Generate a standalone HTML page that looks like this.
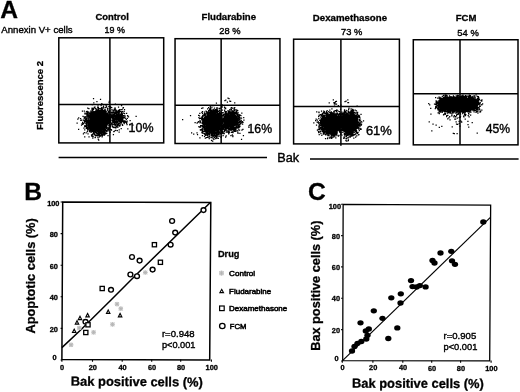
<!DOCTYPE html>
<html><head><meta charset="utf-8"><title>Figure</title>
<style>
html,body{margin:0;padding:0;background:#fff;}
body{width:520px;height:392px;overflow:hidden;font-family:"Liberation Sans",sans-serif;}
svg{display:block;position:absolute;left:0;top:0;filter:grayscale(1)}
text{font-family:"Liberation Sans",sans-serif;fill:#000;stroke:#000;stroke-width:.38px}
.b{stroke-width:.3px}
.b{font-weight:bold}
</style></head><body>
<svg width="520" height="392" viewBox="0 0 520 392">
<rect width="520" height="392" fill="#fff"/>
<text x="0.3" y="18.0" font-size="24.6" class="b">A</text>
<text x="1.3" y="33.4" font-size="9.7" textLength="71.3" lengthAdjust="spacingAndGlyphs">Annexin V+ cells</text>
<text x="95.4" y="19.7" font-size="9.8" class="b" textLength="33.5" lengthAdjust="spacingAndGlyphs">Control</text>
<text x="201.5" y="20.0" font-size="9.8" class="b" textLength="54.6" lengthAdjust="spacingAndGlyphs">Fludarabine</text>
<text x="312.8" y="21.0" font-size="9.8" class="b" textLength="74.3" lengthAdjust="spacingAndGlyphs">Dexamethasone</text>
<text x="455.7" y="20.9" font-size="9.8" class="b" textLength="20.7" lengthAdjust="spacingAndGlyphs">FCM</text>
<text x="104.6" y="33.0" font-size="9.8" textLength="20.4" lengthAdjust="spacingAndGlyphs">19 %</text>
<text x="219.2" y="34.0" font-size="9.8" textLength="21.3" lengthAdjust="spacingAndGlyphs">28 %</text>
<text x="341" y="35.2" font-size="9.8" textLength="21.3" lengthAdjust="spacingAndGlyphs">73 %</text>
<text x="457.3" y="35.5" font-size="9.8" textLength="21.5" lengthAdjust="spacingAndGlyphs">54 %</text>
<text x="43.3" y="130.0" font-size="9.8" class="b" textLength="69" lengthAdjust="spacingAndGlyphs" transform="rotate(-90 43.3 130.0)">Fluorescence 2</text>
<rect x="58.8" y="37.8" width="104.9" height="105.1" fill="none" stroke="#000" stroke-width="1.5"/>
<path d="M109.9 37.8V142.95M58.8 104.5H163.65" stroke="#000" stroke-width="1.5" fill="none"/>
<rect x="175.05" y="38.7" width="104.9" height="104.8" fill="none" stroke="#000" stroke-width="1.5"/>
<path d="M221.15 38.7V143.5M175.05 105.2H280.0" stroke="#000" stroke-width="1.5" fill="none"/>
<rect x="293.6" y="39.2" width="105.8" height="104.7" fill="none" stroke="#000" stroke-width="1.5"/>
<path d="M340.9 39.2V145.75M293.6 106.45H399.4" stroke="#000" stroke-width="1.5" fill="none"/>
<rect x="413.3" y="39.75" width="104.7" height="105.1" fill="none" stroke="#000" stroke-width="1.5"/>
<path d="M460.0 39.75V144.8M413.3 93.8H518.0" stroke="#000" stroke-width="1.5" fill="none"/>
<path d="M58.6 157.5H267M310 159.1H518.6" stroke="#000" stroke-width="1.5" fill="none"/>
<text x="277.2" y="161.8" font-size="12.5" textLength="21.9" lengthAdjust="spacingAndGlyphs">Bak</text>
<text x="128.5" y="131.7" font-size="13" textLength="25" lengthAdjust="spacingAndGlyphs">10%</text>
<text x="247.5" y="133" font-size="13" textLength="24.6" lengthAdjust="spacingAndGlyphs">16%</text>
<text x="365.9" y="135" font-size="13" textLength="26" lengthAdjust="spacingAndGlyphs">61%</text>
<text x="485.8" y="132.9" font-size="13" textLength="24.4" lengthAdjust="spacingAndGlyphs">45%</text>
<ellipse cx="98.8" cy="121.0" rx="8.1" ry="8.4" fill="#000"/>
<path d="M89.3 125.8h1.25M99.6 128.8h1.25M94.7 130.6h1.25M91.6 117.1h1.25M95.5 127.8h1.25M95.3 130.5h1.25M98.6 128.3h1.25M104.5 114.6h1.25M90.4 125.6h1.25M93.8 112.7h1.25M95.9 113.9h1.25M88.4 123.9h1.25M90.4 122.3h1.25M96.0 113.3h1.25M92.3 126.5h1.25M91.8 123.2h1.25M102.8 110.9h1.25M108.4 111.6h1.25M93.5 126.3h1.25M92.3 115.3h1.25M105.9 115.2h1.25M103.5 115.5h1.25M108.2 106.6h1.25M97.4 131.5h1.25M111.4 123.0h1.25M102.4 126.6h1.25M83.6 118.3h1.25M100.0 131.1h1.25M104.2 112.9h1.25M93.5 107.9h1.25M113.1 114.6h1.25M100.4 128.5h1.25M92.8 112.8h1.25M92.0 110.6h1.25M102.4 129.9h1.25M102.8 106.8h1.25M87.7 128.9h1.25M105.1 130.9h1.25M104.4 129.3h1.25M112.6 122.3h1.25M85.9 118.8h1.25M105.3 113.4h1.25M98.7 128.4h1.25M91.4 122.9h1.25M87.7 127.0h1.25M89.7 122.5h1.25M89.4 117.7h1.25M96.7 130.5h1.25M89.9 117.4h1.25M91.3 123.7h1.25M90.0 120.3h1.25M106.1 117.9h1.25M86.3 116.1h1.25M93.7 112.4h1.25M103.1 128.3h1.25M105.3 130.1h1.25M100.8 134.6h1.25M82.0 122.4h1.25M112.7 127.4h1.25M106.8 115.5h1.25M105.5 131.1h1.25M106.0 124.0h1.25M109.8 126.8h1.25M94.7 127.0h1.25M97.6 114.0h1.25M85.8 123.1h1.25M88.1 121.3h1.25M90.1 120.6h1.25M92.7 129.8h1.25M104.2 111.5h1.25M97.2 135.3h1.25M99.1 128.4h1.25M98.3 112.8h1.25M91.1 135.4h1.25M97.0 113.1h1.25M104.1 110.8h1.25M97.3 110.8h1.25M103.3 112.3h1.25M88.4 115.0h1.25M101.8 114.9h1.25M92.6 115.0h1.25M108.0 121.2h1.25M97.4 105.8h1.25M94.6 112.3h1.25M94.4 113.4h1.25M106.7 129.0h1.25M115.9 118.5h1.25M88.6 123.6h1.25M101.6 134.1h1.25M85.1 118.9h1.25M104.7 115.3h1.25M98.3 110.3h1.25M105.9 117.1h1.25M82.8 133.8h1.25M106.5 127.3h1.25M109.1 117.8h1.25M90.2 111.9h1.25M90.1 118.3h1.25M98.4 112.9h1.25M110.1 124.9h1.25M95.7 129.8h1.25M97.8 129.2h1.25M101.4 132.8h1.25M100.5 133.0h1.25M88.1 116.0h1.25M95.9 135.5h1.25M90.7 120.8h1.25M85.7 125.6h1.25M106.6 122.8h1.25M88.4 122.7h1.25M88.7 129.1h1.25M107.2 109.2h1.25M90.2 119.8h1.25M96.9 113.0h1.25M91.7 122.9h1.25M105.1 117.1h1.25M92.8 114.4h1.25M100.0 131.5h1.25M105.8 118.9h1.25M98.6 135.2h1.25M90.2 121.1h1.25M97.9 129.3h1.25M100.9 112.2h1.25M102.3 135.2h1.25M99.9 130.3h1.25M91.4 125.1h1.25M101.7 135.7h1.25M89.3 128.4h1.25M96.3 101.7h1.25M106.5 117.4h1.25M92.1 129.1h1.25M90.7 130.0h1.25M89.9 126.4h1.25M109.5 125.8h1.25M98.1 109.0h1.25M96.4 134.9h1.25M97.6 129.9h1.25M98.7 108.5h1.25M111.2 117.3h1.25M85.9 121.5h1.25M101.2 112.3h1.25M99.4 113.4h1.25M101.2 129.9h1.25M109.4 119.6h1.25M92.4 115.2h1.25M102.9 114.2h1.25M104.7 130.5h1.25M99.4 131.1h1.25M88.4 122.6h1.25M103.7 135.0h1.25M97.7 130.7h1.25M104.0 125.7h1.25M98.1 128.6h1.25M94.5 128.5h1.25M100.2 114.2h1.25M91.0 118.5h1.25M102.6 128.4h1.25M89.0 126.6h1.25M109.9 121.4h1.25M91.0 118.5h1.25M104.7 125.1h1.25M88.6 121.6h1.25M112.1 115.7h1.25M109.9 125.2h1.25M104.5 116.6h1.25M103.4 129.3h1.25M89.7 127.1h1.25M98.5 130.0h1.25M105.0 122.8h1.25M108.3 123.5h1.25M92.8 116.9h1.25M99.1 130.5h1.25M97.3 111.3h1.25M88.8 130.5h1.25M109.5 106.4h1.25M109.9 117.6h1.25M101.3 108.4h1.25M92.9 128.6h1.25M86.2 120.8h1.25M105.8 117.7h1.25M102.9 129.6h1.25M90.8 119.5h1.25M103.1 115.9h1.25M105.9 120.7h1.25M105.4 120.6h1.25M102.3 129.3h1.25M88.3 108.6h1.25M102.7 127.3h1.25M86.9 120.1h1.25M99.4 129.1h1.25M99.5 128.3h1.25M100.4 128.5h1.25M106.7 130.9h1.25M91.2 112.3h1.25M106.1 121.6h1.25M93.7 127.5h1.25M106.4 117.5h1.25M86.1 116.8h1.25M100.6 128.3h1.25M92.1 113.0h1.25M109.1 124.5h1.25M103.3 113.3h1.25M93.7 129.0h1.25M103.1 113.7h1.25M97.6 129.0h1.25M101.5 136.8h1.25M97.8 107.5h1.25M93.1 131.2h1.25M99.1 133.2h1.25M95.5 113.2h1.25M88.2 123.0h1.25M97.2 113.8h1.25M100.1 128.6h1.25M106.3 123.2h1.25M95.4 112.4h1.25M102.4 111.6h1.25M108.2 125.5h1.25M108.5 123.3h1.25M91.6 113.2h1.25M105.7 126.4h1.25M96.6 129.7h1.25M92.3 134.0h1.25M102.8 114.8h1.25M100.5 131.9h1.25M99.9 99.4h1.25M100.1 129.5h1.25M104.2 126.1h1.25M100.3 112.6h1.25M90.2 129.0h1.25M98.6 111.6h1.25M104.1 129.9h1.25M89.7 124.6h1.25M95.3 110.7h1.25M103.8 135.1h1.25M109.4 129.6h1.25M86.7 131.7h1.25M100.9 128.5h1.25M100.4 112.7h1.25M102.9 126.9h1.25M97.6 108.8h1.25M90.3 116.8h1.25M99.5 129.9h1.25M99.6 112.4h1.25M95.0 113.8h1.25M95.4 128.3h1.25M90.0 125.7h1.25M92.7 109.5h1.25M93.0 113.0h1.25M83.7 122.0h1.25M100.8 108.0h1.25M104.0 125.3h1.25M91.8 112.9h1.25M87.2 128.3h1.25M97.6 107.7h1.25M100.2 130.9h1.25M99.9 110.9h1.25M91.5 122.4h1.25M91.9 113.1h1.25M106.9 121.2h1.25M93.1 114.8h1.25M107.9 116.2h1.25M103.8 110.3h1.25M104.8 129.2h1.25M105.8 118.6h1.25M99.3 130.6h1.25M105.0 130.9h1.25M103.9 131.3h1.25M99.9 112.8h1.25M100.7 110.6h1.25M103.4 116.2h1.25M83.7 117.2h1.25M90.9 117.8h1.25M93.3 115.0h1.25M92.0 115.6h1.25M90.9 134.9h1.25M86.8 122.1h1.25M96.8 113.3h1.25M88.8 117.5h1.25M83.6 120.4h1.25M91.7 116.9h1.25M106.7 123.2h1.25M102.8 132.7h1.25M93.1 112.7h1.25M92.6 116.0h1.25M95.9 113.9h1.25M100.2 129.1h1.25M100.1 108.7h1.25M91.5 128.6h1.25M90.4 110.9h1.25M105.5 127.9h1.25M87.6 113.8h1.25M104.5 125.8h1.25M106.5 121.3h1.25M106.9 122.0h1.25M107.2 124.0h1.25M103.7 113.9h1.25M92.4 114.6h1.25M110.0 118.2h1.25M106.1 121.8h1.25M93.6 114.8h1.25M91.2 127.5h1.25M99.8 113.9h1.25M111.8 126.6h1.25M86.6 111.5h1.25M88.1 126.1h1.25M95.4 114.0h1.25M92.0 124.5h1.25M103.2 112.1h1.25M104.1 112.8h1.25M104.2 124.6h1.25M101.1 129.9h1.25M99.0 128.6h1.25M98.0 130.3h1.25M101.5 112.0h1.25M88.2 115.3h1.25M116.1 126.3h1.25M104.3 125.9h1.25M102.3 127.3h1.25M114.4 124.6h1.25M91.3 121.6h1.25M107.0 117.8h1.25M104.8 123.3h1.25M85.7 124.5h1.25M105.0 124.0h1.25M108.3 130.7h1.25M91.2 117.8h1.25M114.6 117.3h1.25M91.3 130.7h1.25M100.2 112.4h1.25M103.9 128.4h1.25M90.7 115.9h1.25M105.4 130.2h1.25M110.4 123.9h1.25M108.2 116.5h1.25M108.5 128.4h1.25M92.9 129.8h1.25M96.8 114.1h1.25M96.9 131.6h1.25M93.5 132.0h1.25M104.6 115.9h1.25M87.4 133.9h1.25M95.5 132.6h1.25M102.2 129.7h1.25M104.6 125.0h1.25M91.9 115.3h1.25M106.3 124.6h1.25M104.2 111.6h1.25M110.1 122.2h1.25M102.3 130.7h1.25M96.1 110.9h1.25M94.6 129.0h1.25M107.6 111.0h1.25M98.3 131.3h1.25M105.2 125.9h1.25M105.6 121.8h1.25M90.0 119.7h1.25M104.2 114.5h1.25M103.0 126.7h1.25M102.5 126.8h1.25M103.5 130.0h1.25M88.1 129.1h1.25M108.0 119.8h1.25M102.5 111.0h1.25M84.8 119.5h1.25M107.5 119.2h1.25M91.7 113.4h1.25M86.5 117.7h1.25M86.2 126.6h1.25M95.6 128.6h1.25M87.1 113.2h1.25M104.1 124.7h1.25M92.9 116.4h1.25M100.9 129.4h1.25M91.2 118.7h1.25M90.8 128.0h1.25M91.8 129.9h1.25M94.8 137.2h1.25M108.3 125.6h1.25M90.1 124.4h1.25M100.4 135.0h1.25M93.4 127.7h1.25M104.2 112.6h1.25M97.7 111.8h1.25M88.9 122.5h1.25M99.0 113.6h1.25M105.1 119.3h1.25M100.6 109.9h1.25M89.9 123.3h1.25M93.0 125.5h1.25M94.1 129.9h1.25M102.6 126.8h1.25M108.6 127.6h1.25M104.0 112.1h1.25M105.0 123.1h1.25M106.5 116.4h1.25M90.1 120.1h1.25M93.8 126.9h1.25M106.0 118.3h1.25M92.7 125.2h1.25M108.5 111.1h1.25M91.3 123.9h1.25M92.1 135.1h1.25M104.8 115.7h1.25M109.6 120.3h1.25M93.3 115.4h1.25M106.0 120.7h1.25M90.2 126.2h1.25M94.8 131.1h1.25M91.4 121.1h1.25M105.4 120.9h1.25M88.3 119.5h1.25M107.5 121.8h1.25M107.8 128.1h1.25M103.8 116.3h1.25M91.3 123.9h1.25M110.3 124.5h1.25M93.7 132.0h1.25M95.9 128.2h1.25M85.1 121.4h1.25M91.7 126.7h1.25M94.3 131.6h1.25M103.9 134.8h1.25M105.5 128.3h1.25M106.1 122.8h1.25M103.0 128.3h1.25M97.0 131.5h1.25M88.7 124.7h1.25M104.1 127.4h1.25M104.1 116.6h1.25M98.5 128.7h1.25M91.6 120.4h1.25M94.5 114.9h1.25M103.0 130.8h1.25M88.6 128.0h1.25M106.3 113.5h1.25M94.9 113.5h1.25M91.5 125.3h1.25M98.4 131.8h1.25M107.2 129.2h1.25M95.4 128.4h1.25M102.0 114.8h1.25M108.5 121.1h1.25M102.8 114.9h1.25M106.0 116.2h1.25M98.1 110.5h1.25M109.3 128.3h1.25M105.8 117.4h1.25M102.0 114.1h1.25M106.2 123.9h1.25M85.9 120.0h1.25M95.4 111.3h1.25M84.6 116.7h1.25M96.2 113.0h1.25M86.4 125.4h1.25M94.9 132.1h1.25M101.0 114.5h1.25M102.2 128.3h1.25M89.4 123.3h1.25M101.0 129.2h1.25M115.1 122.2h1.25M105.7 125.5h1.25M101.8 130.1h1.25M105.1 117.1h1.25M105.5 117.8h1.25M107.5 122.7h1.25M91.5 112.7h1.25M102.9 129.6h1.25M102.3 130.6h1.25M93.7 126.2h1.25M105.1 122.9h1.25M101.9 113.1h1.25M96.1 128.0h1.25M84.9 126.2h1.25M102.7 132.7h1.25M104.0 111.7h1.25M90.9 124.1h1.25M109.9 118.8h1.25M111.9 118.7h1.25M95.0 114.1h1.25M86.3 115.0h1.25M92.1 130.7h1.25M101.4 128.8h1.25M105.1 125.2h1.25M91.5 119.6h1.25M103.5 116.5h1.25M91.1 120.4h1.25M88.3 125.1h1.25M96.3 111.8h1.25M106.9 120.5h1.25M104.8 133.5h1.25M105.5 121.7h1.25M95.7 129.4h1.25M104.1 116.0h1.25M87.2 116.2h1.25M102.7 129.1h1.25M99.0 112.6h1.25M97.2 107.4h1.25M105.4 123.1h1.25M89.0 118.0h1.25M105.5 117.2h1.25M102.0 114.7h1.25M105.1 130.0h1.25M94.7 111.5h1.25M105.1 113.8h1.25M102.4 130.4h1.25M104.0 130.1h1.25M103.5 115.5h1.25M104.0 116.4h1.25M91.4 122.5h1.25M103.2 127.6h1.25M97.8 128.2h1.25M114.5 116.3h1.25M89.7 117.4h1.25M99.5 113.2h1.25M101.4 110.1h1.25M99.0 111.8h1.25M91.1 136.0h1.25M91.7 123.4h1.25M97.3 114.0h1.25M91.7 131.6h1.25M84.3 113.0h1.25M86.8 122.2h1.25M89.7 114.3h1.25M101.2 129.6h1.25M102.3 110.4h1.25M87.6 118.4h1.25M94.1 129.3h1.25M91.6 125.7h1.25M105.6 123.2h1.25M91.0 121.3h1.25M104.5 117.7h1.25M105.3 123.7h1.25M91.3 119.2h1.25M94.3 114.7h1.25M96.1 111.8h1.25M94.9 130.0h1.25M85.6 119.1h1.25M93.1 113.0h1.25M97.4 108.4h1.25M107.5 122.8h1.25M93.1 131.8h1.25M109.7 114.4h1.25M98.7 113.0h1.25M105.4 112.4h1.25M98.4 110.6h1.25M95.3 114.1h1.25M88.5 115.5h1.25M100.3 110.0h1.25M109.8 107.3h1.25M102.3 128.4h1.25M91.9 131.6h1.25M109.4 110.4h1.25M99.2 130.9h1.25M86.2 121.3h1.25M101.4 135.3h1.25M106.5 121.6h1.25M91.7 119.1h1.25M109.2 119.7h1.25M85.6 128.3h1.25M88.7 113.0h1.25M106.0 128.2h1.25M94.2 115.4h1.25M98.0 110.0h1.25M83.7 111.1h1.25M92.2 114.3h1.25M91.0 119.7h1.25M95.0 128.1h1.25M99.5 128.6h1.25M106.1 131.0h1.25M103.0 130.2h1.25M91.9 112.9h1.25M90.8 128.2h1.25M92.3 128.9h1.25M83.7 132.6h1.25M101.0 112.0h1.25M100.4 127.9h1.25M102.0 129.0h1.25M91.3 112.6h1.25M89.8 125.6h1.25M91.8 125.4h1.25M87.5 115.0h1.25M106.7 119.4h1.25M106.5 125.0h1.25M105.7 115.5h1.25M88.3 123.5h1.25M87.1 122.9h1.25M101.9 113.6h1.25M95.4 114.6h1.25M106.0 125.9h1.25M106.0 123.9h1.25M81.8 111.0h1.25M114.5 121.6h1.25M98.0 132.1h1.25M104.8 113.5h1.25M91.2 121.5h1.25M104.3 117.5h1.25M92.4 124.9h1.25M96.9 130.9h1.25M95.9 111.2h1.25M86.2 124.7h1.25M91.2 124.2h1.25M104.4 117.6h1.25M90.2 121.1h1.25M101.1 107.6h1.25M105.1 116.2h1.25M106.1 124.0h1.25M99.1 128.4h1.25M102.9 106.1h1.25M89.8 123.0h1.25M114.2 112.4h1.25M93.1 128.6h1.25M87.6 122.1h1.25M106.5 114.3h1.25M86.8 112.5h1.25M105.7 118.2h1.25M98.4 130.2h1.25M104.6 124.0h1.25M89.3 117.9h1.25M92.7 126.9h1.25M104.5 132.7h1.25M104.3 111.5h1.25M99.0 132.3h1.25M100.1 114.0h1.25M99.5 130.2h1.25M95.3 132.4h1.25M90.5 115.5h1.25M85.8 111.7h1.25M92.2 115.2h1.25M92.9 129.6h1.25M98.6 130.1h1.25M116.7 118.1h1.25M100.5 109.0h1.25M90.9 113.3h1.25M105.5 125.9h1.25M105.6 133.4h1.25M104.3 109.4h1.25M98.0 110.4h1.25M102.6 112.3h1.25M94.1 134.6h1.25M107.6 119.1h1.25M105.2 116.4h1.25M90.9 127.2h1.25M93.0 108.8h1.25M92.4 112.3h1.25M89.8 115.0h1.25M92.0 129.6h1.25M97.2 129.6h1.25M93.1 112.4h1.25M96.5 135.0h1.25M100.1 132.6h1.25M84.8 121.0h1.25M104.2 133.0h1.25M88.1 117.4h1.25M89.4 130.0h1.25M94.3 114.3h1.25M90.3 119.8h1.25M102.5 113.7h1.25M89.8 124.0h1.25M97.1 111.8h1.25M109.2 117.6h1.25M92.3 117.2h1.25M91.3 126.8h1.25M96.5 130.3h1.25M106.0 119.9h1.25M106.6 119.0h1.25M89.3 116.2h1.25M87.3 119.8h1.25M111.8 118.0h1.25M93.6 133.5h1.25M101.7 132.7h1.25M102.3 114.2h1.25M90.8 118.0h1.25M96.5 128.7h1.25M101.5 114.6h1.25M89.7 118.2h1.25M89.9 126.3h1.25M95.6 128.5h1.25M92.8 114.6h1.25M88.2 129.2h1.25M102.6 131.4h1.25M90.3 119.9h1.25M87.7 120.9h1.25M103.6 112.8h1.25M103.0 127.8h1.25M86.8 121.0h1.25M97.9 110.6h1.25M95.9 112.6h1.25M90.3 114.7h1.25M105.0 125.7h1.25M105.9 121.2h1.25M91.8 123.4h1.25M108.1 123.6h1.25M99.5 128.8h1.25M94.9 127.3h1.25M103.5 112.4h1.25M107.5 122.9h1.25M105.3 124.0h1.25M91.1 120.4h1.25M110.3 107.3h1.25M90.5 123.4h1.25M97.6 128.1h1.25M107.1 119.4h1.25M105.9 116.7h1.25M109.0 121.9h1.25M87.1 108.2h1.25M91.2 130.5h1.25M110.2 120.3h1.25M88.4 122.5h1.25M103.7 125.6h1.25M110.0 122.6h1.25M112.6 115.7h1.25M102.2 111.1h1.25M108.5 121.6h1.25M90.3 112.8h1.25M98.8 133.2h1.25M104.0 125.6h1.25M91.7 116.9h1.25M94.3 113.2h1.25M93.4 114.1h1.25M105.7 130.5h1.25M90.9 127.2h1.25M92.4 114.1h1.25M110.6 129.5h1.25M99.0 133.9h1.25M92.4 109.6h1.25M106.7 119.5h1.25M100.9 109.6h1.25M108.8 121.2h1.25M93.0 115.9h1.25M103.0 112.0h1.25M103.9 126.6h1.25M105.0 120.0h1.25M105.6 126.0h1.25M86.6 111.4h1.25M104.6 126.6h1.25M92.1 125.2h1.25M105.9 116.4h1.25M107.1 115.4h1.25M106.3 122.6h1.25M88.3 125.8h1.25M84.1 126.5h1.25M106.6 117.1h1.25M107.3 120.7h1.25M107.5 112.7h1.25M99.5 111.4h1.25M106.3 127.4h1.25M84.7 117.6h1.25M90.6 119.4h1.25M105.4 116.6h1.25M94.5 137.6h1.25M97.8 129.9h1.25M95.1 113.1h1.25M97.5 135.4h1.25M91.7 116.6h1.25M84.0 121.6h1.25M96.9 130.5h1.25M91.4 125.6h1.25M104.3 113.0h1.25M102.6 132.3h1.25M94.4 114.7h1.25M110.9 130.1h1.25M94.3 115.1h1.25M91.6 127.5h1.25M93.0 111.9h1.25M85.9 123.5h1.25M98.0 113.8h1.25M108.7 118.4h1.25M100.5 128.9h1.25M109.7 132.0h1.25M92.1 116.0h1.25M102.6 108.2h1.25M99.4 128.5h1.25M98.3 113.6h1.25M89.0 127.8h1.25M105.8 120.6h1.25M100.3 135.1h1.25M91.6 123.0h1.25M108.3 130.8h1.25M88.5 115.3h1.25M88.8 127.4h1.25M106.9 110.2h1.25M109.7 125.0h1.25M94.9 135.2h1.25M104.0 112.7h1.25M98.6 129.2h1.25M101.9 109.6h1.25M103.9 116.6h1.25M90.3 119.7h1.25M97.9 113.2h1.25M91.9 108.6h1.25M90.3 122.3h1.25M107.5 118.5h1.25M86.0 127.0h1.25M86.7 128.7h1.25M99.3 130.1h1.25M93.5 112.8h1.25M87.1 114.4h1.25M93.1 127.9h1.25M106.4 121.9h1.25M88.8 131.5h1.25M102.3 114.1h1.25M94.4 107.0h1.25M97.9 131.4h1.25M104.8 111.7h1.25M89.8 119.0h1.25M103.7 131.7h1.25M92.9 98.5h1.25M107.8 129.6h1.25M104.6 125.3h1.25M97.5 130.9h1.25M103.0 132.9h1.25M101.1 111.4h1.25M95.7 111.2h1.25M94.7 114.8h1.25M100.8 127.9h1.25M89.8 119.1h1.25M96.3 128.7h1.25M89.6 113.0h1.25M95.3 128.7h1.25M99.7 110.6h1.25M107.6 118.4h1.25M94.8 129.2h1.25M105.6 131.6h1.25M96.1 111.7h1.25M86.6 125.2h1.25M90.9 123.2h1.25M113.1 124.7h1.25M106.5 124.9h1.25M96.1 130.3h1.25M102.5 129.5h1.25M98.9 135.9h1.25M97.8 130.2h1.25M105.4 118.9h1.25M89.9 122.9h1.25M82.1 124.3h1.25M102.5 129.2h1.25M103.0 110.9h1.25M107.4 121.6h1.25M109.0 112.8h1.25M104.1 112.6h1.25M90.9 112.2h1.25M98.7 133.6h1.25M107.0 120.5h1.25M104.1 112.0h1.25M106.5 131.1h1.25M94.8 113.7h1.25M103.0 115.9h1.25M93.3 129.3h1.25M107.8 122.6h1.25M102.6 107.8h1.25M90.6 112.2h1.25M105.4 115.6h1.25M103.3 115.8h1.25M89.6 115.5h1.25M104.1 115.3h1.25M106.4 118.8h1.25M102.4 112.1h1.25M99.8 130.1h1.25M100.5 132.4h1.25M95.2 108.5h1.25M121.7 114.2h1.25M104.1 117.2h1.25M107.6 113.8h1.25M85.8 120.1h1.25M103.0 127.2h1.25M91.8 124.5h1.25M93.7 128.5h1.25M89.0 113.7h1.25M90.9 116.4h1.25M96.3 112.4h1.25M104.8 110.2h1.25M100.7 112.9h1.25M90.8 123.0h1.25M93.6 129.2h1.25M92.0 125.2h1.25M84.8 126.6h1.25M100.6 128.1h1.25M94.1 107.1h1.25M93.4 127.9h1.25M104.5 130.2h1.25M108.8 121.4h1.25M93.7 127.3h1.25M96.3 127.8h1.25M97.1 107.4h1.25M91.3 129.2h1.25M91.4 116.5h1.25M104.7 118.6h1.25M106.1 115.0h1.25M86.1 118.4h1.25M92.7 126.0h1.25M97.5 130.1h1.25M109.4 113.8h1.25M101.4 129.7h1.25M104.6 114.3h1.25M106.7 122.2h1.25M101.4 128.0h1.25M99.9 136.1h1.25M93.1 128.4h1.25M90.3 119.4h1.25M89.4 124.7h1.25M87.7 124.5h1.25M108.3 117.1h1.25M101.3 111.7h1.25M108.0 121.4h1.25M94.9 114.6h1.25M86.8 128.7h1.25M105.0 117.7h1.25M106.2 115.4h1.25M105.5 105.5h1.25M94.5 129.6h1.25M96.4 133.5h1.25M106.5 117.0h1.25M98.8 113.7h1.25M97.3 113.0h1.25M89.7 121.3h1.25M90.0 130.1h1.25M89.5 116.6h1.25M87.9 124.0h1.25M104.9 127.3h1.25M98.4 131.3h1.25M105.1 111.5h1.25M96.6 112.1h1.25M104.8 128.8h1.25M104.5 116.7h1.25M99.3 113.2h1.25M108.0 128.2h1.25M94.6 112.6h1.25M88.5 123.4h1.25M95.5 114.5h1.25M89.7 117.8h1.25M104.2 130.9h1.25M113.1 117.0h1.25M86.0 113.8h1.25M93.5 115.8h1.25M105.6 118.5h1.25M103.5 114.7h1.25M105.1 121.4h1.25M102.5 113.9h1.25M113.4 113.3h1.25M88.2 127.1h1.25M92.0 134.1h1.25M105.7 107.2h1.25M91.3 109.2h1.25M105.8 120.7h1.25M102.9 128.6h1.25M91.0 130.3h1.25M102.6 127.0h1.25M92.1 117.8h1.25M99.1 130.4h1.25M93.4 111.7h1.25M86.1 120.8h1.25M104.9 125.3h1.25M93.0 132.0h1.25M102.8 114.4h1.25M105.4 126.5h1.25M91.7 104.5h1.25M97.5 129.3h1.25M91.6 126.0h1.25M82.4 116.4h1.25M107.4 116.9h1.25M104.0 127.1h1.25M85.3 113.8h1.25M96.2 111.2h1.25M90.8 116.5h1.25M96.7 109.9h1.25M104.4 130.4h1.25M111.1 107.7h1.25M106.3 115.7h1.25M86.2 113.2h1.25M104.9 118.7h1.25M91.1 120.5h1.25M99.4 112.3h1.25M91.4 126.1h1.25M89.6 122.0h1.25M98.6 111.9h1.25M99.3 130.8h1.25M94.9 113.9h1.25M91.5 108.2h1.25M105.8 127.3h1.25M95.6 109.4h1.25M107.6 115.8h1.25M105.1 111.5h1.25M101.6 130.0h1.25M106.8 129.2h1.25M92.5 125.5h1.25M92.0 127.8h1.25M95.1 113.9h1.25M106.3 122.1h1.25M105.6 111.3h1.25M92.2 117.2h1.25M93.8 115.0h1.25M90.7 130.1h1.25M107.7 123.4h1.25M97.2 130.6h1.25M91.7 114.1h1.25M97.7 130.3h1.25M96.2 129.4h1.25M90.9 129.0h1.25M94.5 127.6h1.25M104.2 126.4h1.25M86.5 128.0h1.25M94.1 113.9h1.25M100.9 135.0h1.25M101.9 128.1h1.25M97.9 129.0h1.25M90.9 121.8h1.25M95.4 128.9h1.25M91.3 114.5h1.25M101.7 114.7h1.25M108.2 119.0h1.25M104.1 125.8h1.25M111.5 115.0h1.25M97.1 131.8h1.25M109.6 122.2h1.25M102.3 113.5h1.25M96.1 133.4h1.25M109.5 108.6h1.25M107.1 116.4h1.25M104.4 117.8h1.25M102.7 134.2h1.25M98.0 110.4h1.25M107.2 122.6h1.25M97.4 112.8h1.25M88.8 120.6h1.25M97.1 128.9h1.25M93.2 126.1h1.25M101.6 114.8h1.25M104.5 113.5h1.25M92.1 108.7h1.25M100.3 132.1h1.25M107.3 123.3h1.25M91.3 117.4h1.25M93.2 114.3h1.25M90.0 118.2h1.25M104.1 111.4h1.25M91.7 128.1h1.25M104.8 126.4h1.25M107.1 123.2h1.25M99.5 110.5h1.25M94.6 114.9h1.25M88.2 117.0h1.25M90.7 129.5h1.25M105.9 121.7h1.25M96.3 112.2h1.25M93.4 114.6h1.25M95.0 127.7h1.25M103.9 127.0h1.25M88.9 118.1h1.25M93.9 134.9h1.25M92.1 112.6h1.25M87.9 124.6h1.25M89.8 124.5h1.25M86.9 127.0h1.25M98.8 128.2h1.25M91.0 116.5h1.25M94.5 132.8h1.25M104.8 128.9h1.25M89.5 114.6h1.25M105.9 124.4h1.25M97.1 128.9h1.25M88.6 127.2h1.25M109.6 119.6h1.25M101.2 113.9h1.25M106.1 120.9h1.25M97.9 128.7h1.25M90.0 123.1h1.25M90.6 122.2h1.25M95.4 112.3h1.25M92.6 125.2h1.25M103.3 133.7h1.25M101.2 103.7h1.25M97.9 112.1h1.25M103.9 111.0h1.25M101.4 110.7h1.25M102.2 127.0h1.25M103.1 128.4h1.25M112.0 121.0h1.25M105.2 126.2h1.25M95.0 135.4h1.25M109.5 120.2h1.25M95.9 111.1h1.25M88.9 117.8h1.25M96.5 113.9h1.25M93.2 115.5h1.25M101.0 114.3h1.25M94.9 108.5h1.25M91.7 109.8h1.25M104.1 126.0h1.25M98.4 129.5h1.25M115.6 115.1h1.25M100.3 113.4h1.25M86.9 128.3h1.25M103.8 113.1h1.25M95.0 127.9h1.25M102.6 113.6h1.25M102.0 114.6h1.25M97.7 128.8h1.25M105.3 126.4h1.25M89.4 114.4h1.25M104.1 115.3h1.25M107.2 116.0h1.25M98.4 128.3h1.25M95.7 130.1h1.25M95.0 127.1h1.25M87.4 116.0h1.25M91.7 122.8h1.25M105.7 119.5h1.25M93.2 102.8h1.25M93.6 131.3h1.25M92.5 112.9h1.25M86.8 113.8h1.25M92.8 129.3h1.25M89.6 117.5h1.25M85.6 121.6h1.25M86.5 117.2h1.25M96.1 114.0h1.25M104.5 129.1h1.25M101.0 134.0h1.25M105.1 113.2h1.25M99.3 111.4h1.25M106.0 106.9h1.25M104.4 110.1h1.25M95.0 113.2h1.25M98.2 128.0h1.25M105.5 111.9h1.25M95.7 113.1h1.25M99.9 111.6h1.25M106.4 125.2h1.25M98.5 129.3h1.25M98.8 130.9h1.25M96.5 130.0h1.25M103.4 115.0h1.25M89.4 129.7h1.25M91.7 123.3h1.25M83.3 128.0h1.25M90.7 128.2h1.25M92.5 114.0h1.25M108.3 114.6h1.25M84.5 123.0h1.25M105.1 117.2h1.25M84.1 129.9h1.25M104.1 112.5h1.25M101.0 112.4h1.25M88.2 115.6h1.25M91.2 120.1h1.25M104.3 132.7h1.25M105.2 120.1h1.25M93.0 129.1h1.25M99.1 130.7h1.25M94.2 113.6h1.25M107.0 116.0h1.25M104.6 123.9h1.25M97.7 113.2h1.25M100.8 113.9h1.25M92.9 125.5h1.25M106.3 119.6h1.25M88.1 124.8h1.25M99.2 129.7h1.25M98.8 113.7h1.25M100.8 130.5h1.25M107.3 123.2h1.25M97.8 129.3h1.25M97.4 112.7h1.25M91.2 119.3h1.25M93.2 128.4h1.25M102.4 129.0h1.25M107.8 112.2h1.25M98.3 112.4h1.25M97.9 134.7h1.25M87.8 126.1h1.25M109.8 122.0h1.25M113.8 122.8h1.25M115.2 113.3h1.25M117.7 111.8h1.25M114.6 119.7h1.25M114.1 116.2h1.25M117.1 116.7h1.25M116.5 123.2h1.25M112.3 121.9h1.25M118.6 123.5h1.25M119.4 117.2h1.25M120.1 118.4h1.25M119.9 122.0h1.25M116.7 115.5h1.25M117.8 115.7h1.25M116.6 112.3h1.25M113.2 121.4h1.25M108.3 127.5h1.25M118.0 123.0h1.25M123.6 123.5h1.25M116.0 111.3h1.25M118.4 116.9h1.25M115.2 113.5h1.25M108.5 121.6h1.25M120.8 115.7h1.25M106.5 119.0h1.25M114.8 117.2h1.25M125.2 121.8h1.25M103.2 123.1h1.25M118.1 117.0h1.25M114.6 108.8h1.25M121.1 115.2h1.25M117.7 114.1h1.25M119.7 115.8h1.25M127.2 128.8h1.25M116.7 120.0h1.25M112.4 112.3h1.25M100.6 125.6h1.25M114.4 118.3h1.25M126.4 124.5h1.25M115.8 116.2h1.25M109.8 117.7h1.25M106.5 116.9h1.25M119.9 114.1h1.25M116.4 122.6h1.25M105.9 113.4h1.25M100.1 116.4h1.25M120.7 117.9h1.25M119.9 120.9h1.25M121.4 115.0h1.25M113.2 110.5h1.25M113.3 124.5h1.25M109.3 115.4h1.25M118.4 121.2h1.25M120.9 105.5h1.25M116.6 119.6h1.25M115.8 110.9h1.25M109.2 116.9h1.25M111.4 112.1h1.25M107.1 117.8h1.25M119.8 121.0h1.25M109.8 119.9h1.25M111.7 120.6h1.25M119.2 117.0h1.25M115.1 113.0h1.25M111.8 115.1h1.25M126.7 118.4h1.25M114.7 122.5h1.25M126.5 121.0h1.25M116.2 121.0h1.25M117.7 112.5h1.25M117.0 125.7h1.25M117.6 115.7h1.25M124.4 116.8h1.25M117.1 118.8h1.25M124.8 121.0h1.25M105.0 119.1h1.25M114.2 116.1h1.25M112.5 119.2h1.25M115.7 115.2h1.25M112.2 122.5h1.25M107.0 120.6h1.25M115.1 113.5h1.25M120.5 116.3h1.25M120.2 120.5h1.25M112.9 114.3h1.25M120.8 121.7h1.25M113.5 123.5h1.25M112.0 117.2h1.25M114.5 125.4h1.25M115.6 122.4h1.25M117.8 120.1h1.25M117.1 121.5h1.25M116.3 112.8h1.25M108.7 122.3h1.25M105.3 122.2h1.25M122.4 116.7h1.25M112.9 120.0h1.25M119.8 114.6h1.25M109.7 118.9h1.25M118.1 121.2h1.25M115.6 117.4h1.25M114.2 118.2h1.25M118.4 125.8h1.25M114.1 120.6h1.25M115.1 121.7h1.25M118.0 110.6h1.25M114.5 115.6h1.25M118.1 120.6h1.25M119.1 112.0h1.25M116.7 130.5h1.25M115.1 118.7h1.25M115.6 126.4h1.25M113.2 114.0h1.25M115.3 119.5h1.25M121.0 105.5h1.25M114.2 114.1h1.25M129.1 124.4h1.25M112.3 114.7h1.25M104.7 121.7h1.25M119.8 123.1h1.25M112.7 117.3h1.25M118.5 119.3h1.25M110.0 117.0h1.25M114.4 107.9h1.25M129.5 120.7h1.25M114.8 119.8h1.25M116.6 115.1h1.25M120.8 111.8h1.25M112.3 110.0h1.25M120.4 123.1h1.25M118.1 119.6h1.25M119.7 120.7h1.25M110.9 116.0h1.25M120.0 119.7h1.25M123.9 109.7h1.25M106.9 115.7h1.25M119.0 119.9h1.25M119.3 114.6h1.25M113.6 117.0h1.25M118.7 109.6h1.25M114.8 119.9h1.25M114.2 113.3h1.25M121.7 124.6h1.25M117.8 113.6h1.25M107.3 116.9h1.25M111.1 123.1h1.25M121.8 111.6h1.25M113.2 120.3h1.25M117.4 113.8h1.25M120.6 128.7h1.25M118.4 112.3h1.25M110.7 116.3h1.25M126.1 123.0h1.25M121.1 122.8h1.25M118.8 110.9h1.25M116.7 117.7h1.25M116.6 114.9h1.25M116.4 114.8h1.25M123.1 113.0h1.25M111.8 118.0h1.25M117.6 110.7h1.25M115.3 112.2h1.25M108.8 124.7h1.25M109.5 119.3h1.25M97.5 114.5h1.25M122.7 113.1h1.25M117.8 115.4h1.25M113.8 109.2h1.25M123.7 117.3h1.25M117.5 118.8h1.25M114.2 120.7h1.25M126.2 122.2h1.25M110.6 115.7h1.25M112.1 114.9h1.25M124.2 115.5h1.25M118.4 118.6h1.25M119.9 120.9h1.25M122.8 107.5h1.25M116.2 118.5h1.25M122.1 119.5h1.25M112.9 112.3h1.25M113.3 124.6h1.25M114.7 112.4h1.25M115.7 118.8h1.25M113.5 115.5h1.25M123.5 111.3h1.25M112.7 117.7h1.25M114.8 104.2h1.25M120.9 117.7h1.25M113.9 116.2h1.25M109.9 126.1h1.25M114.9 120.2h1.25M107.6 112.9h1.25M107.7 115.5h1.25M118.3 116.7h1.25M122.6 117.5h1.25M116.0 118.5h1.25M115.4 123.4h1.25M105.1 112.5h1.25M118.9 115.0h1.25M121.5 118.1h1.25M115.9 121.9h1.25M116.7 124.7h1.25M125.9 123.3h1.25M114.4 113.5h1.25M132.3 125.1h1.25M106.9 119.6h1.25M121.8 115.0h1.25M101.1 116.0h1.25M111.1 109.8h1.25M106.4 114.3h1.25M116.7 116.7h1.25M113.3 116.3h1.25M112.9 118.6h1.25M109.4 113.8h1.25M123.0 121.5h1.25M115.7 125.8h1.25M119.4 114.8h1.25M116.2 111.3h1.25M121.6 118.1h1.25M103.3 110.7h1.25M123.3 120.7h1.25M117.0 122.4h1.25M113.9 121.1h1.25M118.8 121.5h1.25M111.8 124.8h1.25M122.0 121.3h1.25M118.2 116.4h1.25M113.5 113.6h1.25M109.2 112.5h1.25M108.1 118.7h1.25M113.0 118.9h1.25M105.3 114.5h1.25M111.6 116.1h1.25M110.1 112.0h1.25M108.7 101.3h1.25M121.3 115.7h1.25M118.4 115.2h1.25M117.9 117.3h1.25M107.3 118.6h1.25M126.0 113.4h1.25M117.3 118.0h1.25M122.4 118.5h1.25M119.1 126.2h1.25M120.8 116.4h1.25M112.0 116.6h1.25M120.0 117.6h1.25M120.6 113.8h1.25M113.8 123.5h1.25M123.1 122.6h1.25M110.5 116.8h1.25M127.9 116.9h1.25M115.3 110.4h1.25M125.7 119.4h1.25M112.9 114.6h1.25M124.0 113.7h1.25M113.4 121.1h1.25M127.3 116.1h1.25M121.5 117.6h1.25M114.5 109.2h1.25M117.0 114.3h1.25M124.5 122.4h1.25M112.1 117.2h1.25M120.8 121.4h1.25M121.5 117.0h1.25M118.2 111.7h1.25M117.9 107.1h1.25M123.7 121.3h1.25M113.8 121.3h1.25M121.3 119.3h1.25M122.2 117.4h1.25M107.0 116.5h1.25M108.5 121.4h1.25M119.5 114.9h1.25M115.4 111.5h1.25M114.1 116.7h1.25M115.0 119.7h1.25M114.2 110.2h1.25M118.3 124.6h1.25M113.2 115.3h1.25M112.7 119.7h1.25M121.0 112.6h1.25M118.0 120.7h1.25M120.2 118.9h1.25M104.5 118.7h1.25M111.4 112.9h1.25M115.9 117.6h1.25M116.7 115.2h1.25M117.3 124.1h1.25M124.6 118.4h1.25M115.7 122.0h1.25M120.1 117.6h1.25M113.5 121.8h1.25M115.5 118.3h1.25M115.4 110.0h1.25M117.2 127.3h1.25M118.7 125.7h1.25M120.5 121.3h1.25M119.4 120.2h1.25M112.6 111.8h1.25M114.0 119.2h1.25M121.5 109.7h1.25M124.1 121.1h1.25M114.0 120.0h1.25M120.2 109.6h1.25M119.8 116.1h1.25M114.2 114.5h1.25M123.6 122.3h1.25M118.8 120.3h1.25M111.8 113.2h1.25M116.1 114.3h1.25M117.9 120.5h1.25M120.4 119.5h1.25M114.7 115.9h1.25M110.5 114.4h1.25M121.7 120.8h1.25M124.0 121.3h1.25M110.5 114.5h1.25M121.0 116.0h1.25M106.2 115.3h1.25M116.8 111.8h1.25M107.3 108.6h1.25M116.2 114.3h1.25M112.4 118.7h1.25M117.5 124.6h1.25M108.6 120.7h1.25M135.5 116.4h1.25M115.3 124.3h1.25M121.4 115.7h1.25M121.9 118.3h1.25M115.1 119.5h1.25M118.9 118.7h1.25M112.4 121.9h1.25M113.0 119.7h1.25M102.9 113.1h1.25M113.2 120.7h1.25M102.8 118.0h1.25M118.4 119.8h1.25M111.8 120.2h1.25M109.6 119.7h1.25M111.5 112.7h1.25M115.3 118.6h1.25M109.2 116.2h1.25M115.8 113.1h1.25M113.5 127.6h1.25M114.2 127.1h1.25M115.2 122.8h1.25M118.7 119.6h1.25M120.9 119.7h1.25M113.8 109.6h1.25M119.8 114.7h1.25M105.0 119.2h1.25M115.9 120.1h1.25M119.0 118.3h1.25M106.5 113.4h1.25M110.1 118.1h1.25M115.0 127.8h1.25M108.7 117.1h1.25M122.8 115.7h1.25M118.2 115.5h1.25M120.1 121.7h1.25M110.2 118.8h1.25M114.7 111.9h1.25M122.3 108.1h1.25M118.0 117.3h1.25M112.1 118.6h1.25M118.4 116.1h1.25M126.9 115.5h1.25M120.6 120.6h1.25M116.8 114.6h1.25M116.8 117.4h1.25M123.3 121.8h1.25M119.4 116.0h1.25M116.2 118.9h1.25M120.7 119.6h1.25M110.8 123.3h1.25M109.4 116.9h1.25M110.9 115.1h1.25M119.9 111.3h1.25M117.4 118.4h1.25M106.9 108.3h1.25M117.8 115.7h1.25M116.5 112.3h1.25M113.8 116.2h1.25M121.0 122.1h1.25M116.7 116.8h1.25M120.1 116.9h1.25M117.7 115.8h1.25M121.4 113.9h1.25M123.2 117.7h1.25M116.8 112.0h1.25M117.3 124.1h1.25M119.2 119.7h1.25M111.2 116.3h1.25M112.6 115.8h1.25M119.1 114.0h1.25M102.2 111.2h1.25M118.9 123.0h1.25M107.7 118.7h1.25M111.4 117.3h1.25M103.3 116.9h1.25M97.3 129.2h1.25M92.7 123.0h1.25M90.6 124.0h1.25M109.1 111.1h1.25M99.0 126.7h1.25M116.5 126.1h1.25M94.0 130.5h1.25M103.6 129.6h1.25M94.0 115.6h1.25M100.4 129.3h1.25M91.5 117.0h1.25M80.0 118.7h1.25M91.7 123.4h1.25M112.4 119.6h1.25M95.4 127.7h1.25M88.8 123.5h1.25M99.3 121.0h1.25M95.3 115.0h1.25M96.6 124.0h1.25M105.2 115.8h1.25M112.8 134.7h1.25M106.2 133.4h1.25M107.6 116.4h1.25M107.6 128.1h1.25M96.3 127.3h1.25M98.7 123.2h1.25M78.1 117.9h1.25M102.0 121.7h1.25M102.4 129.7h1.25M96.3 124.5h1.25M87.2 111.9h1.25M115.1 130.4h1.25M108.6 120.8h1.25M97.4 119.9h1.25M80.2 120.3h1.25M92.9 133.1h1.25M92.0 125.4h1.25M97.6 119.1h1.25M85.9 125.0h1.25M100.1 118.1h1.25M80.9 125.2h1.25M112.4 127.2h1.25M85.8 125.1h1.25M104.7 133.9h1.25M92.5 136.7h1.25M84.9 123.2h1.25M90.5 129.9h1.25M97.5 125.6h1.25M110.0 118.4h1.25M103.5 119.5h1.25M91.9 116.2h1.25M97.1 137.2h1.25M99.8 110.6h1.25M91.8 127.5h1.25M108.7 116.5h1.25M81.2 120.0h1.25M90.4 132.3h1.25M92.0 124.1h1.25M95.1 118.4h1.25M118.5 113.3h1.25M94.8 123.7h1.25M108.5 127.7h1.25M99.7 117.4h1.25M101.7 123.0h1.25M101.1 121.9h1.25M93.6 118.5h1.25M90.4 118.6h1.25M107.9 118.7h1.25M101.3 114.1h1.25M102.2 125.3h1.25M92.3 130.0h1.25M103.3 133.4h1.25M85.3 119.7h1.25M100.5 105.6h1.25M104.5 107.6h1.25M83.0 120.2h1.25M89.8 116.5h1.25M94.8 129.3h1.25M100.5 118.3h1.25M102.0 124.9h1.25M118.5 132.0h1.25M85.5 132.9h1.25M92.4 118.5h1.25M106.0 122.5h1.25M94.1 124.5h1.25M82.9 123.5h1.25M118.6 129.9h1.25M101.0 122.6h1.25M103.2 128.3h1.25M99.3 116.5h1.25M90.1 128.9h1.25M104.6 122.7h1.25M91.0 122.0h1.25M112.1 126.6h1.25M105.8 121.4h1.25M94.4 131.9h1.25M94.5 117.7h1.25M96.4 131.5h1.25M96.4 114.0h1.25M102.8 125.8h1.25M101.3 128.1h1.25M88.4 136.9h1.25M99.2 128.4h1.25M94.1 115.6h1.25M104.0 114.2h1.25M88.7 117.6h1.25M106.2 127.6h1.25M90.0 131.1h1.25M101.7 110.2h1.25M91.5 130.0h1.25M100.2 127.6h1.25M76.5 123.0h1.25M114.2 112.0h1.25M103.7 124.6h1.25M107.7 117.1h1.25M90.3 126.9h1.25M92.1 122.3h1.25M107.1 117.3h1.25M95.8 132.8h1.25M102.0 119.8h1.25M91.5 121.9h1.25M88.1 124.7h1.25M100.7 128.3h1.25M101.1 119.2h1.25M102.7 124.6h1.25M94.6 124.1h1.25M107.3 121.5h1.25M89.6 128.0h1.25M107.8 117.8h1.25M97.8 128.4h1.25M103.7 118.3h1.25M93.3 122.5h1.25M98.5 119.8h1.25M100.9 124.2h1.25M91.9 116.1h1.25M90.8 113.9h1.25M109.1 121.9h1.25M115.5 127.5h1.25M100.9 131.0h1.25M93.5 121.6h1.25M105.4 133.5h1.25M93.7 107.3h1.25M95.3 117.6h1.25M106.0 113.4h1.25M97.6 139.2h1.25M106.8 122.0h1.25M91.6 111.9h1.25M90.3 126.0h1.25M92.7 116.8h1.25M100.4 124.2h1.25M113.2 131.7h1.25M103.7 120.6h1.25M99.3 113.5h1.25M89.6 119.0h1.25M87.8 123.6h1.25M87.3 129.6h1.25M91.7 109.0h1.25M90.9 122.3h1.25M108.4 128.8h1.25M102.8 120.7h1.25M102.6 116.5h1.25M102.2 129.8h1.25M97.6 116.4h1.25M105.0 118.8h1.25M100.7 131.9h1.25M90.4 131.9h1.25M122.0 125.3h1.25M77.2 119.0h1.25M104.6 125.9h1.25M105.5 117.2h1.25M97.5 132.3h1.25M92.2 138.2h1.25M100.3 133.4h1.25M86.1 122.7h1.25M91.6 122.2h1.25M84.3 113.8h1.25M101.4 128.1h1.25M100.2 121.7h1.25M96.9 131.7h1.25M85.2 119.8h1.25M96.8 133.6h1.25M88.1 125.4h1.25M107.4 135.6h1.25M92.2 136.6h1.25M84.1 136.8h1.25M104.8 122.7h1.25M99.4 119.9h1.25M103.6 124.2h1.25M107.8 128.0h1.25M98.2 115.9h1.25M102.1 120.4h1.25M108.2 118.5h1.25M102.8 129.4h1.25M103.1 133.1h1.25M100.3 114.9h1.25M113.9 131.1h1.25M94.5 120.2h1.25M87.0 130.2h1.25M103.8 128.6h1.25M111.7 125.0h1.25M97.2 117.9h1.25M84.2 125.7h1.25M92.0 123.7h1.25M98.6 128.7h1.25M105.8 119.9h1.25M98.3 118.5h1.25M119.9 124.9h1.25M107.3 129.5h1.25M95.4 118.9h1.25M96.5 122.1h1.25M104.7 120.0h1.25M110.9 112.9h1.25M102.5 119.5h1.25M95.1 116.8h1.25M108.5 102.7h1.25M85.9 118.9h1.25M90.4 128.8h1.25M100.5 129.3h1.25M106.9 115.1h1.25M87.3 123.4h1.25M108.7 124.3h1.25M101.8 131.6h1.25M98.5 137.0h1.25M103.9 112.1h1.25M98.1 140.2h1.25M78.0 129.3h1.25M96.4 119.7h1.25M98.6 127.3h1.25M104.1 134.3h1.25M95.5 123.5h1.25M101.8 115.0h1.25M96.5 127.1h1.25M98.3 115.0h1.25M99.8 135.1h1.25M108.5 126.1h1.25M102.6 121.6h1.25M101.2 118.1h1.25M111.5 123.5h1.25M105.9 123.2h1.25M95.5 130.8h1.25M88.2 112.2h1.25M81.5 123.5h1.25M86.1 116.9h1.25M97.5 121.8h1.25M97.6 133.5h1.25M88.2 126.4h1.25" stroke="#000" stroke-width="1.25" fill="none"/>
<ellipse cx="212.4" cy="122.3" rx="6.9" ry="8.2" fill="#000"/>
<path d="M218.7 129.3h1.25M219.5 116.1h1.25M218.5 128.3h1.25M219.9 124.9h1.25M222.9 126.2h1.25M218.5 117.6h1.25M217.4 126.7h1.25M208.4 115.2h1.25M216.4 116.7h1.25M217.9 116.0h1.25M202.7 120.8h1.25M206.7 118.7h1.25M204.9 121.8h1.25M203.9 121.4h1.25M219.4 122.2h1.25M208.7 110.4h1.25M203.9 112.2h1.25M217.9 115.4h1.25M217.0 130.2h1.25M210.6 110.8h1.25M216.4 128.2h1.25M212.0 130.7h1.25M220.6 123.9h1.25M211.3 130.8h1.25M218.4 120.6h1.25M200.4 129.5h1.25M219.4 120.7h1.25M219.0 117.6h1.25M213.3 115.6h1.25M217.9 127.4h1.25M216.1 115.4h1.25M212.6 113.6h1.25M205.6 113.2h1.25M217.1 112.3h1.25M205.3 121.3h1.25M217.6 123.7h1.25M211.7 110.9h1.25M204.3 121.4h1.25M218.0 120.5h1.25M217.1 117.1h1.25M204.9 118.4h1.25M218.0 122.1h1.25M209.8 113.8h1.25M212.6 114.5h1.25M221.3 129.4h1.25M207.3 112.7h1.25M203.7 121.7h1.25M220.4 114.2h1.25M209.0 109.8h1.25M217.5 129.7h1.25M217.2 127.6h1.25M199.3 137.8h1.25M200.8 117.9h1.25M204.0 134.1h1.25M207.6 127.2h1.25M200.0 130.0h1.25M204.2 122.0h1.25M207.4 129.5h1.25M222.6 118.2h1.25M217.8 111.3h1.25M213.2 114.5h1.25M205.7 121.2h1.25M214.5 128.7h1.25M211.7 132.5h1.25M216.1 117.3h1.25M217.7 117.1h1.25M212.1 129.4h1.25M206.9 125.6h1.25M223.0 118.7h1.25M212.7 109.9h1.25M209.9 115.8h1.25M217.4 136.3h1.25M217.7 125.1h1.25M213.2 130.0h1.25M219.2 123.0h1.25M216.6 114.0h1.25M222.1 118.8h1.25M216.5 132.1h1.25M211.1 132.0h1.25M207.5 112.1h1.25M211.3 115.1h1.25M218.8 118.2h1.25M224.2 118.6h1.25M207.6 117.0h1.25M209.2 129.8h1.25M216.8 129.3h1.25M215.5 115.4h1.25M206.5 118.7h1.25M220.2 129.8h1.25M221.4 116.4h1.25M217.9 119.9h1.25M218.6 126.6h1.25M216.1 127.3h1.25M211.2 133.5h1.25M211.8 112.2h1.25M206.9 129.8h1.25M209.7 130.6h1.25M218.9 122.7h1.25M204.7 138.0h1.25M208.5 130.7h1.25M218.3 131.7h1.25M206.9 115.9h1.25M201.8 131.5h1.25M221.2 119.6h1.25M203.3 119.8h1.25M218.4 119.3h1.25M218.3 129.1h1.25M219.1 117.7h1.25M204.0 120.9h1.25M206.1 120.6h1.25M208.5 128.6h1.25M206.8 127.9h1.25M203.2 123.4h1.25M218.0 121.4h1.25M208.4 129.1h1.25M205.5 119.0h1.25M211.9 114.6h1.25M212.5 109.4h1.25M209.6 115.1h1.25M210.5 134.9h1.25M210.3 129.3h1.25M224.3 117.2h1.25M207.5 112.1h1.25M210.2 108.1h1.25M206.1 126.1h1.25M204.6 115.0h1.25M217.7 117.4h1.25M217.7 125.4h1.25M211.2 112.5h1.25M219.4 122.5h1.25M207.9 131.1h1.25M209.8 106.9h1.25M204.6 127.0h1.25M212.1 113.7h1.25M221.9 115.7h1.25M226.4 122.3h1.25M206.8 129.7h1.25M219.2 127.9h1.25M206.0 123.3h1.25M204.4 123.2h1.25M207.9 130.5h1.25M220.7 114.6h1.25M206.2 125.3h1.25M201.8 118.7h1.25M216.5 117.8h1.25M210.7 113.7h1.25M217.7 113.4h1.25M218.3 121.4h1.25M207.1 118.2h1.25M209.7 130.2h1.25M202.3 107.8h1.25M221.7 122.7h1.25M206.6 114.1h1.25M201.7 133.0h1.25M210.6 112.0h1.25M220.0 121.6h1.25M212.8 111.2h1.25M211.9 133.1h1.25M205.7 124.9h1.25M211.3 131.3h1.25M211.5 113.2h1.25M220.6 124.4h1.25M205.8 118.3h1.25M218.1 120.8h1.25M220.1 115.9h1.25M218.3 122.8h1.25M204.2 117.7h1.25M201.2 119.9h1.25M217.7 124.3h1.25M218.2 118.5h1.25M219.1 113.9h1.25M207.9 116.8h1.25M204.9 128.6h1.25M206.1 126.9h1.25M206.9 130.0h1.25M204.9 117.8h1.25M207.7 115.7h1.25M207.3 132.5h1.25M201.0 125.6h1.25M214.2 114.0h1.25M218.7 118.9h1.25M204.4 119.1h1.25M217.6 127.2h1.25M221.2 121.1h1.25M205.9 120.6h1.25M214.9 114.5h1.25M203.7 119.5h1.25M216.8 131.4h1.25M211.4 113.3h1.25M211.0 111.1h1.25M222.6 128.5h1.25M207.4 114.8h1.25M210.1 110.5h1.25M203.0 121.5h1.25M204.4 134.2h1.25M221.3 125.8h1.25M213.4 115.1h1.25M217.7 121.6h1.25M209.2 114.0h1.25M218.8 123.5h1.25M217.2 125.1h1.25M219.4 122.0h1.25M204.7 115.5h1.25M208.3 115.1h1.25M214.7 112.8h1.25M218.3 119.6h1.25M215.1 129.2h1.25M217.6 116.8h1.25M220.9 118.5h1.25M213.1 130.1h1.25M205.4 128.9h1.25M198.9 118.7h1.25M216.9 127.7h1.25M212.1 113.9h1.25M225.6 111.6h1.25M220.1 121.2h1.25M216.8 110.7h1.25M217.9 127.5h1.25M207.4 116.5h1.25M207.8 117.3h1.25M215.2 115.8h1.25M207.1 132.1h1.25M218.8 128.8h1.25M215.6 114.1h1.25M221.3 106.3h1.25M226.2 128.5h1.25M206.1 119.8h1.25M211.3 112.7h1.25M208.2 128.5h1.25M218.9 123.6h1.25M203.2 120.4h1.25M212.1 113.6h1.25M216.4 129.9h1.25M204.9 118.8h1.25M212.1 130.7h1.25M210.9 134.1h1.25M217.7 120.3h1.25M217.9 115.9h1.25M206.0 124.2h1.25M203.4 128.2h1.25M217.6 124.4h1.25M205.4 128.3h1.25M216.7 131.3h1.25M207.5 112.5h1.25M223.6 119.2h1.25M219.7 121.6h1.25M217.2 117.1h1.25M205.8 127.2h1.25M209.8 111.3h1.25M222.8 123.8h1.25M206.3 125.5h1.25M217.5 116.1h1.25M207.4 126.9h1.25M215.7 132.5h1.25M206.5 120.0h1.25M205.2 114.2h1.25M216.4 117.2h1.25M209.7 115.7h1.25M208.3 111.1h1.25M210.7 113.7h1.25M213.0 131.3h1.25M218.0 115.6h1.25M220.7 126.0h1.25M208.7 115.6h1.25M206.2 118.8h1.25M217.9 116.1h1.25M206.8 127.3h1.25M207.7 115.6h1.25M204.0 127.7h1.25M206.1 132.7h1.25M217.6 120.2h1.25M201.8 118.3h1.25M214.6 115.9h1.25M217.4 130.3h1.25M205.8 137.7h1.25M208.1 112.8h1.25M203.3 131.4h1.25M218.5 115.6h1.25M203.8 124.4h1.25M204.2 115.0h1.25M207.9 116.1h1.25M211.6 112.2h1.25M217.9 123.4h1.25M207.7 116.8h1.25M207.8 113.1h1.25M204.9 122.0h1.25M219.4 120.8h1.25M214.8 130.3h1.25M209.7 114.2h1.25M204.8 124.1h1.25M216.3 127.5h1.25M210.7 113.4h1.25M210.7 115.5h1.25M214.7 115.0h1.25M218.5 125.5h1.25M202.0 125.7h1.25M219.1 132.7h1.25M222.5 112.6h1.25M210.1 132.4h1.25M212.1 132.5h1.25M211.5 115.4h1.25M218.8 121.6h1.25M205.9 128.0h1.25M217.2 117.5h1.25M203.1 126.2h1.25M199.7 127.2h1.25M205.5 120.3h1.25M214.8 116.2h1.25M205.5 118.5h1.25M204.8 123.4h1.25M217.0 128.5h1.25M220.8 120.1h1.25M209.3 105.7h1.25M204.4 121.5h1.25M224.4 115.9h1.25M202.2 117.2h1.25M205.3 116.9h1.25M204.8 119.3h1.25M212.5 113.5h1.25M206.8 117.3h1.25M217.6 121.1h1.25M211.2 114.8h1.25M209.2 113.6h1.25M214.3 136.3h1.25M202.3 127.4h1.25M221.0 123.4h1.25M208.9 134.6h1.25M203.9 128.2h1.25M216.1 111.2h1.25M208.5 116.7h1.25M217.0 129.6h1.25M214.3 113.5h1.25M216.4 128.8h1.25M217.3 131.4h1.25M204.5 118.8h1.25M218.3 118.4h1.25M219.0 116.2h1.25M206.2 120.8h1.25M211.5 130.1h1.25M214.0 111.4h1.25M216.0 127.5h1.25M217.6 127.6h1.25M210.2 110.2h1.25M206.0 123.9h1.25M206.0 120.2h1.25M216.6 117.3h1.25M218.9 129.7h1.25M204.7 116.7h1.25M204.7 123.4h1.25M204.2 119.9h1.25M219.2 123.7h1.25M215.4 116.6h1.25M204.1 121.1h1.25M215.6 128.2h1.25M203.6 114.8h1.25M204.4 129.2h1.25M209.8 115.6h1.25M209.8 114.2h1.25M216.5 127.3h1.25M203.0 118.8h1.25M220.1 125.2h1.25M204.1 126.9h1.25M202.0 113.5h1.25M221.5 119.0h1.25M213.3 110.1h1.25M205.8 128.2h1.25M210.5 133.4h1.25M218.5 116.3h1.25M218.3 129.3h1.25M205.1 131.2h1.25M213.9 133.3h1.25M205.6 123.8h1.25M213.8 132.6h1.25M216.1 110.6h1.25M208.0 127.4h1.25M198.3 117.7h1.25M205.7 121.4h1.25M209.0 129.0h1.25M217.7 121.1h1.25M207.5 115.1h1.25M203.8 119.3h1.25M213.8 114.3h1.25M211.8 135.0h1.25M208.5 113.6h1.25M211.1 129.9h1.25M216.6 117.6h1.25M213.2 129.8h1.25M200.0 122.1h1.25M206.1 116.6h1.25M206.0 118.1h1.25M205.1 122.7h1.25M199.4 122.8h1.25M208.0 115.0h1.25M205.1 123.8h1.25M206.6 118.3h1.25M218.3 118.4h1.25M207.2 114.9h1.25M209.8 113.2h1.25M217.4 116.8h1.25M202.3 116.8h1.25M217.8 113.6h1.25M216.4 116.2h1.25M202.7 124.4h1.25M218.7 116.7h1.25M223.5 118.1h1.25M206.5 112.1h1.25M219.1 117.5h1.25M207.4 128.8h1.25M219.8 129.8h1.25M211.7 113.9h1.25M207.7 128.6h1.25M212.6 133.5h1.25M219.2 118.4h1.25M203.2 123.1h1.25M212.2 131.3h1.25M206.2 124.6h1.25M211.5 112.8h1.25M213.0 112.1h1.25M216.2 108.9h1.25M213.2 113.4h1.25M214.3 115.0h1.25M213.9 115.2h1.25M201.9 111.6h1.25M205.9 124.0h1.25M214.5 112.6h1.25M206.2 127.6h1.25M219.1 119.1h1.25M202.1 122.7h1.25M211.6 113.0h1.25M209.1 115.8h1.25M217.3 118.0h1.25M215.5 132.9h1.25M213.9 115.3h1.25M213.6 130.5h1.25M198.8 127.1h1.25M201.8 130.7h1.25M205.4 123.7h1.25M207.8 114.0h1.25M213.4 129.7h1.25M220.0 133.8h1.25M207.0 128.8h1.25M206.4 125.0h1.25M205.1 122.4h1.25M217.9 122.7h1.25M214.3 111.7h1.25M217.0 128.9h1.25M222.0 121.6h1.25M219.8 128.1h1.25M200.2 126.8h1.25M213.0 130.8h1.25M204.1 118.6h1.25M218.2 133.6h1.25M215.1 115.4h1.25M206.8 128.2h1.25M219.6 119.2h1.25M217.8 125.7h1.25M218.2 115.7h1.25M220.6 125.2h1.25M206.0 118.5h1.25M206.8 114.9h1.25M206.4 127.2h1.25M206.5 118.4h1.25M204.3 121.9h1.25M211.2 114.0h1.25M219.5 124.7h1.25M217.8 133.9h1.25M211.2 114.8h1.25M210.7 134.5h1.25M219.8 116.7h1.25M217.4 132.6h1.25M209.7 131.8h1.25M212.0 130.7h1.25M217.5 130.7h1.25M232.0 120.0h1.25M197.3 122.3h1.25M205.3 131.0h1.25M220.7 127.6h1.25M204.2 123.0h1.25M211.4 114.9h1.25M205.7 130.0h1.25M217.6 130.3h1.25M218.6 120.5h1.25M193.1 134.1h1.25M215.2 116.1h1.25M208.1 113.4h1.25M214.8 114.7h1.25M205.2 123.1h1.25M202.2 126.0h1.25M206.2 115.9h1.25M222.8 118.0h1.25M211.2 130.9h1.25M217.0 115.1h1.25M215.1 129.4h1.25M206.4 127.0h1.25M217.5 117.0h1.25M206.9 117.1h1.25M211.7 114.5h1.25M219.1 123.6h1.25M203.7 126.1h1.25M213.9 131.1h1.25M217.9 131.0h1.25M221.0 121.6h1.25M218.9 113.7h1.25M211.0 115.3h1.25M210.6 115.0h1.25M216.1 132.9h1.25M203.5 126.1h1.25M207.2 126.9h1.25M212.3 133.0h1.25M206.9 112.4h1.25M209.1 112.3h1.25M199.4 120.6h1.25M212.5 132.8h1.25M205.3 134.8h1.25M218.0 119.4h1.25M214.8 133.3h1.25M215.5 130.4h1.25M214.2 113.8h1.25M216.8 111.3h1.25M211.4 137.0h1.25M219.8 124.4h1.25M218.7 116.4h1.25M214.7 135.5h1.25M224.6 125.4h1.25M215.8 132.9h1.25M214.5 135.6h1.25M213.9 110.4h1.25M205.4 126.4h1.25M213.8 131.4h1.25M210.2 112.5h1.25M208.2 128.3h1.25M205.4 125.3h1.25M207.0 113.9h1.25M216.3 116.1h1.25M215.2 116.0h1.25M203.9 118.3h1.25M218.8 115.9h1.25M220.1 123.9h1.25M220.9 123.9h1.25M207.9 129.4h1.25M217.3 128.0h1.25M204.6 127.2h1.25M203.7 119.9h1.25M205.9 132.7h1.25M215.3 115.9h1.25M202.3 121.2h1.25M217.7 121.3h1.25M213.4 133.7h1.25M205.6 127.4h1.25M204.3 127.0h1.25M217.9 128.6h1.25M210.1 115.1h1.25M203.2 122.2h1.25M206.4 118.1h1.25M223.6 127.4h1.25M209.7 114.2h1.25M217.7 120.6h1.25M221.4 126.6h1.25M205.3 118.5h1.25M217.2 128.5h1.25M209.4 115.0h1.25M215.3 133.8h1.25M202.6 133.1h1.25M206.6 127.1h1.25M211.5 134.0h1.25M209.1 108.9h1.25M209.1 133.2h1.25M202.3 129.2h1.25M202.0 123.7h1.25M220.5 118.7h1.25M204.0 117.4h1.25M217.2 129.1h1.25M206.2 119.9h1.25M218.4 131.3h1.25M217.6 121.4h1.25M213.7 114.5h1.25M215.3 129.0h1.25M212.1 141.0h1.25M209.4 110.0h1.25M202.3 123.8h1.25M204.8 121.7h1.25M211.5 112.7h1.25M216.0 132.8h1.25M217.0 113.6h1.25M213.3 133.6h1.25M203.1 114.8h1.25M201.6 128.6h1.25M218.4 118.5h1.25M217.0 119.1h1.25M222.8 121.9h1.25M203.4 123.5h1.25M217.7 119.2h1.25M217.1 118.7h1.25M209.3 114.5h1.25M203.6 121.0h1.25M209.3 116.1h1.25M211.6 132.2h1.25M215.8 128.0h1.25M206.4 118.4h1.25M212.8 132.3h1.25M210.6 115.5h1.25M210.6 130.4h1.25M209.9 110.3h1.25M217.1 117.6h1.25M205.4 111.0h1.25M206.0 126.1h1.25M210.3 130.4h1.25M208.2 112.0h1.25M219.1 118.1h1.25M211.9 130.5h1.25M208.1 134.0h1.25M223.6 117.9h1.25M218.4 126.9h1.25M209.5 113.0h1.25M223.2 129.6h1.25M199.9 118.4h1.25M206.0 135.0h1.25M208.8 115.8h1.25M207.0 108.9h1.25M213.9 130.0h1.25M197.9 121.6h1.25M215.0 128.6h1.25M206.1 123.6h1.25M219.5 111.2h1.25M216.4 133.3h1.25M206.0 111.5h1.25M210.5 112.6h1.25M218.0 122.2h1.25M203.0 127.3h1.25M213.9 135.7h1.25M216.8 126.8h1.25M202.0 119.9h1.25M205.4 122.4h1.25M208.7 112.5h1.25M213.3 132.2h1.25M201.5 123.3h1.25M204.0 119.7h1.25M223.1 125.4h1.25M205.8 117.7h1.25M215.3 129.4h1.25M205.9 118.9h1.25M219.1 114.2h1.25M218.7 122.0h1.25M211.7 111.2h1.25M208.1 117.1h1.25M217.4 119.4h1.25M205.9 128.2h1.25M207.8 130.0h1.25M223.9 125.8h1.25M214.1 111.2h1.25M204.8 128.5h1.25M214.7 129.8h1.25M220.1 121.4h1.25M215.5 116.5h1.25M213.3 129.1h1.25M207.6 126.9h1.25M211.3 114.6h1.25M207.3 118.0h1.25M207.8 129.6h1.25M219.6 122.5h1.25M222.9 121.2h1.25M206.2 117.0h1.25M219.9 114.0h1.25M211.5 129.4h1.25M208.2 128.9h1.25M218.6 117.1h1.25M202.6 119.1h1.25M216.5 126.7h1.25M214.1 129.0h1.25M218.3 122.0h1.25M209.1 129.8h1.25M214.8 114.8h1.25M219.5 108.3h1.25M209.4 113.0h1.25M218.0 116.3h1.25M209.7 130.0h1.25M221.3 117.2h1.25M210.5 130.5h1.25M218.9 120.8h1.25M205.7 132.9h1.25M206.5 134.8h1.25M221.1 127.9h1.25M218.5 122.1h1.25M216.6 118.1h1.25M219.2 125.4h1.25M209.1 112.5h1.25M210.7 112.7h1.25M205.9 123.7h1.25M217.1 118.8h1.25M210.9 133.6h1.25M216.5 127.1h1.25M207.1 117.4h1.25M202.1 117.1h1.25M204.9 119.3h1.25M208.0 128.8h1.25M210.3 129.8h1.25M214.2 129.8h1.25M207.5 116.1h1.25M205.5 121.3h1.25M208.2 115.6h1.25M205.1 124.7h1.25M217.6 125.2h1.25M220.2 133.6h1.25M221.4 120.5h1.25M215.9 117.2h1.25M217.9 122.7h1.25M214.4 114.1h1.25M207.0 135.4h1.25M215.8 129.4h1.25M207.1 135.7h1.25M205.9 128.0h1.25M219.8 128.1h1.25M211.4 107.2h1.25M206.2 128.2h1.25M218.1 120.6h1.25M221.6 104.9h1.25M217.4 125.7h1.25M216.7 113.4h1.25M208.8 133.8h1.25M206.2 123.6h1.25M203.4 126.0h1.25M211.1 111.5h1.25M204.1 122.3h1.25M218.8 117.4h1.25M207.4 132.0h1.25M204.2 120.0h1.25M219.8 119.4h1.25M212.6 115.4h1.25M216.1 127.5h1.25M216.3 132.8h1.25M213.9 128.8h1.25M210.7 135.3h1.25M206.5 125.5h1.25M218.1 125.5h1.25M209.6 115.0h1.25M218.5 125.6h1.25M211.4 113.9h1.25M204.8 120.7h1.25M210.1 115.8h1.25M203.3 115.2h1.25M217.9 122.0h1.25M211.8 141.2h1.25M216.2 117.4h1.25M217.6 116.2h1.25M216.2 131.3h1.25M212.6 112.9h1.25M204.5 131.8h1.25M211.4 131.3h1.25M217.0 131.0h1.25M212.7 131.4h1.25M204.0 113.7h1.25M210.5 115.1h1.25M202.7 121.6h1.25M215.8 116.0h1.25M214.4 131.0h1.25M207.1 112.6h1.25M211.8 130.2h1.25M213.5 130.7h1.25M220.9 126.2h1.25M226.0 116.5h1.25M201.1 119.4h1.25M215.7 110.7h1.25M214.8 114.8h1.25M217.7 133.0h1.25M204.9 126.2h1.25M205.5 119.4h1.25M212.5 115.1h1.25M216.5 127.8h1.25M220.0 119.2h1.25M209.3 132.8h1.25M203.8 123.3h1.25M214.2 113.1h1.25M219.0 136.1h1.25M213.8 115.3h1.25M212.8 113.6h1.25M206.3 119.9h1.25M210.4 113.3h1.25M209.1 136.4h1.25M214.4 129.2h1.25M217.9 125.9h1.25M216.3 128.7h1.25M218.8 126.1h1.25M219.3 123.4h1.25M216.4 137.9h1.25M205.5 124.7h1.25M208.5 115.0h1.25M205.5 129.0h1.25M206.4 120.3h1.25M207.3 127.3h1.25M225.2 128.9h1.25M222.0 123.4h1.25M201.7 117.2h1.25M208.1 113.4h1.25M204.0 115.6h1.25M211.1 131.1h1.25M206.5 119.0h1.25M213.4 129.4h1.25M201.7 122.4h1.25M206.4 129.4h1.25M216.9 117.6h1.25M204.1 126.9h1.25M214.6 129.3h1.25M205.4 124.0h1.25M201.3 130.1h1.25M208.4 128.8h1.25M215.8 112.6h1.25M206.9 130.2h1.25M218.0 113.3h1.25M200.0 125.5h1.25M219.1 117.5h1.25M210.8 111.9h1.25M217.1 127.3h1.25M213.0 130.5h1.25M217.0 127.6h1.25M209.5 130.2h1.25M207.4 127.8h1.25M220.7 122.0h1.25M206.1 119.6h1.25M212.4 130.4h1.25M209.1 115.0h1.25M211.8 129.5h1.25M203.4 121.6h1.25M201.6 132.0h1.25M205.9 120.3h1.25M202.4 125.5h1.25M206.7 126.7h1.25M218.7 110.1h1.25M199.4 122.9h1.25M215.4 115.3h1.25M204.5 122.9h1.25M216.4 134.5h1.25M219.9 114.6h1.25M213.2 112.9h1.25M204.4 130.7h1.25M219.9 121.3h1.25M210.3 115.3h1.25M211.6 130.9h1.25M206.5 115.6h1.25M205.2 117.8h1.25M206.7 126.0h1.25M218.9 123.7h1.25M214.7 114.9h1.25M208.2 115.3h1.25M214.2 129.8h1.25M209.7 131.1h1.25M217.6 125.3h1.25M201.4 112.4h1.25M214.9 113.5h1.25M212.6 114.5h1.25M221.0 122.8h1.25M215.1 109.6h1.25M217.1 113.7h1.25M199.4 121.5h1.25M211.1 115.5h1.25M218.2 116.1h1.25M217.8 120.6h1.25M209.9 113.9h1.25M217.8 123.8h1.25M206.7 131.5h1.25M217.2 128.1h1.25M201.5 116.7h1.25M217.2 127.9h1.25M211.8 129.6h1.25M207.9 131.1h1.25M211.9 111.2h1.25M206.9 125.7h1.25M214.4 132.1h1.25M215.3 109.5h1.25M214.2 115.4h1.25M218.5 121.2h1.25M203.9 136.4h1.25M214.0 129.8h1.25M203.8 126.0h1.25M210.6 129.2h1.25M205.3 125.3h1.25M204.7 130.4h1.25M214.3 109.9h1.25M214.4 132.1h1.25M208.4 131.3h1.25M205.0 117.0h1.25M204.7 122.8h1.25M220.4 120.4h1.25M214.2 129.0h1.25M221.8 121.5h1.25M216.4 107.6h1.25M207.1 116.2h1.25M210.1 112.3h1.25M213.6 115.2h1.25M209.0 129.1h1.25M212.3 113.8h1.25M204.9 119.7h1.25M215.7 116.6h1.25M218.2 113.4h1.25M223.7 122.3h1.25M219.7 112.9h1.25M207.7 128.2h1.25M217.7 126.5h1.25M202.2 122.6h1.25M210.0 129.4h1.25M219.9 120.3h1.25M215.3 114.5h1.25M220.3 124.6h1.25M204.0 121.2h1.25M221.0 117.8h1.25M205.4 133.3h1.25M202.1 115.6h1.25M209.0 129.8h1.25M216.0 112.2h1.25M215.0 129.9h1.25M216.6 113.4h1.25M210.2 109.2h1.25M208.1 116.2h1.25M217.6 126.8h1.25M214.9 135.2h1.25M217.7 138.3h1.25M220.5 115.9h1.25M209.8 108.7h1.25M205.7 127.4h1.25M220.7 107.1h1.25M219.2 120.8h1.25M215.1 112.8h1.25M205.9 132.4h1.25M206.6 126.6h1.25M211.2 133.6h1.25M213.1 113.6h1.25M205.8 121.6h1.25M214.6 114.5h1.25M216.6 116.8h1.25M203.3 118.5h1.25M214.9 128.3h1.25M210.2 115.2h1.25M217.1 128.1h1.25M211.3 131.0h1.25M206.8 128.8h1.25M205.7 120.3h1.25M205.3 120.0h1.25M207.6 131.6h1.25M216.4 127.1h1.25M216.1 138.2h1.25M203.7 124.1h1.25M212.1 114.9h1.25M213.9 108.1h1.25M205.7 132.1h1.25M218.8 125.1h1.25M219.0 122.5h1.25M218.7 132.0h1.25M219.8 118.3h1.25M219.2 127.2h1.25M217.6 123.3h1.25M206.0 121.3h1.25M213.9 114.1h1.25M217.8 114.9h1.25M223.6 122.1h1.25M215.8 128.3h1.25M205.6 124.0h1.25M205.5 123.7h1.25M216.3 132.1h1.25M206.6 118.0h1.25M205.9 121.6h1.25M218.5 126.3h1.25M215.4 115.9h1.25M221.4 130.4h1.25M213.2 105.5h1.25M203.7 133.6h1.25M206.9 137.4h1.25M206.7 127.7h1.25M206.9 128.3h1.25M207.3 127.4h1.25M221.6 115.2h1.25M216.7 129.8h1.25M201.3 118.5h1.25M218.6 117.9h1.25M206.6 127.2h1.25M210.2 112.2h1.25M206.2 128.9h1.25M216.4 116.5h1.25M216.0 115.4h1.25M211.9 132.3h1.25M221.1 113.7h1.25M208.0 110.7h1.25M212.8 135.4h1.25M214.0 133.1h1.25M202.7 124.4h1.25M216.1 109.6h1.25M213.0 131.1h1.25M202.5 119.5h1.25M211.4 132.5h1.25M212.9 129.3h1.25M208.6 130.8h1.25M207.2 128.9h1.25M202.0 121.8h1.25M220.1 128.3h1.25M211.2 110.3h1.25M205.6 127.9h1.25M213.2 129.1h1.25M208.0 107.6h1.25M221.2 124.2h1.25M207.8 130.8h1.25M201.9 126.4h1.25M219.3 121.8h1.25M218.1 118.2h1.25M214.4 129.8h1.25M201.6 129.7h1.25M205.5 121.7h1.25M213.4 129.6h1.25M210.2 129.3h1.25M203.9 122.5h1.25M205.6 123.3h1.25M203.8 123.2h1.25M206.6 128.2h1.25M205.1 120.3h1.25M218.6 115.8h1.25M216.2 115.1h1.25M221.1 119.9h1.25M204.8 122.5h1.25M214.8 129.4h1.25M216.1 128.8h1.25M211.2 129.6h1.25M206.0 124.6h1.25M209.3 115.4h1.25M219.9 116.2h1.25M215.2 116.4h1.25M204.1 130.6h1.25M214.6 111.0h1.25M208.5 134.7h1.25M207.7 115.5h1.25M220.0 123.1h1.25M209.4 129.1h1.25M205.3 126.0h1.25M214.7 114.1h1.25M218.4 129.2h1.25M216.0 129.3h1.25M227.0 116.3h1.25M233.7 108.2h1.25M225.9 123.4h1.25M233.4 115.4h1.25M233.5 113.8h1.25M223.9 123.0h1.25M222.3 121.5h1.25M235.4 129.0h1.25M236.5 119.2h1.25M237.5 128.2h1.25M233.4 126.1h1.25M229.3 120.1h1.25M228.8 116.8h1.25M222.9 121.1h1.25M227.9 128.7h1.25M228.5 113.5h1.25M231.4 119.7h1.25M228.9 126.4h1.25M228.4 122.0h1.25M229.4 122.8h1.25M233.6 121.4h1.25M221.6 127.6h1.25M225.1 120.1h1.25M235.2 120.5h1.25M226.4 120.6h1.25M231.3 120.4h1.25M230.7 114.9h1.25M230.1 117.9h1.25M233.4 130.3h1.25M224.3 126.1h1.25M228.7 117.7h1.25M221.5 107.1h1.25M224.2 125.8h1.25M231.4 111.1h1.25M230.1 116.7h1.25M225.9 127.8h1.25M225.5 125.9h1.25M233.6 130.2h1.25M224.7 113.3h1.25M220.9 123.0h1.25M226.2 124.7h1.25M222.0 120.5h1.25M229.9 116.8h1.25M228.3 121.4h1.25M233.0 125.5h1.25M233.7 120.7h1.25M225.3 116.2h1.25M233.1 116.9h1.25M224.9 123.8h1.25M230.1 116.5h1.25M238.2 117.0h1.25M225.7 123.8h1.25M233.0 126.9h1.25M232.9 125.3h1.25M221.9 129.5h1.25M224.6 112.0h1.25M230.2 115.2h1.25M230.7 120.6h1.25M236.9 122.2h1.25M230.8 115.5h1.25M232.5 117.7h1.25M226.3 125.1h1.25M230.9 116.1h1.25M231.1 125.3h1.25M230.3 124.8h1.25M232.2 123.1h1.25M229.4 119.2h1.25M231.0 114.0h1.25M227.2 120.0h1.25M234.8 123.8h1.25M231.5 119.1h1.25M234.1 123.5h1.25M230.9 119.3h1.25M231.9 124.0h1.25M230.7 125.0h1.25M227.3 126.4h1.25M230.1 116.8h1.25M227.1 118.9h1.25M221.4 127.3h1.25M230.3 119.3h1.25M227.8 111.3h1.25M248.3 127.3h1.25M231.2 115.2h1.25M237.7 118.1h1.25M229.2 118.8h1.25M233.2 123.9h1.25M228.7 120.3h1.25M231.2 116.7h1.25M234.8 115.5h1.25M233.7 119.3h1.25M240.6 120.4h1.25M232.3 119.8h1.25M232.0 119.0h1.25M231.9 129.2h1.25M224.7 120.8h1.25M231.4 119.8h1.25M233.9 115.9h1.25M232.0 115.7h1.25M231.7 112.4h1.25M229.8 120.8h1.25M229.4 120.4h1.25M237.9 129.8h1.25M229.4 117.5h1.25M225.2 121.8h1.25M228.1 133.8h1.25M234.1 121.7h1.25M229.2 119.7h1.25M231.9 112.7h1.25M237.1 123.3h1.25M232.6 125.4h1.25M235.1 118.3h1.25M230.5 127.6h1.25M228.7 124.1h1.25M227.4 117.1h1.25M228.9 124.8h1.25M228.4 119.2h1.25M222.0 132.3h1.25M232.6 130.2h1.25M226.7 128.6h1.25M221.4 117.2h1.25M224.3 111.4h1.25M231.0 121.2h1.25M221.6 122.7h1.25M230.5 124.1h1.25M232.7 121.1h1.25M229.2 126.0h1.25M227.7 113.0h1.25M223.4 118.4h1.25M230.1 116.5h1.25M232.1 117.4h1.25M236.7 121.3h1.25M227.9 121.9h1.25M233.7 117.9h1.25M230.1 114.2h1.25M225.7 113.4h1.25M227.1 119.8h1.25M232.2 129.4h1.25M228.1 122.1h1.25M229.1 125.3h1.25M225.4 119.9h1.25M232.5 125.1h1.25M234.1 122.5h1.25M227.8 118.4h1.25M227.3 119.1h1.25M237.7 119.0h1.25M227.4 128.6h1.25M229.8 119.9h1.25M227.2 124.6h1.25M231.9 124.1h1.25M228.8 122.2h1.25M239.2 121.9h1.25M224.7 120.5h1.25M222.8 118.2h1.25M225.7 114.9h1.25M227.2 125.5h1.25M223.8 123.9h1.25M230.6 115.5h1.25M232.3 124.5h1.25M234.2 122.4h1.25M227.7 120.1h1.25M234.5 122.6h1.25M232.9 116.5h1.25M234.8 116.4h1.25M233.0 128.0h1.25M228.7 117.9h1.25M227.3 117.5h1.25M235.3 127.9h1.25M232.2 111.3h1.25M227.3 126.5h1.25M242.8 135.7h1.25M228.0 116.3h1.25M230.8 122.1h1.25M227.6 111.9h1.25M232.9 125.9h1.25M232.3 122.8h1.25M228.4 122.0h1.25M236.4 125.2h1.25M226.0 128.3h1.25M221.5 126.5h1.25M233.6 125.4h1.25M238.4 124.8h1.25M226.6 118.1h1.25M224.8 120.8h1.25M232.8 115.2h1.25M223.9 116.4h1.25M228.1 126.4h1.25M234.5 130.3h1.25M225.8 123.8h1.25M232.0 123.6h1.25M235.4 121.3h1.25M232.0 125.3h1.25M227.8 118.2h1.25M230.3 120.8h1.25M228.2 112.1h1.25M236.0 121.4h1.25M222.8 123.9h1.25M223.3 118.5h1.25M225.8 117.7h1.25M228.5 123.1h1.25M229.4 118.4h1.25M236.7 113.9h1.25M226.9 125.4h1.25M239.3 119.2h1.25M232.7 120.8h1.25M228.3 123.8h1.25M228.1 122.8h1.25M231.4 122.7h1.25M234.3 112.7h1.25M228.6 122.4h1.25M230.8 117.3h1.25M233.9 117.9h1.25M230.4 113.8h1.25M234.6 120.9h1.25M232.6 126.1h1.25M229.3 122.9h1.25M228.2 114.5h1.25M226.9 125.1h1.25M233.1 117.3h1.25M224.9 127.7h1.25M233.8 129.3h1.25M226.5 128.3h1.25M227.2 117.4h1.25M233.3 117.5h1.25M236.0 113.0h1.25M229.4 111.6h1.25M238.7 115.8h1.25M232.3 119.8h1.25M234.4 116.1h1.25M229.8 122.4h1.25M236.7 114.7h1.25M229.9 119.7h1.25M230.0 124.1h1.25M225.4 121.6h1.25M233.8 129.0h1.25M222.9 127.1h1.25M229.5 112.0h1.25M227.5 125.8h1.25M233.8 127.7h1.25M237.2 118.1h1.25M226.3 123.7h1.25M231.6 125.0h1.25M226.5 116.2h1.25M230.7 107.5h1.25M226.5 116.7h1.25M228.5 124.4h1.25M225.7 120.5h1.25M224.1 107.9h1.25M234.5 120.6h1.25M226.3 118.1h1.25M231.7 134.9h1.25M232.4 115.4h1.25M226.8 132.1h1.25M226.5 118.4h1.25M225.4 118.6h1.25M239.6 122.5h1.25M227.0 120.3h1.25M230.0 122.2h1.25M227.4 127.1h1.25M236.1 109.9h1.25M237.0 122.9h1.25M228.4 118.9h1.25M230.9 128.3h1.25M227.0 125.2h1.25M231.0 116.1h1.25M228.4 117.2h1.25M226.7 116.2h1.25M228.8 123.6h1.25M237.7 114.9h1.25M232.1 124.1h1.25M229.6 118.0h1.25M236.1 113.9h1.25M232.1 117.3h1.25M233.4 124.7h1.25M233.9 113.1h1.25M227.0 119.8h1.25M237.5 123.1h1.25M225.8 122.3h1.25M223.1 128.7h1.25M223.7 121.4h1.25M229.8 123.2h1.25M238.9 130.1h1.25M236.7 114.5h1.25M236.6 115.3h1.25M230.5 123.0h1.25M236.2 125.0h1.25M234.8 119.1h1.25M235.7 114.0h1.25M241.8 121.5h1.25M231.5 117.5h1.25M230.7 112.8h1.25M239.1 126.7h1.25M233.1 115.0h1.25M232.0 129.5h1.25M230.7 132.3h1.25M232.7 118.0h1.25M230.9 122.1h1.25M233.7 125.7h1.25M238.5 127.7h1.25M227.0 120.4h1.25M234.6 118.0h1.25M234.6 118.4h1.25M237.0 124.1h1.25M230.3 122.9h1.25M236.9 115.3h1.25M234.8 124.7h1.25M230.6 120.5h1.25M236.3 118.7h1.25M228.6 111.3h1.25M229.8 121.1h1.25M227.3 113.1h1.25M232.6 124.1h1.25M227.2 119.4h1.25M233.8 121.2h1.25M228.8 121.5h1.25M229.1 129.6h1.25M226.3 115.0h1.25M235.9 122.5h1.25M231.2 132.2h1.25M233.2 120.0h1.25M239.0 122.7h1.25M230.0 125.4h1.25M228.0 117.6h1.25M228.5 117.5h1.25M225.4 112.4h1.25M222.7 124.8h1.25M225.0 108.6h1.25M228.6 122.5h1.25M222.8 115.6h1.25M226.8 127.5h1.25M224.3 120.6h1.25M230.8 129.2h1.25M229.2 119.2h1.25M235.9 124.7h1.25M227.0 124.4h1.25M218.9 115.8h1.25M229.0 116.5h1.25M229.2 117.6h1.25M225.5 112.7h1.25M226.5 121.3h1.25M230.2 130.2h1.25M228.5 120.0h1.25M229.0 118.9h1.25M230.0 127.1h1.25M235.0 120.3h1.25M237.9 122.6h1.25M226.5 122.6h1.25M229.4 124.3h1.25M227.3 116.2h1.25M232.7 112.9h1.25M228.8 125.5h1.25M228.7 122.0h1.25M228.6 124.7h1.25M230.6 124.4h1.25M225.2 122.6h1.25M236.4 118.8h1.25M230.5 120.6h1.25M230.4 117.3h1.25M237.1 116.2h1.25M228.0 119.2h1.25M228.3 119.4h1.25M220.7 119.0h1.25M229.2 119.0h1.25M233.5 118.1h1.25M230.3 115.5h1.25M234.2 122.0h1.25M234.0 113.5h1.25M227.7 115.8h1.25M225.6 124.0h1.25M228.8 125.1h1.25M224.9 114.0h1.25M226.8 118.2h1.25M231.7 121.3h1.25M233.0 123.8h1.25M232.5 127.0h1.25M231.7 128.2h1.25M234.5 119.4h1.25M226.4 116.2h1.25M228.9 125.7h1.25M237.4 126.2h1.25M227.5 119.4h1.25M227.8 123.3h1.25M228.7 132.6h1.25M235.8 126.7h1.25M230.3 112.2h1.25M223.2 119.8h1.25M233.0 114.5h1.25M230.5 115.9h1.25M236.1 111.1h1.25M237.7 116.7h1.25M228.7 124.2h1.25M228.6 115.7h1.25M235.6 128.0h1.25M233.2 126.2h1.25M228.1 122.7h1.25M225.7 118.9h1.25M239.2 121.9h1.25M236.4 121.1h1.25M237.1 110.5h1.25M232.5 118.9h1.25M237.0 120.1h1.25M230.3 126.1h1.25M217.0 123.5h1.25M226.8 121.9h1.25M227.2 122.6h1.25M226.5 118.6h1.25M226.1 123.8h1.25M235.9 111.9h1.25M230.8 116.6h1.25M229.6 123.3h1.25M236.2 117.2h1.25M235.9 127.1h1.25M239.3 133.3h1.25M243.1 117.5h1.25M240.3 115.6h1.25M227.4 125.9h1.25M232.7 124.0h1.25M235.6 119.6h1.25M237.4 113.2h1.25M225.6 125.7h1.25M231.7 118.6h1.25M234.4 121.5h1.25M228.3 120.6h1.25M223.7 125.8h1.25M232.9 120.7h1.25M225.3 120.8h1.25M233.4 121.3h1.25M223.0 124.5h1.25M231.0 125.7h1.25M228.6 120.0h1.25M235.5 121.6h1.25M229.3 125.1h1.25M232.3 121.9h1.25M226.3 123.1h1.25M230.1 116.9h1.25M222.5 118.0h1.25M231.0 116.1h1.25M233.3 119.9h1.25M226.8 118.1h1.25M234.9 117.6h1.25M229.6 120.8h1.25M241.3 130.0h1.25M227.5 119.2h1.25M225.3 114.9h1.25M232.8 120.6h1.25M220.3 121.9h1.25M232.0 126.7h1.25M237.8 125.1h1.25M231.8 118.8h1.25M237.0 127.3h1.25M229.5 119.8h1.25M225.2 125.8h1.25M234.6 120.4h1.25M226.5 121.6h1.25M240.3 123.5h1.25M228.8 119.0h1.25M230.1 122.0h1.25M229.8 125.2h1.25M214.5 113.9h1.25M237.5 124.4h1.25M232.4 116.4h1.25M236.4 125.5h1.25M224.9 118.0h1.25M226.0 123.2h1.25M232.9 117.1h1.25M228.5 122.8h1.25M239.8 121.2h1.25M234.2 128.0h1.25M229.0 126.3h1.25M228.0 117.0h1.25M230.7 123.0h1.25M233.2 112.4h1.25M229.3 117.7h1.25M238.8 117.3h1.25M223.9 118.3h1.25M222.4 127.7h1.25M233.0 119.7h1.25M239.5 115.1h1.25M233.3 118.2h1.25M236.1 125.6h1.25M227.9 122.1h1.25M227.4 114.2h1.25M234.1 119.1h1.25M227.6 122.7h1.25M232.4 113.7h1.25M229.6 124.7h1.25M242.3 129.3h1.25M232.6 129.0h1.25M236.5 130.6h1.25M234.6 125.2h1.25M226.8 115.2h1.25M238.5 116.0h1.25M229.4 110.8h1.25M219.9 121.1h1.25M231.6 124.1h1.25M226.1 119.3h1.25M231.8 125.8h1.25M230.7 113.0h1.25M231.9 126.4h1.25M229.4 128.9h1.25M227.7 130.0h1.25M233.7 115.5h1.25M225.1 122.0h1.25M227.0 124.9h1.25M234.5 118.5h1.25M228.6 128.8h1.25M224.1 116.6h1.25M237.6 123.4h1.25M234.3 119.9h1.25M237.4 133.4h1.25M232.4 131.7h1.25M229.8 115.6h1.25M224.9 113.5h1.25M230.2 119.1h1.25M229.2 126.8h1.25M230.3 120.6h1.25M229.6 125.9h1.25M231.7 124.1h1.25M232.9 118.4h1.25M225.7 111.7h1.25M230.8 109.7h1.25M227.7 117.3h1.25M229.6 127.9h1.25M237.5 126.7h1.25M234.7 121.7h1.25M217.9 117.9h1.25M226.3 118.3h1.25M224.4 116.5h1.25M238.4 119.6h1.25M238.8 121.4h1.25M223.0 128.6h1.25M229.3 120.7h1.25M227.1 124.5h1.25M233.1 116.9h1.25M230.5 130.3h1.25M225.2 129.0h1.25M228.5 122.2h1.25M237.6 127.4h1.25M227.8 127.3h1.25M233.4 120.7h1.25M227.7 116.5h1.25M226.1 122.2h1.25M227.6 123.4h1.25M231.1 118.0h1.25M232.2 136.7h1.25M223.9 131.3h1.25M231.3 128.9h1.25M232.4 122.1h1.25M229.6 125.8h1.25M235.0 116.7h1.25M224.6 114.5h1.25M228.7 118.0h1.25M230.1 125.9h1.25M229.5 120.0h1.25M224.3 115.3h1.25M224.9 123.7h1.25M236.5 117.4h1.25M234.3 124.0h1.25M234.8 113.7h1.25M233.6 120.1h1.25M226.1 118.8h1.25M240.0 123.9h1.25M229.5 123.4h1.25M234.3 121.6h1.25M222.3 133.7h1.25M224.4 118.5h1.25M232.5 111.6h1.25M234.5 119.2h1.25M230.6 123.3h1.25M239.4 123.8h1.25M231.7 117.1h1.25M235.2 122.6h1.25M231.5 123.6h1.25M228.2 124.4h1.25M236.4 123.9h1.25M227.6 117.9h1.25M231.5 114.5h1.25M233.5 116.5h1.25M229.2 120.1h1.25M239.3 126.4h1.25M232.8 123.2h1.25M226.2 119.4h1.25M231.3 125.9h1.25M233.6 122.3h1.25M230.8 124.1h1.25M219.0 112.3h1.25M233.1 115.0h1.25M230.2 120.3h1.25M235.3 126.4h1.25M228.2 122.0h1.25M230.2 123.5h1.25M229.4 123.7h1.25M230.0 121.1h1.25M237.1 127.8h1.25M220.3 117.4h1.25M233.0 129.3h1.25M233.2 123.5h1.25M232.3 113.9h1.25M225.7 118.4h1.25M230.1 120.7h1.25M233.2 120.0h1.25M224.9 116.6h1.25M227.0 128.1h1.25M231.6 114.9h1.25M232.8 118.9h1.25M229.7 122.3h1.25M231.5 123.6h1.25M231.9 113.1h1.25M226.4 121.1h1.25M234.2 121.8h1.25M227.6 127.8h1.25M224.5 122.3h1.25M223.6 116.8h1.25M231.2 126.3h1.25M230.1 120.8h1.25M232.7 118.9h1.25M229.4 126.9h1.25M229.3 123.5h1.25M231.6 120.7h1.25M231.6 126.3h1.25M225.1 118.3h1.25M223.3 119.1h1.25M242.4 122.4h1.25M236.6 119.3h1.25M235.2 131.3h1.25M229.8 120.4h1.25M228.9 121.8h1.25M227.6 121.4h1.25M239.3 117.8h1.25M229.5 124.2h1.25M233.4 119.4h1.25M231.0 120.2h1.25M238.8 119.8h1.25M228.1 128.7h1.25M234.9 123.7h1.25M231.8 123.1h1.25M221.6 128.1h1.25M231.3 120.2h1.25M231.5 122.2h1.25M228.5 114.4h1.25M229.6 113.1h1.25M229.9 118.8h1.25M239.5 117.9h1.25M236.9 127.9h1.25M229.2 109.5h1.25M241.1 122.5h1.25M234.9 123.6h1.25M226.5 116.8h1.25M234.9 121.7h1.25M236.4 119.2h1.25M237.4 112.6h1.25M233.6 119.7h1.25M233.9 120.6h1.25M234.9 112.0h1.25M228.9 122.4h1.25M233.0 117.6h1.25M230.1 126.4h1.25M234.7 109.8h1.25M224.7 126.1h1.25M231.5 117.0h1.25M231.1 114.1h1.25M230.3 118.9h1.25M224.0 125.0h1.25M228.1 124.2h1.25M232.9 123.7h1.25M234.0 131.4h1.25M229.4 123.6h1.25M228.7 122.4h1.25M240.9 118.1h1.25M237.2 118.3h1.25M227.7 116.8h1.25M223.9 110.2h1.25M235.4 119.9h1.25M237.8 120.8h1.25M234.5 116.1h1.25M225.5 128.2h1.25M232.4 129.9h1.25M227.3 116.5h1.25M234.2 114.6h1.25M231.1 119.7h1.25M232.1 118.6h1.25M232.9 117.9h1.25M233.3 119.4h1.25M239.1 124.5h1.25M223.2 124.2h1.25M233.5 112.3h1.25M234.3 121.7h1.25M233.2 115.7h1.25M224.9 122.6h1.25M233.4 130.4h1.25M229.0 124.6h1.25M228.0 120.5h1.25M228.0 124.8h1.25M239.6 123.7h1.25M230.4 108.8h1.25M226.7 126.9h1.25M224.3 119.3h1.25M228.7 125.9h1.25M225.2 126.3h1.25M230.7 126.9h1.25M228.1 126.7h1.25M233.4 129.2h1.25M231.3 119.1h1.25M235.4 127.6h1.25M232.3 135.8h1.25M228.2 123.0h1.25M225.9 129.2h1.25M233.1 117.1h1.25M228.1 127.2h1.25M227.9 124.3h1.25M232.3 115.3h1.25M234.7 127.5h1.25M231.6 125.2h1.25M225.4 121.3h1.25M231.8 115.9h1.25M229.6 120.0h1.25M235.4 116.1h1.25M241.2 113.2h1.25M235.7 122.8h1.25M224.6 122.2h1.25M235.4 123.1h1.25M222.4 119.4h1.25M234.6 120.0h1.25M227.8 119.1h1.25M231.9 108.0h1.25M225.1 120.7h1.25M230.3 128.1h1.25M234.4 122.5h1.25M227.6 122.9h1.25M230.0 122.4h1.25M239.1 124.8h1.25M226.6 120.9h1.25M225.9 128.8h1.25M231.1 126.8h1.25M233.9 120.4h1.25M232.4 132.6h1.25M230.1 115.0h1.25M225.6 123.4h1.25M233.5 109.3h1.25M231.8 118.2h1.25M232.0 119.8h1.25M230.8 127.1h1.25M232.3 119.5h1.25M235.0 119.4h1.25M228.2 118.4h1.25M233.3 123.9h1.25M234.6 130.2h1.25M233.9 116.6h1.25M226.4 121.1h1.25M233.5 121.5h1.25M226.1 120.5h1.25M223.4 114.2h1.25M227.8 125.8h1.25M234.3 121.9h1.25M231.4 115.7h1.25M233.5 123.7h1.25M231.2 117.9h1.25M223.3 120.5h1.25M228.0 132.6h1.25M233.5 126.2h1.25M231.7 121.6h1.25M229.7 116.2h1.25M230.2 128.8h1.25M220.7 118.4h1.25M230.2 121.3h1.25M231.3 112.2h1.25M224.8 123.1h1.25M222.0 119.5h1.25M235.3 123.6h1.25M227.2 124.4h1.25M243.3 120.2h1.25M229.1 124.3h1.25M226.3 116.5h1.25M234.1 107.7h1.25M230.4 121.5h1.25M230.8 123.8h1.25M228.4 116.0h1.25M234.6 119.6h1.25M227.8 117.0h1.25M227.6 122.7h1.25M235.4 122.0h1.25M230.1 116.2h1.25M233.4 112.0h1.25M230.6 124.7h1.25M223.9 121.8h1.25M232.3 114.9h1.25M228.8 117.6h1.25M224.7 117.0h1.25M235.5 113.4h1.25M232.2 117.4h1.25M226.1 127.5h1.25M228.8 119.8h1.25M232.0 122.4h1.25M234.1 118.3h1.25M224.4 117.4h1.25M231.7 120.6h1.25M229.9 116.4h1.25M225.8 118.7h1.25M232.4 116.1h1.25M222.7 115.3h1.25M230.3 121.8h1.25M225.8 119.3h1.25M232.3 123.6h1.25M226.3 118.9h1.25M225.8 123.2h1.25M236.5 120.1h1.25M232.3 119.4h1.25M231.1 123.8h1.25M224.0 126.7h1.25M229.6 115.0h1.25M232.3 119.0h1.25M238.5 118.0h1.25M229.1 122.1h1.25M232.0 121.8h1.25M226.3 120.7h1.25M226.4 130.9h1.25M231.6 124.1h1.25M232.9 118.6h1.25M237.4 122.4h1.25M231.5 127.5h1.25M223.3 119.4h1.25M238.4 114.7h1.25M230.8 121.5h1.25M234.0 122.7h1.25M227.2 121.3h1.25M231.8 116.3h1.25M232.0 121.7h1.25M234.3 123.3h1.25M231.4 124.2h1.25M233.6 119.3h1.25M231.3 132.3h1.25M219.8 120.0h1.25M235.0 117.1h1.25M238.3 125.2h1.25M222.4 125.9h1.25M227.6 128.5h1.25M229.0 117.6h1.25M228.8 124.2h1.25M227.8 124.8h1.25M233.0 123.9h1.25M228.8 131.2h1.25M227.0 121.9h1.25M236.9 114.9h1.25M230.9 122.3h1.25M229.8 125.7h1.25M228.0 131.6h1.25M229.7 121.5h1.25M228.8 129.7h1.25M233.5 123.5h1.25M228.7 116.0h1.25M232.6 124.8h1.25M225.4 112.5h1.25M225.4 118.7h1.25M231.9 121.3h1.25M222.4 125.1h1.25M228.6 123.9h1.25M231.3 118.6h1.25M227.5 113.4h1.25M234.3 127.7h1.25M232.9 118.6h1.25M235.9 117.3h1.25M228.1 124.7h1.25M232.8 125.4h1.25M223.5 119.2h1.25M230.8 122.9h1.25M225.9 113.8h1.25M240.9 139.4h1.25M232.8 127.4h1.25M225.4 125.6h1.25M229.1 124.8h1.25M236.1 125.8h1.25M221.6 115.3h1.25M231.8 117.9h1.25M233.8 121.1h1.25M225.0 108.0h1.25M226.9 120.8h1.25M240.4 121.5h1.25M234.3 129.2h1.25M232.8 110.8h1.25M223.4 124.6h1.25M230.8 127.7h1.25M231.3 110.7h1.25M235.8 123.5h1.25M235.6 122.4h1.25M229.8 117.5h1.25M233.0 117.8h1.25M227.3 114.7h1.25M232.4 129.9h1.25M228.9 126.3h1.25M228.7 112.4h1.25M227.8 127.8h1.25M233.8 116.5h1.25M225.0 119.1h1.25M232.3 125.4h1.25M231.9 114.6h1.25M232.4 120.4h1.25M223.3 132.1h1.25M223.8 126.2h1.25M231.2 118.9h1.25M236.3 118.3h1.25M232.5 129.6h1.25M234.9 118.5h1.25M229.6 112.7h1.25M234.9 121.1h1.25M232.3 119.7h1.25M226.9 126.4h1.25M228.4 126.0h1.25M234.4 121.9h1.25M229.9 125.4h1.25M226.0 126.4h1.25M232.3 120.2h1.25M229.6 113.6h1.25M229.1 128.5h1.25M234.0 110.5h1.25M229.1 117.6h1.25M235.7 116.5h1.25M228.6 124.3h1.25M227.1 125.5h1.25M232.2 127.4h1.25M230.8 123.0h1.25M232.6 124.1h1.25M225.6 120.0h1.25M222.8 119.9h1.25M232.5 123.2h1.25M220.3 122.4h1.25M229.6 116.0h1.25M229.8 116.5h1.25M226.1 122.5h1.25M235.1 120.3h1.25M232.4 122.8h1.25M235.7 123.5h1.25M232.7 117.7h1.25M230.6 119.1h1.25M233.3 130.5h1.25M233.7 122.2h1.25M227.3 117.0h1.25M232.5 117.3h1.25M226.0 120.7h1.25M233.8 130.2h1.25M221.4 128.9h1.25M232.1 108.0h1.25M235.4 120.2h1.25M232.5 117.2h1.25M237.5 116.6h1.25M230.9 118.3h1.25M225.8 118.1h1.25M225.1 117.7h1.25M231.5 122.5h1.25M229.4 120.4h1.25M226.2 120.8h1.25M234.2 125.3h1.25M233.9 131.1h1.25M233.9 120.0h1.25M227.4 110.6h1.25M228.2 129.5h1.25M224.7 116.5h1.25M233.0 115.0h1.25M235.7 121.2h1.25M223.7 121.4h1.25M232.2 120.0h1.25M235.2 129.6h1.25M231.9 124.6h1.25M225.0 116.0h1.25M232.9 115.9h1.25M227.3 124.9h1.25M242.0 124.0h1.25M223.2 132.0h1.25M238.2 126.3h1.25M228.3 117.4h1.25M232.1 129.2h1.25M226.8 113.9h1.25M229.3 117.8h1.25M222.6 124.5h1.25M232.1 111.6h1.25M232.4 122.5h1.25M230.8 121.9h1.25M227.9 112.0h1.25M227.1 118.1h1.25M230.1 126.3h1.25M224.5 117.3h1.25M229.6 121.9h1.25M220.3 132.8h1.25M217.3 126.5h1.25M210.9 140.3h1.25M208.8 129.8h1.25M209.1 127.2h1.25M216.0 119.3h1.25M216.6 130.2h1.25M212.2 123.7h1.25M211.0 135.6h1.25M208.7 133.7h1.25M216.8 129.5h1.25M211.5 129.6h1.25M210.9 132.9h1.25M213.5 126.4h1.25M206.2 130.4h1.25M210.1 132.1h1.25M208.3 128.4h1.25M213.0 132.3h1.25M211.9 128.2h1.25M216.3 138.2h1.25M212.3 134.7h1.25M221.4 132.1h1.25M211.4 134.4h1.25M212.4 137.2h1.25M210.4 137.6h1.25M215.5 130.7h1.25M211.6 127.5h1.25M214.6 129.2h1.25M210.6 129.0h1.25M214.3 136.6h1.25M220.6 133.1h1.25M210.5 137.7h1.25M222.1 125.1h1.25M209.5 133.0h1.25M220.7 124.7h1.25M216.5 129.2h1.25M196.4 132.9h1.25M216.4 126.1h1.25M209.7 131.2h1.25M222.8 128.7h1.25M211.9 127.6h1.25M214.5 130.1h1.25M213.6 132.1h1.25M206.9 134.7h1.25M220.2 128.6h1.25M213.6 128.3h1.25M220.7 133.2h1.25M212.4 129.6h1.25M211.1 132.5h1.25M214.2 130.8h1.25M208.6 137.1h1.25M207.6 128.3h1.25M205.3 133.5h1.25M220.1 129.1h1.25M214.0 130.3h1.25M220.4 129.4h1.25M210.6 124.9h1.25M216.9 129.3h1.25M211.5 132.3h1.25M201.8 135.7h1.25M207.1 132.5h1.25M212.1 128.0h1.25M217.3 127.8h1.25M213.5 129.2h1.25M204.1 131.3h1.25M206.9 132.4h1.25M211.0 132.8h1.25M215.2 133.2h1.25M209.3 132.1h1.25M221.5 129.7h1.25M208.2 129.4h1.25M223.9 130.4h1.25M207.4 123.4h1.25M207.2 131.2h1.25M208.0 128.2h1.25M208.5 132.0h1.25M214.1 131.0h1.25M219.5 125.4h1.25M212.6 136.5h1.25M207.7 129.8h1.25M220.4 137.3h1.25M215.0 131.0h1.25M218.9 119.5h1.25M208.6 138.5h1.25M217.7 134.5h1.25M213.6 129.2h1.25M210.9 132.4h1.25M216.3 121.8h1.25M222.0 133.0h1.25M212.0 131.7h1.25M209.9 130.4h1.25M222.5 135.6h1.25M211.5 118.5h1.25M201.9 132.0h1.25M211.6 129.5h1.25M207.7 129.4h1.25M213.7 134.3h1.25M215.7 130.4h1.25M215.3 130.8h1.25M208.5 134.2h1.25M222.5 121.8h1.25M214.0 128.3h1.25M214.0 129.2h1.25M217.2 129.3h1.25M213.4 127.2h1.25M212.7 130.2h1.25M207.3 131.6h1.25M208.3 130.0h1.25M216.1 132.8h1.25M214.0 125.2h1.25M217.2 129.5h1.25M221.5 130.3h1.25M212.8 135.8h1.25M217.1 135.1h1.25M215.7 136.0h1.25M215.1 138.7h1.25M213.3 129.5h1.25M212.0 137.1h1.25M209.4 124.9h1.25M207.4 133.0h1.25M209.5 133.0h1.25M217.7 133.7h1.25M211.4 127.7h1.25M211.7 127.7h1.25M223.6 133.7h1.25M214.0 132.1h1.25M211.7 131.5h1.25M207.1 130.7h1.25M221.8 131.3h1.25M208.5 130.8h1.25M210.5 130.6h1.25M214.4 128.4h1.25M210.7 133.7h1.25M209.9 128.4h1.25M207.5 137.0h1.25M213.5 124.2h1.25M212.1 125.1h1.25M213.0 131.3h1.25M212.0 127.6h1.25M215.1 136.4h1.25M217.4 130.6h1.25M216.3 134.7h1.25M213.9 126.1h1.25M218.2 130.3h1.25M218.2 128.4h1.25M210.7 126.8h1.25M220.6 131.1h1.25M211.8 126.2h1.25M211.2 133.8h1.25M217.3 127.6h1.25M209.6 128.4h1.25M218.4 133.2h1.25M208.8 136.0h1.25M211.9 128.7h1.25M205.6 126.0h1.25M215.3 132.6h1.25M216.1 135.1h1.25M211.3 127.0h1.25M203.7 129.4h1.25M202.1 120.4h1.25M212.8 112.9h1.25M224.9 129.4h1.25M212.2 123.0h1.25M199.6 121.5h1.25M228.4 121.4h1.25M212.5 125.4h1.25M210.8 114.4h1.25M218.8 134.2h1.25M205.8 126.1h1.25M215.2 111.8h1.25M219.3 116.9h1.25M221.0 112.5h1.25M225.3 119.9h1.25M220.5 125.0h1.25M212.9 113.6h1.25M206.2 133.4h1.25M222.0 126.1h1.25M210.2 110.8h1.25M207.5 127.6h1.25M211.1 121.2h1.25M216.4 119.7h1.25M215.9 115.9h1.25M212.3 115.6h1.25M203.8 124.9h1.25M221.5 129.2h1.25M209.2 122.8h1.25M224.5 114.2h1.25M230.2 127.1h1.25M220.5 122.4h1.25M220.8 118.0h1.25M215.9 124.3h1.25M196.9 134.5h1.25M224.5 117.9h1.25M213.8 128.1h1.25M209.2 126.6h1.25M217.8 123.3h1.25M220.8 136.6h1.25M212.8 121.9h1.25M234.2 118.2h1.25M207.7 131.4h1.25M209.1 115.8h1.25M222.2 124.8h1.25M208.3 122.3h1.25M204.4 123.2h1.25M209.3 131.1h1.25M215.2 112.5h1.25M208.1 131.5h1.25M228.1 116.3h1.25M210.5 119.2h1.25M210.6 128.0h1.25M238.7 117.7h1.25M212.6 122.7h1.25M214.0 137.6h1.25M202.3 122.0h1.25M228.2 116.2h1.25M209.0 127.8h1.25M217.0 121.4h1.25M214.6 119.6h1.25M204.8 135.4h1.25M218.5 108.3h1.25M201.7 117.9h1.25M198.9 115.9h1.25M222.0 122.1h1.25M206.7 116.2h1.25M198.0 115.4h1.25M219.2 128.8h1.25M212.7 124.5h1.25M211.2 121.0h1.25M202.8 124.2h1.25M219.8 130.8h1.25M207.6 120.2h1.25M220.4 131.4h1.25M219.1 126.1h1.25M203.6 121.7h1.25M237.2 132.1h1.25M215.7 127.6h1.25M227.1 128.4h1.25M220.7 122.1h1.25M219.3 125.8h1.25M217.2 118.8h1.25M220.4 128.1h1.25M215.6 137.2h1.25M221.7 110.0h1.25M213.1 119.8h1.25M230.3 135.7h1.25M212.7 110.5h1.25M221.6 122.1h1.25M203.8 124.7h1.25M216.0 129.5h1.25M231.0 129.5h1.25M199.7 129.9h1.25M209.9 122.4h1.25M201.3 112.6h1.25M222.9 119.7h1.25M219.8 119.6h1.25M214.2 130.4h1.25M221.9 119.3h1.25M221.2 116.7h1.25M202.5 116.1h1.25M220.8 119.4h1.25M232.5 124.0h1.25M219.8 119.9h1.25M217.2 115.3h1.25M222.9 114.7h1.25M205.2 118.3h1.25M204.0 121.5h1.25M223.0 118.6h1.25M212.1 130.3h1.25M208.6 128.7h1.25M209.9 126.4h1.25M220.6 121.4h1.25M226.5 116.1h1.25M213.3 139.4h1.25M211.8 115.4h1.25M221.3 121.4h1.25M213.8 120.9h1.25M234.1 102.9h1.25M213.1 124.2h1.25M219.3 125.4h1.25M225.6 135.9h1.25M211.7 111.9h1.25M217.7 127.7h1.25M222.2 126.3h1.25M226.5 127.1h1.25M214.8 125.9h1.25M224.8 113.1h1.25M214.2 127.4h1.25M224.6 127.3h1.25M217.0 125.3h1.25M206.5 119.1h1.25M201.1 108.3h1.25M213.2 129.6h1.25M214.0 131.7h1.25M212.0 135.6h1.25M225.9 118.6h1.25M199.2 113.3h1.25M222.5 115.9h1.25M217.6 116.9h1.25M210.8 124.3h1.25M223.8 121.1h1.25M212.1 115.2h1.25M223.6 129.6h1.25M206.8 119.3h1.25M220.4 122.7h1.25M213.3 126.1h1.25M215.8 103.0h1.25M218.4 127.8h1.25M219.6 122.8h1.25M210.1 122.1h1.25M212.2 112.1h1.25M213.4 116.6h1.25M229.3 124.2h1.25M212.4 113.3h1.25M225.4 125.4h1.25M211.8 135.3h1.25M230.0 113.8h1.25M220.8 121.3h1.25M208.4 116.0h1.25M196.5 123.1h1.25M230.2 117.5h1.25M201.9 131.5h1.25M206.1 123.5h1.25M210.3 128.2h1.25M211.6 120.7h1.25M208.0 115.8h1.25M207.7 122.1h1.25M212.7 131.8h1.25M209.8 119.2h1.25M223.8 125.0h1.25M204.5 114.4h1.25M213.1 128.0h1.25M233.3 113.4h1.25M225.7 119.5h1.25M225.6 132.0h1.25M209.8 121.2h1.25M201.3 132.4h1.25M216.7 117.2h1.25M208.4 121.9h1.25M221.1 123.6h1.25M211.0 114.0h1.25M221.3 125.8h1.25M219.6 126.5h1.25M198.3 126.7h1.25M207.5 118.9h1.25M220.4 122.7h1.25M217.1 111.9h1.25M223.9 107.1h1.25M225.0 137.1h1.25M229.9 124.2h1.25M218.1 114.0h1.25M228.6 125.5h1.25M207.3 133.5h1.25M202.8 126.1h1.25M213.1 119.7h1.25M218.9 110.7h1.25M210.4 119.9h1.25M222.9 122.0h1.25M216.2 114.5h1.25M212.9 126.5h1.25M182.0 119.6h1.25M228.9 121.8h1.25M218.6 124.7h1.25M225.2 130.4h1.25M227.4 117.9h1.25M224.7 114.3h1.25M206.5 131.0h1.25M202.8 131.1h1.25M228.0 119.9h1.25M228.7 128.4h1.25M206.0 135.0h1.25M220.1 117.2h1.25M212.7 120.4h1.25M210.4 129.5h1.25M236.8 118.7h1.25M214.8 119.4h1.25M231.5 132.4h1.25M204.3 121.8h1.25M224.1 128.2h1.25M229.9 125.4h1.25M210.5 122.0h1.25M224.8 126.1h1.25M221.9 129.4h1.25M211.8 127.0h1.25M220.9 122.5h1.25M218.8 115.0h1.25M189.9 115.7h1.25M216.8 109.1h1.25M218.9 122.6h1.25M215.9 120.1h1.25M221.5 112.8h1.25M224.2 107.8h1.25M216.0 136.9h1.25M191.0 132.9h1.25M208.7 118.9h1.25M225.0 123.6h1.25M221.5 125.7h1.25M215.8 115.9h1.25M233.7 116.3h1.25M210.4 112.6h1.25M215.4 122.8h1.25M217.7 126.3h1.25M208.6 125.3h1.25M207.4 114.3h1.25M219.9 130.5h1.25M214.6 110.6h1.25M214.1 125.4h1.25M210.7 119.5h1.25M232.7 116.7h1.25M224.5 124.0h1.25M213.8 116.5h1.25M212.5 138.6h1.25M213.7 122.5h1.25M219.0 119.8h1.25M222.6 126.6h1.25M223.2 131.9h1.25M194.5 122.6h1.25M221.1 127.4h1.25M212.2 129.1h1.25M209.0 118.3h1.25M230.0 101.3h1.25M225.2 100.2h1.25M228.4 98.6h1.25M229.1 101.1h1.25M226.8 102.0h1.25M227.4 98.2h1.25M224.3 100.6h1.25" stroke="#000" stroke-width="1.25" fill="none"/>
<ellipse cx="330.3" cy="122.8" rx="7.1" ry="6.9" fill="#000"/>
<ellipse cx="350.1" cy="122.2" rx="6.1" ry="7.1" fill="#000"/>
<path d="M324.3 118.6h1.25M340.1 116.3h1.25M321.6 118.0h1.25M334.6 114.9h1.25M322.6 116.8h1.25M321.5 121.9h1.25M339.8 132.7h1.25M337.6 121.8h1.25M318.2 123.4h1.25M317.5 122.7h1.25M321.8 125.4h1.25M323.8 121.5h1.25M323.7 111.5h1.25M322.8 123.2h1.25M336.5 127.0h1.25M334.4 110.7h1.25M331.8 115.8h1.25M329.0 131.1h1.25M337.7 123.6h1.25M338.8 122.3h1.25M335.9 121.5h1.25M327.7 132.5h1.25M335.5 120.5h1.25M323.3 117.9h1.25M342.4 124.1h1.25M335.8 111.4h1.25M327.6 129.7h1.25M322.6 128.9h1.25M335.8 126.7h1.25M328.8 115.5h1.25M326.1 114.2h1.25M325.4 130.1h1.25M337.4 126.7h1.25M324.1 115.8h1.25M325.3 129.3h1.25M324.0 118.9h1.25M331.0 114.9h1.25M326.7 128.9h1.25M323.1 131.2h1.25M334.4 126.8h1.25M336.9 123.2h1.25M337.6 121.0h1.25M337.1 120.7h1.25M323.6 120.1h1.25M328.3 114.9h1.25M319.3 131.9h1.25M320.7 129.9h1.25M336.9 126.1h1.25M340.8 128.2h1.25M322.7 124.2h1.25M323.7 127.4h1.25M338.8 120.9h1.25M325.7 113.7h1.25M340.8 120.3h1.25M326.5 116.1h1.25M331.1 114.1h1.25M335.3 110.6h1.25M324.5 119.4h1.25M330.9 133.4h1.25M332.8 131.4h1.25M334.6 118.6h1.25M319.2 124.3h1.25M320.3 121.9h1.25M326.3 116.9h1.25M338.8 130.4h1.25M336.5 128.8h1.25M322.7 127.0h1.25M326.4 115.5h1.25M329.9 116.5h1.25M335.3 120.6h1.25M333.4 130.7h1.25M331.3 116.9h1.25M318.6 115.2h1.25M334.6 128.2h1.25M322.7 115.3h1.25M326.4 116.8h1.25M335.8 115.7h1.25M338.3 130.2h1.25M335.7 115.8h1.25M323.6 131.8h1.25M334.6 126.6h1.25M325.2 132.9h1.25M319.4 125.1h1.25M335.2 134.0h1.25M338.8 129.7h1.25M328.2 115.3h1.25M331.0 128.4h1.25M326.5 110.7h1.25M332.6 128.2h1.25M332.6 129.2h1.25M331.6 132.7h1.25M331.9 115.0h1.25M322.1 122.2h1.25M333.2 112.7h1.25M321.7 129.8h1.25M342.0 120.5h1.25M342.7 122.5h1.25M334.9 116.7h1.25M333.6 113.1h1.25M323.8 127.0h1.25M336.2 109.8h1.25M331.7 117.1h1.25M321.1 115.4h1.25M323.2 119.5h1.25M327.4 128.9h1.25M326.1 128.4h1.25M321.6 120.9h1.25M337.1 117.1h1.25M334.3 130.1h1.25M340.4 131.1h1.25M318.3 126.7h1.25M336.0 123.9h1.25M323.7 112.8h1.25M324.1 120.7h1.25M320.0 120.3h1.25M322.7 134.2h1.25M322.9 117.1h1.25M335.6 120.9h1.25M321.6 118.0h1.25M339.2 118.1h1.25M332.6 127.9h1.25M337.9 118.8h1.25M333.9 128.0h1.25M338.9 125.0h1.25M337.9 124.1h1.25M316.7 120.1h1.25M337.7 120.5h1.25M335.8 128.7h1.25M323.1 129.5h1.25M326.1 116.0h1.25M322.0 119.5h1.25M336.7 122.9h1.25M319.3 122.6h1.25M337.7 128.4h1.25M329.1 117.0h1.25M322.3 122.8h1.25M323.6 125.6h1.25M330.9 130.4h1.25M334.6 114.5h1.25M332.4 128.1h1.25M326.0 129.0h1.25M327.7 129.2h1.25M331.7 113.1h1.25M327.4 113.6h1.25M336.5 112.8h1.25M321.6 117.8h1.25M322.0 127.8h1.25M336.1 124.4h1.25M330.9 116.9h1.25M330.3 112.8h1.25M315.0 120.6h1.25M328.4 129.2h1.25M322.1 125.2h1.25M320.3 122.2h1.25M335.6 126.2h1.25M336.4 121.8h1.25M322.8 123.8h1.25M336.0 120.5h1.25M341.2 125.5h1.25M330.1 129.9h1.25M335.9 116.9h1.25M320.8 125.4h1.25M332.2 115.2h1.25M332.1 128.3h1.25M320.6 118.7h1.25M339.1 126.7h1.25M339.8 120.6h1.25M338.3 129.2h1.25M325.1 129.6h1.25M332.9 128.2h1.25M345.2 111.6h1.25M337.5 117.4h1.25M336.8 124.1h1.25M328.7 114.9h1.25M327.7 133.5h1.25M325.5 129.8h1.25M318.4 127.9h1.25M327.4 115.1h1.25M322.1 116.1h1.25M336.3 119.1h1.25M333.0 128.9h1.25M324.6 119.8h1.25M326.1 115.9h1.25M323.2 115.7h1.25M335.9 118.3h1.25M327.7 116.1h1.25M322.6 132.5h1.25M337.7 105.5h1.25M338.1 125.5h1.25M326.4 130.5h1.25M326.2 128.9h1.25M337.5 126.0h1.25M333.3 114.2h1.25M337.9 129.2h1.25M323.4 119.0h1.25M335.3 120.4h1.25M326.4 127.8h1.25M327.5 115.9h1.25M335.6 131.0h1.25M330.3 134.4h1.25M321.1 122.4h1.25M322.8 119.9h1.25M335.8 124.1h1.25M329.6 129.9h1.25M335.2 126.9h1.25M318.4 112.7h1.25M321.7 124.0h1.25M338.9 127.5h1.25M329.0 117.0h1.25M323.1 119.9h1.25M323.8 132.1h1.25M332.8 128.4h1.25M333.6 111.6h1.25M328.9 115.0h1.25M339.3 120.4h1.25M330.3 130.2h1.25M338.5 116.0h1.25M329.4 116.0h1.25M321.1 116.0h1.25M322.9 133.8h1.25M321.2 127.3h1.25M337.1 117.9h1.25M339.1 122.7h1.25M325.7 127.8h1.25M324.5 127.7h1.25M341.8 114.4h1.25M335.2 125.9h1.25M339.4 123.3h1.25M320.6 122.8h1.25M336.7 124.5h1.25M322.8 119.5h1.25M326.6 133.6h1.25M335.5 124.1h1.25M333.3 129.1h1.25M338.9 128.1h1.25M336.5 121.0h1.25M321.4 122.7h1.25M322.9 112.6h1.25M333.7 132.4h1.25M335.6 116.8h1.25M333.2 136.7h1.25M330.9 131.6h1.25M336.9 113.6h1.25M325.8 127.9h1.25M335.2 116.4h1.25M318.4 125.0h1.25M333.8 117.2h1.25M325.7 117.4h1.25M325.6 129.9h1.25M327.0 128.0h1.25M338.8 113.7h1.25M335.0 134.2h1.25M329.3 138.4h1.25M319.9 127.7h1.25M319.0 128.0h1.25M333.8 128.4h1.25M338.4 123.9h1.25M316.5 122.2h1.25M334.7 129.0h1.25M336.1 128.8h1.25M320.0 131.3h1.25M323.2 120.1h1.25M331.4 129.6h1.25M323.1 111.1h1.25M326.5 129.9h1.25M332.9 117.4h1.25M329.0 114.4h1.25M338.1 118.7h1.25M330.8 114.6h1.25M324.3 127.5h1.25M330.0 116.0h1.25M338.3 124.2h1.25M324.5 118.8h1.25M332.9 115.6h1.25M339.3 125.9h1.25M321.8 128.7h1.25M323.3 123.0h1.25M337.4 124.7h1.25M339.0 131.6h1.25M335.7 114.3h1.25M318.0 116.5h1.25M329.5 131.7h1.25M323.4 123.9h1.25M335.2 132.8h1.25M336.0 130.1h1.25M321.2 126.3h1.25M326.3 128.2h1.25M335.7 124.3h1.25M323.3 124.2h1.25M334.2 118.9h1.25M338.9 126.5h1.25M322.7 125.5h1.25M336.6 120.7h1.25M324.3 125.7h1.25M333.7 127.3h1.25M333.9 128.0h1.25M321.4 121.5h1.25M340.7 120.2h1.25M323.6 117.2h1.25M321.0 125.7h1.25M335.0 127.4h1.25M323.1 122.7h1.25M331.1 116.5h1.25M331.5 129.3h1.25M327.9 129.0h1.25M323.3 130.9h1.25M323.4 122.3h1.25M328.7 117.1h1.25M330.2 129.3h1.25M324.5 118.1h1.25M331.4 130.3h1.25M323.6 121.1h1.25M328.0 117.2h1.25M330.7 114.9h1.25M328.9 130.4h1.25M326.1 115.7h1.25M321.8 121.1h1.25M323.9 123.7h1.25M339.5 118.0h1.25M328.6 117.0h1.25M337.0 114.1h1.25M329.6 114.2h1.25M335.5 117.7h1.25M326.1 129.0h1.25M323.1 123.0h1.25M330.3 115.6h1.25M341.8 119.9h1.25M327.7 131.0h1.25M323.4 126.9h1.25M336.0 134.0h1.25M337.3 116.2h1.25M331.1 115.3h1.25M324.2 119.8h1.25M325.5 118.1h1.25M331.1 130.1h1.25M339.1 132.2h1.25M323.4 125.8h1.25M334.9 115.5h1.25M327.1 117.3h1.25M326.0 117.3h1.25M330.9 114.6h1.25M323.1 113.2h1.25M336.7 123.6h1.25M329.3 130.4h1.25M327.9 133.4h1.25M323.0 123.7h1.25M333.2 111.4h1.25M321.3 114.6h1.25M325.7 128.6h1.25M336.4 127.2h1.25M331.4 129.9h1.25M332.9 117.5h1.25M318.4 115.8h1.25M322.0 122.6h1.25M331.1 115.4h1.25M333.2 115.6h1.25M320.0 131.9h1.25M338.3 124.7h1.25M331.1 117.2h1.25M335.6 126.6h1.25M328.8 131.4h1.25M323.4 125.0h1.25M327.4 128.5h1.25M326.8 117.0h1.25M324.4 113.4h1.25M327.8 133.4h1.25M327.8 132.1h1.25M329.9 112.9h1.25M329.2 110.0h1.25M320.0 120.1h1.25M336.6 120.0h1.25M339.5 123.9h1.25M336.0 125.9h1.25M334.8 119.7h1.25M325.3 128.0h1.25M335.7 121.7h1.25M333.0 130.9h1.25M331.9 129.9h1.25M322.6 118.5h1.25M334.6 116.3h1.25M327.3 114.6h1.25M323.1 120.9h1.25M337.8 118.7h1.25M336.5 127.8h1.25M334.3 127.3h1.25M335.5 119.8h1.25M324.2 126.5h1.25M330.8 116.5h1.25M331.0 116.6h1.25M329.2 114.8h1.25M337.2 120.8h1.25M325.8 128.4h1.25M324.6 125.7h1.25M338.3 120.1h1.25M322.6 125.1h1.25M322.4 120.8h1.25M337.5 111.1h1.25M337.2 127.3h1.25M326.0 115.2h1.25M335.4 132.4h1.25M334.2 127.0h1.25M329.1 116.8h1.25M320.9 124.4h1.25M315.9 125.2h1.25M329.4 116.7h1.25M332.2 113.6h1.25M327.1 132.4h1.25M320.5 123.7h1.25M339.7 124.0h1.25M329.3 114.5h1.25M337.0 119.3h1.25M334.0 126.8h1.25M329.6 112.4h1.25M339.1 119.3h1.25M334.2 129.2h1.25M320.0 121.5h1.25M324.5 127.4h1.25M336.2 128.7h1.25M331.5 116.5h1.25M327.8 128.5h1.25M324.4 118.5h1.25M333.7 117.7h1.25M328.5 128.7h1.25M320.8 129.3h1.25M330.8 130.0h1.25M324.5 125.9h1.25M322.9 115.3h1.25M321.0 121.2h1.25M323.6 121.4h1.25M342.1 118.2h1.25M337.8 120.6h1.25M334.8 126.0h1.25M320.7 127.8h1.25M323.7 117.9h1.25M324.4 125.8h1.25M320.2 121.7h1.25M335.8 122.2h1.25M342.1 118.0h1.25M331.2 115.3h1.25M326.3 128.1h1.25M326.4 130.0h1.25M322.5 123.3h1.25M325.2 115.2h1.25M320.9 121.3h1.25M321.9 122.6h1.25M323.7 120.6h1.25M333.3 129.8h1.25M328.9 115.2h1.25M339.0 122.3h1.25M335.6 126.2h1.25M324.6 131.6h1.25M319.2 129.0h1.25M336.4 118.8h1.25M326.0 129.2h1.25M338.4 123.6h1.25M339.8 120.5h1.25M323.7 118.7h1.25M336.2 122.5h1.25M327.9 117.0h1.25M323.6 121.0h1.25M322.7 124.2h1.25M327.0 115.3h1.25M324.0 129.3h1.25M317.7 129.3h1.25M325.8 117.6h1.25M320.1 117.1h1.25M323.9 125.5h1.25M321.2 118.6h1.25M332.1 117.2h1.25M321.2 125.4h1.25M320.5 120.6h1.25M338.8 127.5h1.25M334.4 117.6h1.25M327.4 130.3h1.25M337.7 123.7h1.25M340.0 123.9h1.25M323.3 117.4h1.25M334.3 116.0h1.25M335.1 126.1h1.25M328.0 114.8h1.25M325.5 127.6h1.25M319.9 114.6h1.25M326.4 117.9h1.25M336.5 119.9h1.25M341.6 123.1h1.25M335.4 129.3h1.25M329.4 129.9h1.25M341.9 126.2h1.25M321.5 123.6h1.25M326.8 128.8h1.25M332.7 117.0h1.25M337.0 119.4h1.25M323.6 124.0h1.25M337.4 114.4h1.25M334.5 129.6h1.25M330.8 129.9h1.25M335.6 128.3h1.25M323.8 120.9h1.25M325.7 112.0h1.25M320.3 121.5h1.25M335.5 116.2h1.25M339.2 123.6h1.25M335.5 125.3h1.25M322.7 121.1h1.25M334.1 114.4h1.25M313.2 122.9h1.25M335.1 125.6h1.25M320.0 122.0h1.25M327.6 116.1h1.25M329.2 116.5h1.25M328.9 115.3h1.25M338.2 125.0h1.25M330.9 113.6h1.25M337.7 118.9h1.25M324.2 117.9h1.25M334.2 128.7h1.25M333.4 116.3h1.25M324.0 117.9h1.25M336.6 128.2h1.25M322.0 114.0h1.25M336.3 126.2h1.25M320.9 111.0h1.25M329.3 128.9h1.25M331.4 113.1h1.25M335.1 130.3h1.25M327.7 128.4h1.25M335.2 132.3h1.25M330.7 131.1h1.25M339.0 119.4h1.25M327.7 132.2h1.25M336.0 131.1h1.25M335.7 116.9h1.25M336.2 119.3h1.25M317.9 131.3h1.25M322.5 117.6h1.25M322.5 118.6h1.25M336.3 119.1h1.25M325.4 131.0h1.25M341.3 125.9h1.25M328.4 131.3h1.25M322.9 117.8h1.25M336.9 123.7h1.25M321.7 121.8h1.25M335.9 122.4h1.25M330.7 111.9h1.25M331.0 138.3h1.25M321.0 120.8h1.25M339.2 118.6h1.25M330.3 130.2h1.25M323.2 122.8h1.25M323.3 129.7h1.25M326.2 116.1h1.25M318.3 112.1h1.25M324.0 121.6h1.25M332.9 130.3h1.25M324.6 128.1h1.25M318.7 115.2h1.25M324.2 118.7h1.25M324.0 116.5h1.25M336.7 121.2h1.25M325.8 114.1h1.25M318.0 132.1h1.25M333.3 129.0h1.25M331.2 115.0h1.25M336.5 120.0h1.25M324.6 129.5h1.25M326.2 128.9h1.25M335.8 117.6h1.25M338.7 116.4h1.25M325.2 118.0h1.25M338.4 122.7h1.25M328.9 129.3h1.25M325.1 119.2h1.25M328.1 131.2h1.25M322.0 127.5h1.25M333.7 114.2h1.25M321.9 117.4h1.25M325.6 127.1h1.25M331.0 132.0h1.25M328.4 128.7h1.25M335.3 113.3h1.25M331.5 128.4h1.25M320.3 122.1h1.25M332.8 117.5h1.25M321.7 131.3h1.25M339.7 124.7h1.25M328.2 116.9h1.25M334.5 130.6h1.25M336.0 126.2h1.25M322.6 119.3h1.25M331.8 130.4h1.25M320.2 125.6h1.25M336.5 121.7h1.25M335.2 118.6h1.25M331.4 112.7h1.25M335.0 127.9h1.25M318.2 118.6h1.25M337.8 121.6h1.25M326.7 128.5h1.25M324.3 125.0h1.25M334.0 117.7h1.25M324.9 119.2h1.25M335.6 132.6h1.25M331.2 131.7h1.25M333.7 131.5h1.25M336.6 123.5h1.25M335.3 118.8h1.25M327.2 116.2h1.25M317.8 131.4h1.25M329.7 131.5h1.25M333.7 129.6h1.25M333.8 127.1h1.25M329.7 133.0h1.25M323.5 126.4h1.25M323.9 119.6h1.25M343.3 119.9h1.25M332.6 113.5h1.25M329.2 115.6h1.25M325.1 130.0h1.25M334.0 127.3h1.25M332.9 128.8h1.25M336.7 116.4h1.25M332.8 128.9h1.25M337.1 118.6h1.25M335.0 119.5h1.25M328.1 117.2h1.25M335.3 119.0h1.25M345.1 125.3h1.25M333.3 128.6h1.25M330.7 129.1h1.25M337.9 116.7h1.25M323.5 117.2h1.25M321.7 113.4h1.25M330.8 116.7h1.25M331.4 115.6h1.25M337.2 122.4h1.25M328.3 130.9h1.25M326.4 130.7h1.25M326.1 129.9h1.25M335.7 133.4h1.25M334.6 110.5h1.25M322.8 128.6h1.25M336.2 121.4h1.25M322.4 123.2h1.25M337.7 118.6h1.25M323.8 121.0h1.25M341.9 123.7h1.25M337.7 129.9h1.25M322.0 128.6h1.25M326.2 115.6h1.25M323.2 126.8h1.25M322.5 124.8h1.25M323.0 121.6h1.25M343.6 120.1h1.25M335.8 120.0h1.25M316.1 111.9h1.25M331.2 135.7h1.25M326.1 118.2h1.25M331.3 108.9h1.25M323.7 115.1h1.25M324.9 127.3h1.25M328.3 115.9h1.25M337.6 119.3h1.25M324.0 124.4h1.25M336.5 122.6h1.25M333.4 117.7h1.25M335.9 115.1h1.25M330.8 114.3h1.25M324.9 138.5h1.25M323.8 121.0h1.25M328.3 116.3h1.25M325.9 130.8h1.25M329.5 130.4h1.25M334.2 129.9h1.25M329.3 130.4h1.25M339.9 123.2h1.25M330.6 115.0h1.25M327.2 113.8h1.25M341.3 122.8h1.25M324.7 118.5h1.25M338.8 127.1h1.25M322.8 125.5h1.25M327.5 130.4h1.25M334.3 126.5h1.25M328.9 132.1h1.25M336.2 120.8h1.25M331.5 131.7h1.25M339.9 125.7h1.25M330.4 133.5h1.25M319.9 120.0h1.25M325.1 117.7h1.25M321.9 123.6h1.25M327.9 129.7h1.25M332.4 129.2h1.25M338.3 135.4h1.25M332.4 115.0h1.25M323.5 130.8h1.25M326.1 127.3h1.25M323.9 116.6h1.25M327.2 129.1h1.25M326.5 117.8h1.25M324.2 119.5h1.25M336.9 124.0h1.25M332.3 117.0h1.25M327.5 131.7h1.25M333.1 116.6h1.25M330.4 116.2h1.25M326.0 131.2h1.25M337.0 119.4h1.25M324.7 118.1h1.25M321.7 121.6h1.25M336.0 121.8h1.25M336.1 123.6h1.25M335.8 118.7h1.25M321.8 126.8h1.25M335.1 126.1h1.25M323.7 122.5h1.25M323.8 122.7h1.25M324.5 134.4h1.25M330.4 116.3h1.25M324.1 128.6h1.25M326.0 111.7h1.25M335.5 121.4h1.25M336.3 126.0h1.25M336.2 122.7h1.25M333.4 116.7h1.25M322.3 119.8h1.25M326.1 113.2h1.25M332.4 128.8h1.25M337.9 136.2h1.25M335.7 122.8h1.25M332.8 129.9h1.25M325.3 129.2h1.25M326.5 130.5h1.25M323.7 133.0h1.25M325.1 117.3h1.25M320.3 133.5h1.25M330.2 129.0h1.25M329.3 131.5h1.25M329.7 117.0h1.25M331.9 134.0h1.25M326.6 117.8h1.25M331.7 117.0h1.25M320.4 123.6h1.25M331.6 115.5h1.25M330.1 116.0h1.25M325.9 130.8h1.25M324.1 120.1h1.25M327.3 128.4h1.25M325.6 112.1h1.25M320.7 118.6h1.25M337.3 119.1h1.25M337.2 121.6h1.25M340.6 124.6h1.25M331.8 129.7h1.25M320.2 115.1h1.25M335.0 118.6h1.25M338.5 121.8h1.25M335.6 125.0h1.25M328.5 116.5h1.25M338.3 117.9h1.25M333.6 115.4h1.25M335.2 118.8h1.25M331.3 116.8h1.25M330.6 113.6h1.25M328.6 129.8h1.25M339.9 109.4h1.25M334.7 129.6h1.25M335.6 126.9h1.25M328.8 128.9h1.25M325.7 116.2h1.25M328.1 132.8h1.25M340.2 125.1h1.25M316.8 130.0h1.25M331.4 132.2h1.25M337.7 123.1h1.25M324.6 127.5h1.25M321.0 122.5h1.25M324.3 126.8h1.25M321.8 119.6h1.25M334.0 130.3h1.25M322.3 125.8h1.25M335.8 116.0h1.25M324.1 124.5h1.25M322.0 125.9h1.25M337.0 119.2h1.25M322.2 130.5h1.25M332.9 114.3h1.25M338.9 120.1h1.25M323.1 131.7h1.25M323.3 129.1h1.25M337.4 120.0h1.25M320.8 121.4h1.25M335.5 124.6h1.25M329.1 129.8h1.25M323.7 128.5h1.25M321.7 120.3h1.25M319.4 124.4h1.25M339.2 117.1h1.25M326.3 131.3h1.25M333.0 117.8h1.25M321.6 125.3h1.25M342.0 123.5h1.25M335.2 118.7h1.25M334.3 114.3h1.25M335.0 118.9h1.25M329.1 112.3h1.25M328.0 117.0h1.25M315.5 119.2h1.25M330.7 129.6h1.25M334.1 132.4h1.25M335.7 126.0h1.25M336.0 118.3h1.25M332.6 135.3h1.25M332.5 117.5h1.25M340.2 120.9h1.25M338.9 121.6h1.25M335.0 115.2h1.25M336.3 121.1h1.25M328.2 131.6h1.25M332.6 117.6h1.25M325.8 113.8h1.25M337.1 128.7h1.25M327.0 117.0h1.25M330.7 131.0h1.25M334.3 131.1h1.25M337.5 125.0h1.25M321.4 126.8h1.25M337.9 124.7h1.25M334.5 133.4h1.25M323.0 125.5h1.25M318.2 132.6h1.25M322.5 117.5h1.25M322.5 131.0h1.25M333.1 117.8h1.25M323.4 118.4h1.25M326.2 128.0h1.25M333.3 115.1h1.25M322.4 119.7h1.25M328.1 111.7h1.25M327.5 131.5h1.25M337.9 118.5h1.25M327.4 116.0h1.25M336.8 117.3h1.25M322.9 125.3h1.25M336.1 122.8h1.25M323.3 127.1h1.25M329.7 117.0h1.25M322.9 118.5h1.25M327.5 133.3h1.25M331.1 129.3h1.25M336.6 124.1h1.25M326.2 128.3h1.25M330.2 117.0h1.25M325.4 129.0h1.25M331.8 116.8h1.25M329.7 128.7h1.25M334.2 127.1h1.25M323.2 119.7h1.25M340.2 119.3h1.25M333.8 129.0h1.25M332.1 117.1h1.25M317.8 121.8h1.25M322.6 115.4h1.25M334.5 130.9h1.25M324.8 126.2h1.25M335.6 124.3h1.25M332.9 117.2h1.25M336.3 122.3h1.25M322.2 124.1h1.25M341.1 121.5h1.25M319.0 129.7h1.25M330.1 129.1h1.25M328.5 129.8h1.25M332.7 113.9h1.25M318.6 134.7h1.25M322.7 126.3h1.25M328.4 130.6h1.25M326.8 116.3h1.25M333.1 116.6h1.25M323.8 132.5h1.25M321.9 128.5h1.25M325.4 113.0h1.25M320.5 119.8h1.25M324.3 129.3h1.25M329.5 115.3h1.25M320.4 128.3h1.25M337.0 120.0h1.25M325.9 127.6h1.25M325.3 128.3h1.25M322.8 124.1h1.25M336.5 121.6h1.25M325.7 130.1h1.25M326.4 117.9h1.25M329.0 130.0h1.25M335.0 126.7h1.25M319.1 120.3h1.25M337.8 118.8h1.25M338.9 126.7h1.25M321.7 127.5h1.25M323.0 124.2h1.25M330.9 131.1h1.25M325.1 119.3h1.25M328.9 114.5h1.25M330.3 115.3h1.25M320.7 123.6h1.25M326.8 116.8h1.25M320.9 118.8h1.25M323.0 120.5h1.25M328.8 132.1h1.25M332.4 131.7h1.25M335.0 126.1h1.25M324.1 118.7h1.25M337.5 124.1h1.25M325.5 117.9h1.25M341.4 125.2h1.25M322.5 119.4h1.25M327.0 112.9h1.25M335.8 122.1h1.25M326.1 128.4h1.25M329.9 116.6h1.25M336.5 120.6h1.25M328.3 130.1h1.25M321.0 124.7h1.25M337.1 117.3h1.25M339.0 116.5h1.25M332.0 116.2h1.25M334.4 131.3h1.25M333.9 133.3h1.25M328.0 129.2h1.25M340.3 115.2h1.25M326.4 115.8h1.25M333.2 115.7h1.25M329.1 128.6h1.25M324.1 125.1h1.25M330.9 116.1h1.25M339.5 121.9h1.25M332.7 129.6h1.25M334.5 116.5h1.25M323.5 123.4h1.25M324.2 118.7h1.25M319.3 126.0h1.25M323.7 120.6h1.25M336.2 121.9h1.25M336.5 126.9h1.25M334.1 117.9h1.25M328.0 130.9h1.25M338.9 125.2h1.25M335.8 128.1h1.25M331.5 116.6h1.25M335.9 127.9h1.25M340.8 118.7h1.25M329.4 133.0h1.25M324.0 125.9h1.25M326.5 117.7h1.25M323.6 122.2h1.25M327.3 129.8h1.25M329.1 131.5h1.25M339.0 120.2h1.25M331.5 117.2h1.25M339.0 124.2h1.25M327.5 114.5h1.25M324.8 126.5h1.25M336.4 123.0h1.25M325.8 127.7h1.25M327.3 116.1h1.25M332.3 113.9h1.25M336.7 124.8h1.25M323.8 117.2h1.25M329.1 130.0h1.25M338.1 124.3h1.25M329.6 131.6h1.25M340.5 119.1h1.25M335.3 119.6h1.25M322.3 128.6h1.25M320.9 120.9h1.25M334.2 126.7h1.25M324.1 116.1h1.25M337.3 125.0h1.25M329.6 130.3h1.25M327.8 130.2h1.25M341.4 117.5h1.25M331.7 132.3h1.25M334.2 127.1h1.25M335.0 129.3h1.25M328.3 128.6h1.25M324.3 118.2h1.25M328.4 132.3h1.25M323.6 125.4h1.25M320.0 123.9h1.25M328.7 116.8h1.25M330.4 132.5h1.25M324.9 118.6h1.25M322.7 122.0h1.25M324.7 119.8h1.25M327.8 116.5h1.25M341.6 116.5h1.25M337.0 121.6h1.25M327.5 131.2h1.25M331.3 128.9h1.25M334.9 119.6h1.25M323.8 119.0h1.25M340.2 124.0h1.25M327.2 137.8h1.25M337.3 130.5h1.25M329.9 130.2h1.25M325.5 114.7h1.25M324.6 118.8h1.25M324.4 130.2h1.25M336.8 124.7h1.25M330.6 128.6h1.25M325.8 127.3h1.25M329.5 130.1h1.25M323.2 117.8h1.25M341.0 121.0h1.25M345.5 126.6h1.25M344.4 117.1h1.25M349.9 131.5h1.25M354.0 127.8h1.25M351.1 115.2h1.25M355.2 123.3h1.25M356.7 122.8h1.25M354.1 115.0h1.25M349.6 113.6h1.25M355.8 116.7h1.25M358.7 125.6h1.25M357.3 116.5h1.25M341.6 120.7h1.25M354.7 124.3h1.25M343.7 112.1h1.25M353.5 127.9h1.25M344.3 113.6h1.25M353.6 118.0h1.25M342.2 123.3h1.25M344.3 121.1h1.25M354.5 125.2h1.25M344.0 130.5h1.25M351.7 131.2h1.25M345.5 126.0h1.25M347.2 133.2h1.25M351.9 127.7h1.25M350.6 114.5h1.25M352.3 128.4h1.25M351.5 130.3h1.25M356.7 113.8h1.25M354.7 124.5h1.25M348.9 131.5h1.25M352.5 117.1h1.25M355.7 125.3h1.25M343.4 122.9h1.25M359.4 125.4h1.25M355.7 128.2h1.25M351.0 116.2h1.25M348.1 131.2h1.25M356.4 121.4h1.25M351.2 113.3h1.25M349.5 129.6h1.25M354.7 123.7h1.25M342.5 116.7h1.25M354.1 117.8h1.25M359.3 126.5h1.25M343.6 120.9h1.25M352.8 129.3h1.25M351.2 129.3h1.25M347.9 116.2h1.25M357.3 125.4h1.25M356.1 127.2h1.25M358.1 129.2h1.25M355.8 119.7h1.25M344.3 128.9h1.25M345.6 128.7h1.25M353.7 126.9h1.25M353.1 129.5h1.25M350.5 128.9h1.25M356.4 122.6h1.25M346.6 117.0h1.25M349.7 128.4h1.25M345.4 118.6h1.25M349.5 115.2h1.25M353.8 127.0h1.25M355.2 119.8h1.25M350.7 133.2h1.25M355.7 121.7h1.25M343.6 119.9h1.25M354.4 130.5h1.25M357.9 125.2h1.25M351.7 130.4h1.25M344.3 120.8h1.25M358.3 124.7h1.25M354.8 116.5h1.25M346.5 115.9h1.25M348.4 116.3h1.25M343.4 112.4h1.25M354.9 118.0h1.25M343.6 120.2h1.25M350.9 116.5h1.25M345.2 118.4h1.25M352.4 112.4h1.25M356.5 132.3h1.25M352.7 110.5h1.25M341.9 123.0h1.25M351.4 116.1h1.25M344.1 129.9h1.25M343.1 130.7h1.25M354.9 128.9h1.25M344.5 117.5h1.25M347.1 133.2h1.25M357.4 128.2h1.25M343.0 123.6h1.25M346.0 115.7h1.25M340.5 125.4h1.25M360.7 129.2h1.25M339.5 113.2h1.25M350.1 116.1h1.25M357.4 124.2h1.25M355.7 119.4h1.25M352.5 111.7h1.25M355.5 128.8h1.25M347.4 130.6h1.25M355.2 118.7h1.25M344.6 123.9h1.25M358.3 123.0h1.25M344.2 123.9h1.25M349.4 114.9h1.25M344.5 118.3h1.25M352.0 114.7h1.25M354.1 116.7h1.25M343.6 120.8h1.25M358.4 115.4h1.25M345.1 127.7h1.25M350.0 129.7h1.25M343.7 125.0h1.25M338.8 111.5h1.25M344.4 112.3h1.25M345.6 117.1h1.25M355.6 127.1h1.25M351.9 113.4h1.25M338.6 116.9h1.25M355.9 118.0h1.25M359.5 128.6h1.25M346.1 127.0h1.25M341.3 121.2h1.25M344.5 124.3h1.25M343.3 130.0h1.25M344.0 131.5h1.25M343.5 129.2h1.25M350.9 128.0h1.25M339.3 125.9h1.25M348.2 128.1h1.25M357.0 119.1h1.25M346.0 127.2h1.25M346.7 130.0h1.25M350.7 128.3h1.25M348.7 116.2h1.25M343.0 124.5h1.25M352.3 112.3h1.25M352.8 113.8h1.25M347.7 111.3h1.25M354.7 122.9h1.25M355.5 128.7h1.25M354.2 112.8h1.25M344.9 126.7h1.25M340.6 126.6h1.25M355.5 119.6h1.25M340.6 123.3h1.25M352.7 129.3h1.25M352.4 116.4h1.25M349.4 114.7h1.25M353.9 126.0h1.25M342.4 120.8h1.25M355.3 116.9h1.25M347.4 110.9h1.25M345.2 117.8h1.25M344.1 112.5h1.25M342.2 128.4h1.25M352.6 109.8h1.25M336.5 128.1h1.25M345.9 128.7h1.25M350.3 129.1h1.25M355.6 116.2h1.25M355.9 120.3h1.25M342.6 120.7h1.25M345.5 128.3h1.25M346.1 116.0h1.25M345.5 116.6h1.25M346.8 129.3h1.25M349.7 128.3h1.25M344.6 127.9h1.25M338.6 130.1h1.25M347.7 115.6h1.25M347.6 128.6h1.25M354.0 129.6h1.25M355.2 121.0h1.25M343.1 117.5h1.25M354.0 116.9h1.25M352.7 116.5h1.25M344.1 117.6h1.25M342.8 122.0h1.25M344.7 115.8h1.25M352.2 115.6h1.25M342.1 128.9h1.25M343.9 117.5h1.25M347.4 129.0h1.25M351.4 128.1h1.25M349.5 115.4h1.25M347.1 127.8h1.25M354.8 131.7h1.25M359.0 117.4h1.25M343.7 116.3h1.25M344.9 125.5h1.25M352.6 112.5h1.25M353.1 112.7h1.25M354.1 112.3h1.25M349.6 131.2h1.25M341.8 124.8h1.25M340.2 125.5h1.25M352.6 115.0h1.25M355.4 133.4h1.25M357.2 123.2h1.25M344.8 117.5h1.25M343.0 115.3h1.25M343.3 114.3h1.25M353.2 132.4h1.25M348.0 114.8h1.25M343.0 124.7h1.25M345.9 116.3h1.25M360.9 124.0h1.25M344.3 122.7h1.25M354.6 117.2h1.25M359.0 123.7h1.25M354.8 123.1h1.25M343.3 124.2h1.25M345.0 114.9h1.25M353.1 127.0h1.25M356.4 123.9h1.25M344.4 130.3h1.25M357.0 126.1h1.25M349.1 128.6h1.25M345.6 117.4h1.25M354.1 119.4h1.25M359.3 124.2h1.25M353.2 114.6h1.25M342.6 127.2h1.25M349.8 114.3h1.25M355.3 119.1h1.25M349.4 115.0h1.25M352.4 116.0h1.25M344.8 116.8h1.25M353.4 116.5h1.25M343.2 120.2h1.25M340.4 119.4h1.25M348.1 132.8h1.25M358.7 119.7h1.25M340.5 125.7h1.25M344.7 117.1h1.25M344.0 117.8h1.25M352.3 115.5h1.25M346.7 116.4h1.25M354.5 126.0h1.25M355.0 116.1h1.25M349.7 128.4h1.25M358.8 120.3h1.25M343.5 119.8h1.25M342.3 114.5h1.25M353.2 130.5h1.25M344.4 121.2h1.25M343.0 127.0h1.25M343.4 130.8h1.25M348.9 130.3h1.25M356.5 113.7h1.25M351.8 112.0h1.25M352.5 115.6h1.25M345.6 127.5h1.25M343.5 122.6h1.25M348.1 129.0h1.25M353.2 127.8h1.25M344.7 120.0h1.25M345.7 110.4h1.25M350.6 130.0h1.25M342.3 120.3h1.25M341.0 118.8h1.25M347.7 116.0h1.25M351.5 114.4h1.25M354.4 117.7h1.25M357.5 126.7h1.25M356.1 123.8h1.25M339.6 122.2h1.25M360.9 124.4h1.25M344.0 121.9h1.25M348.4 128.0h1.25M348.3 115.1h1.25M351.4 110.9h1.25M344.2 127.9h1.25M362.9 120.8h1.25M351.3 131.3h1.25M359.3 124.4h1.25M356.3 125.2h1.25M351.2 130.2h1.25M355.5 117.4h1.25M345.3 111.4h1.25M344.7 129.4h1.25M344.3 115.4h1.25M345.6 115.5h1.25M351.9 115.5h1.25M346.1 115.7h1.25M343.2 124.4h1.25M356.2 118.0h1.25M352.5 131.5h1.25M348.0 109.4h1.25M345.0 117.7h1.25M350.9 115.1h1.25M354.2 117.2h1.25M355.1 130.0h1.25M347.6 128.0h1.25M355.7 117.7h1.25M339.0 128.6h1.25M352.6 117.4h1.25M356.4 118.8h1.25M344.3 116.5h1.25M357.0 133.3h1.25M354.4 126.0h1.25M354.4 116.4h1.25M357.2 117.6h1.25M354.7 123.7h1.25M351.1 116.3h1.25M355.3 120.8h1.25M348.1 129.7h1.25M340.1 113.9h1.25M343.3 130.3h1.25M347.1 127.5h1.25M353.5 114.6h1.25M342.0 127.2h1.25M360.4 114.4h1.25M342.9 116.4h1.25M350.2 111.5h1.25M347.4 114.9h1.25M346.1 115.7h1.25M359.1 120.9h1.25M352.0 127.6h1.25M355.8 121.0h1.25M343.8 118.6h1.25M350.4 130.0h1.25M343.6 115.4h1.25M342.1 130.7h1.25M349.2 133.9h1.25M343.8 123.4h1.25M351.3 111.9h1.25M354.8 115.3h1.25M345.4 114.6h1.25M356.0 116.3h1.25M352.6 128.9h1.25M348.0 132.1h1.25M342.4 113.6h1.25M344.5 120.1h1.25M354.2 118.1h1.25M340.3 122.2h1.25M346.0 128.1h1.25M356.0 122.2h1.25M353.1 116.7h1.25M350.9 116.1h1.25M346.2 114.0h1.25M343.7 128.7h1.25M344.3 122.7h1.25M343.7 128.4h1.25M356.3 112.7h1.25M355.0 122.2h1.25M344.1 118.6h1.25M353.2 127.6h1.25M346.9 135.3h1.25M348.4 128.5h1.25M356.4 123.4h1.25M358.1 127.5h1.25M345.9 117.2h1.25M349.1 132.9h1.25M352.3 128.7h1.25M343.6 133.8h1.25M355.6 123.5h1.25M343.0 119.5h1.25M346.0 126.6h1.25M344.3 118.6h1.25M348.6 115.0h1.25M353.7 116.1h1.25M345.5 129.8h1.25M344.2 115.1h1.25M351.5 128.9h1.25M346.6 114.0h1.25M355.0 125.2h1.25M342.1 125.5h1.25M354.1 117.0h1.25M345.3 127.5h1.25M358.1 116.9h1.25M346.4 128.3h1.25M353.1 116.8h1.25M347.9 129.2h1.25M349.5 112.8h1.25M346.5 117.1h1.25M356.1 119.4h1.25M354.6 117.7h1.25M357.3 126.6h1.25M356.2 124.0h1.25M341.3 112.0h1.25M345.1 126.6h1.25M346.4 117.3h1.25M349.7 115.1h1.25M347.6 116.5h1.25M342.2 121.2h1.25M357.0 112.4h1.25M342.2 126.4h1.25M354.5 110.0h1.25M360.5 121.6h1.25M349.5 116.3h1.25M352.1 130.6h1.25M345.2 117.7h1.25M343.1 121.6h1.25M351.8 130.0h1.25M344.5 123.3h1.25M353.5 129.0h1.25M347.7 112.6h1.25M355.6 119.6h1.25M352.1 115.6h1.25M354.3 116.9h1.25M355.0 125.6h1.25M343.9 109.8h1.25M356.3 124.4h1.25M349.6 128.2h1.25M343.9 125.3h1.25M354.5 120.3h1.25M346.4 116.8h1.25M345.0 117.2h1.25M351.7 128.0h1.25M341.7 126.2h1.25M353.2 112.6h1.25M356.7 121.5h1.25M342.3 127.7h1.25M357.7 124.8h1.25M353.4 116.7h1.25M344.7 127.4h1.25M357.6 126.9h1.25M347.3 115.9h1.25M354.3 126.7h1.25M348.9 115.9h1.25M346.1 131.6h1.25M353.8 114.9h1.25M359.7 129.4h1.25M357.1 124.6h1.25M347.3 130.8h1.25M352.0 109.4h1.25M345.8 126.9h1.25M347.1 128.9h1.25M352.7 127.5h1.25M357.7 134.9h1.25M359.4 118.2h1.25M356.6 115.1h1.25M346.8 115.5h1.25M343.4 124.4h1.25M357.4 121.5h1.25M352.1 115.4h1.25M353.4 126.5h1.25M342.7 120.0h1.25M351.9 128.5h1.25M347.5 116.8h1.25M354.7 123.2h1.25M351.7 127.8h1.25M350.7 111.7h1.25M344.0 121.5h1.25M347.4 128.4h1.25M346.9 130.4h1.25M350.1 115.4h1.25M357.0 127.3h1.25M351.5 130.7h1.25M348.9 114.9h1.25M343.4 122.5h1.25M348.8 132.3h1.25M359.5 124.4h1.25M344.3 129.2h1.25M350.9 113.3h1.25M354.8 123.2h1.25M343.1 122.9h1.25M350.1 116.1h1.25M350.4 131.8h1.25M356.7 119.5h1.25M351.7 116.2h1.25M351.8 114.4h1.25M353.2 115.9h1.25M356.2 119.7h1.25M354.9 120.9h1.25M349.6 128.9h1.25M345.5 112.5h1.25M355.4 130.2h1.25M355.8 123.8h1.25M355.7 130.9h1.25M350.9 130.0h1.25M347.0 130.9h1.25M355.7 128.7h1.25M341.5 118.6h1.25M356.2 124.8h1.25M341.6 129.2h1.25M354.0 128.1h1.25M353.9 118.4h1.25M343.4 128.4h1.25M351.4 128.7h1.25M343.4 116.0h1.25M344.8 119.0h1.25M359.9 120.2h1.25M346.4 117.2h1.25M346.0 127.6h1.25M352.5 116.7h1.25M342.8 113.9h1.25M341.7 128.0h1.25M352.9 128.4h1.25M344.1 127.7h1.25M350.7 129.9h1.25M345.9 136.4h1.25M350.3 115.8h1.25M346.7 128.6h1.25M353.6 129.8h1.25M343.4 121.3h1.25M343.0 124.8h1.25M347.1 128.6h1.25M355.0 126.6h1.25M356.6 120.6h1.25M354.6 119.8h1.25M351.2 115.2h1.25M346.8 113.4h1.25M350.8 113.0h1.25M351.9 128.2h1.25M348.3 115.4h1.25M359.3 125.2h1.25M354.3 117.4h1.25M355.2 129.6h1.25M349.5 130.0h1.25M344.1 124.6h1.25M358.4 117.1h1.25M356.9 113.9h1.25M354.4 125.2h1.25M343.0 116.8h1.25M345.0 116.4h1.25M352.6 114.3h1.25M355.1 134.2h1.25M352.9 115.8h1.25M355.0 118.6h1.25M349.8 128.5h1.25M357.3 115.2h1.25M346.2 117.0h1.25M349.2 115.7h1.25M353.0 117.9h1.25M356.5 120.4h1.25M356.5 106.1h1.25M350.1 129.7h1.25M355.8 122.6h1.25M350.1 134.5h1.25M352.8 112.6h1.25M350.8 131.8h1.25M354.7 116.4h1.25M356.1 125.4h1.25M349.7 112.1h1.25M349.5 133.1h1.25M341.9 120.6h1.25M348.4 108.1h1.25M345.6 126.5h1.25M345.1 117.6h1.25M345.0 127.2h1.25M342.7 128.0h1.25M342.1 122.3h1.25M343.7 120.5h1.25M354.4 125.6h1.25M356.3 122.7h1.25M349.7 116.2h1.25M342.8 121.2h1.25M353.9 125.4h1.25M346.0 117.4h1.25M351.8 133.2h1.25M342.2 124.2h1.25M345.5 117.7h1.25M344.9 125.1h1.25M350.4 130.8h1.25M356.2 117.3h1.25M345.9 128.1h1.25M352.1 128.0h1.25M344.7 126.4h1.25M340.9 123.2h1.25M344.1 122.2h1.25M345.9 126.8h1.25M344.7 128.0h1.25M347.6 130.1h1.25M353.2 114.5h1.25M350.6 128.3h1.25M356.5 127.1h1.25M350.9 130.9h1.25M356.1 132.5h1.25M351.5 128.4h1.25M361.2 122.2h1.25M353.7 126.4h1.25M358.9 116.2h1.25M341.0 115.2h1.25M345.4 114.4h1.25M351.4 129.7h1.25M345.6 133.6h1.25M352.9 110.9h1.25M357.5 122.8h1.25M346.4 116.7h1.25M343.6 125.9h1.25M340.3 115.3h1.25M346.0 128.2h1.25M358.2 122.3h1.25M352.3 115.1h1.25M354.7 122.4h1.25M351.8 133.5h1.25M355.9 119.8h1.25M344.7 127.9h1.25M346.8 127.8h1.25M355.4 126.6h1.25M352.0 115.5h1.25M343.7 123.7h1.25M352.5 115.9h1.25M347.5 116.6h1.25M354.4 129.6h1.25M352.4 133.8h1.25M351.1 114.4h1.25M352.4 127.4h1.25M338.4 122.9h1.25M345.8 115.5h1.25M350.5 116.0h1.25M355.6 123.7h1.25M356.2 120.0h1.25M359.7 122.9h1.25M352.0 115.0h1.25M344.3 123.3h1.25M344.1 113.2h1.25M353.4 117.3h1.25M346.5 113.4h1.25M354.7 118.7h1.25M354.6 124.1h1.25M349.7 116.2h1.25M344.4 124.4h1.25M358.7 130.7h1.25M357.4 132.4h1.25M352.1 131.3h1.25M347.2 129.6h1.25M354.2 126.0h1.25M344.7 119.5h1.25M347.7 116.6h1.25M353.6 127.4h1.25M343.7 120.3h1.25M346.8 113.5h1.25M347.6 113.9h1.25M359.1 123.0h1.25M345.8 113.8h1.25M346.8 116.7h1.25M344.6 126.9h1.25M358.3 124.5h1.25M345.4 126.0h1.25M351.9 113.7h1.25M349.7 130.3h1.25M341.9 116.9h1.25M346.4 127.3h1.25M354.6 117.5h1.25M352.1 127.6h1.25M356.2 126.5h1.25M343.6 124.6h1.25M347.0 117.1h1.25M354.9 113.0h1.25M354.8 121.2h1.25M355.4 123.9h1.25M350.7 116.5h1.25M343.3 122.9h1.25M356.0 125.8h1.25M356.4 128.4h1.25M353.4 127.2h1.25M350.5 110.4h1.25M345.0 128.9h1.25M349.2 131.5h1.25M344.4 122.3h1.25M346.7 131.2h1.25M349.2 131.8h1.25M344.7 111.7h1.25M357.5 123.0h1.25M358.3 134.6h1.25M349.0 113.1h1.25M352.4 115.5h1.25M351.3 127.7h1.25M348.5 112.0h1.25M345.6 117.3h1.25M351.0 114.0h1.25M344.6 117.9h1.25M347.3 131.6h1.25M353.3 112.8h1.25M338.5 119.8h1.25M346.7 129.6h1.25M347.4 113.1h1.25M349.4 113.7h1.25M352.6 114.6h1.25M343.1 125.4h1.25M354.0 129.4h1.25M351.5 130.9h1.25M342.9 129.3h1.25M344.5 117.7h1.25M355.9 115.0h1.25M343.3 123.3h1.25M345.4 126.5h1.25M338.3 114.3h1.25M350.3 114.0h1.25M355.8 110.9h1.25M341.4 117.6h1.25M355.5 118.8h1.25M340.9 123.6h1.25M346.0 129.2h1.25M355.6 123.7h1.25M340.8 114.0h1.25M343.6 124.1h1.25M350.3 114.8h1.25M357.9 115.5h1.25M353.2 126.4h1.25M344.6 132.5h1.25M347.7 115.0h1.25M344.6 120.2h1.25M348.5 116.1h1.25M352.5 127.5h1.25M344.2 116.5h1.25M346.1 132.6h1.25M345.0 125.8h1.25M346.1 129.3h1.25M354.6 126.5h1.25M343.4 130.1h1.25M344.6 132.3h1.25M343.3 121.1h1.25M353.5 129.0h1.25M352.4 129.4h1.25M353.3 127.2h1.25M352.2 115.3h1.25M345.6 129.9h1.25M348.4 128.7h1.25M347.2 113.6h1.25M352.2 129.3h1.25M353.1 114.0h1.25M344.0 123.6h1.25M346.8 129.6h1.25M351.5 127.9h1.25M355.1 128.3h1.25M351.8 112.4h1.25M357.2 117.8h1.25M356.2 121.6h1.25M340.0 130.1h1.25M344.5 122.2h1.25M342.3 123.1h1.25M356.8 117.1h1.25M351.5 131.0h1.25M346.5 128.0h1.25M355.0 119.9h1.25M357.1 120.2h1.25M352.6 129.8h1.25M343.4 121.2h1.25M352.2 115.4h1.25M355.4 124.7h1.25M341.6 117.0h1.25M354.1 126.3h1.25M355.5 125.9h1.25M345.9 128.4h1.25M353.8 128.5h1.25M355.7 119.7h1.25M342.2 132.3h1.25M343.6 126.9h1.25M350.4 114.5h1.25M358.1 125.6h1.25M352.6 127.6h1.25M339.7 115.8h1.25M344.7 117.0h1.25M341.1 125.7h1.25M348.0 130.9h1.25M343.6 117.4h1.25M351.8 110.1h1.25M350.1 116.1h1.25M355.0 121.0h1.25M349.7 129.3h1.25M342.2 115.7h1.25M345.5 117.9h1.25M355.8 123.0h1.25M353.4 132.1h1.25M343.2 122.0h1.25M355.2 119.3h1.25M357.2 123.7h1.25M345.4 128.8h1.25M350.3 128.2h1.25M340.7 126.1h1.25M343.3 113.7h1.25M338.0 126.8h1.25M353.6 132.7h1.25M356.0 126.4h1.25M357.2 124.1h1.25M344.2 121.1h1.25M354.7 121.4h1.25M341.4 117.5h1.25M346.3 117.6h1.25M344.5 129.0h1.25M346.8 117.3h1.25M344.2 124.7h1.25M356.9 118.3h1.25M351.8 128.2h1.25M351.2 128.4h1.25M339.8 120.9h1.25M343.6 126.8h1.25M358.1 125.6h1.25M354.1 119.2h1.25M349.7 115.8h1.25M341.1 124.2h1.25M345.5 130.2h1.25M355.2 125.3h1.25M358.1 116.6h1.25M354.2 127.4h1.25M354.0 126.1h1.25M348.3 115.2h1.25M347.7 111.0h1.25M345.7 130.3h1.25M353.9 116.0h1.25M348.7 128.2h1.25M339.7 122.3h1.25M356.4 120.8h1.25M348.0 132.4h1.25M351.1 112.6h1.25M342.3 122.9h1.25M346.2 116.0h1.25M352.1 114.8h1.25M343.0 125.1h1.25M355.9 130.6h1.25M343.8 125.6h1.25M356.6 125.6h1.25M354.1 118.9h1.25M346.0 115.0h1.25M344.5 123.0h1.25M343.8 111.2h1.25M342.1 119.4h1.25M355.7 120.2h1.25M349.7 116.2h1.25M352.4 129.9h1.25M343.6 129.6h1.25M344.2 117.8h1.25M356.0 120.9h1.25M343.7 124.0h1.25M346.9 117.2h1.25M343.9 119.8h1.25M354.7 115.0h1.25M343.0 117.2h1.25M350.8 128.0h1.25M344.4 114.6h1.25M355.9 120.4h1.25M345.1 125.8h1.25M343.7 116.3h1.25M344.2 121.3h1.25M342.8 122.3h1.25M354.8 117.4h1.25M355.2 129.6h1.25M344.6 129.9h1.25M347.2 116.7h1.25M340.7 132.9h1.25M352.0 111.3h1.25M353.6 130.3h1.25M345.8 116.2h1.25M355.6 115.1h1.25M355.5 125.3h1.25M355.1 115.0h1.25M355.1 123.3h1.25M343.1 117.5h1.25M347.0 114.7h1.25M352.3 112.9h1.25M352.0 116.2h1.25M354.5 125.0h1.25M356.3 126.7h1.25M347.3 114.1h1.25M342.2 120.2h1.25M355.1 121.6h1.25M349.1 131.3h1.25M351.1 131.5h1.25M342.0 127.9h1.25M355.9 128.2h1.25M343.3 123.0h1.25M347.5 116.4h1.25M341.8 114.5h1.25M357.3 122.2h1.25M355.5 122.4h1.25M352.5 117.0h1.25M352.7 112.6h1.25M357.6 128.0h1.25M360.7 125.1h1.25M354.7 116.8h1.25M352.6 116.8h1.25M345.1 125.1h1.25M351.3 111.3h1.25M350.5 108.8h1.25M345.4 127.1h1.25M348.5 128.2h1.25M342.3 128.2h1.25M344.2 119.5h1.25M340.9 123.0h1.25M346.9 127.3h1.25M355.0 124.3h1.25M342.9 122.4h1.25M338.7 121.0h1.25M342.4 118.6h1.25M340.6 125.0h1.25M339.8 127.8h1.25M341.3 117.2h1.25M339.2 119.6h1.25M337.7 125.2h1.25M337.2 123.6h1.25M339.2 120.0h1.25M340.3 124.7h1.25M338.2 127.8h1.25M342.0 126.1h1.25M344.9 122.5h1.25M340.2 122.9h1.25M340.3 115.4h1.25M343.4 128.8h1.25M338.7 117.0h1.25M341.8 130.0h1.25M340.6 120.7h1.25M340.8 127.9h1.25M341.1 118.4h1.25M340.6 123.0h1.25M340.7 121.5h1.25M339.9 126.4h1.25M338.1 122.5h1.25M342.8 113.1h1.25M342.4 123.5h1.25M341.3 118.4h1.25M339.0 127.3h1.25M341.1 126.3h1.25M341.3 121.9h1.25M339.6 121.8h1.25M342.2 126.2h1.25M341.9 120.5h1.25M338.3 124.3h1.25M340.0 118.8h1.25M340.0 122.3h1.25M341.8 116.7h1.25M338.5 123.6h1.25M337.2 115.8h1.25M344.5 119.9h1.25M341.3 121.4h1.25M341.4 124.0h1.25M342.2 122.4h1.25M341.9 127.4h1.25M340.0 126.7h1.25M341.2 122.8h1.25M344.5 125.5h1.25M340.8 121.2h1.25M336.9 122.9h1.25M340.8 122.0h1.25M344.2 120.6h1.25M340.3 119.0h1.25M341.5 124.1h1.25M342.2 122.6h1.25M338.2 121.2h1.25M340.3 117.7h1.25M337.5 127.3h1.25M339.6 121.3h1.25M340.1 119.5h1.25M337.9 128.2h1.25M340.0 118.8h1.25M338.7 119.7h1.25M339.2 120.9h1.25M336.9 128.4h1.25M340.7 120.3h1.25M338.3 118.7h1.25M341.0 119.8h1.25M340.4 120.8h1.25M338.2 120.3h1.25M341.9 126.5h1.25M338.6 123.7h1.25M343.2 121.3h1.25M343.6 121.0h1.25M341.3 118.8h1.25M338.8 122.4h1.25M340.2 124.7h1.25M343.2 126.3h1.25M339.7 117.7h1.25M342.3 126.9h1.25M340.8 117.1h1.25M342.4 116.2h1.25M344.7 118.4h1.25M341.2 123.7h1.25M341.2 119.5h1.25M340.1 120.2h1.25M340.3 124.0h1.25M336.9 116.1h1.25M340.2 123.1h1.25M340.0 122.7h1.25M337.5 126.4h1.25M340.2 121.2h1.25M336.9 118.9h1.25M342.0 119.9h1.25M341.7 121.7h1.25M341.0 118.7h1.25M341.6 119.5h1.25M340.6 120.6h1.25M338.0 115.5h1.25M339.8 120.9h1.25M337.5 120.8h1.25M340.6 123.9h1.25M338.5 121.9h1.25M340.5 118.7h1.25M340.3 119.0h1.25M341.7 127.7h1.25M340.2 125.9h1.25M343.9 123.4h1.25M339.4 123.3h1.25M341.4 127.2h1.25M337.4 127.5h1.25M341.1 126.3h1.25M343.2 122.7h1.25M340.5 116.9h1.25M336.4 122.0h1.25M338.1 118.8h1.25M342.7 123.7h1.25M338.4 117.5h1.25M344.3 123.2h1.25M340.4 123.9h1.25M338.6 124.9h1.25M340.3 123.6h1.25M341.0 119.3h1.25M342.2 115.4h1.25M341.7 126.6h1.25M340.0 124.0h1.25M342.2 122.4h1.25M337.2 123.4h1.25M339.7 124.9h1.25M338.3 121.1h1.25M339.6 121.7h1.25M338.6 122.5h1.25M338.3 127.9h1.25M342.3 114.9h1.25M338.7 122.6h1.25M338.5 117.2h1.25M340.3 117.1h1.25M337.6 121.0h1.25M343.9 124.9h1.25M340.1 115.6h1.25M338.6 119.6h1.25M344.0 123.1h1.25M342.7 127.8h1.25M338.3 126.6h1.25M338.5 126.0h1.25M339.3 119.5h1.25M341.1 124.8h1.25M337.1 119.4h1.25M343.7 122.0h1.25M341.9 119.1h1.25M340.5 123.5h1.25M342.5 129.3h1.25M343.5 125.1h1.25M341.0 120.5h1.25M344.7 120.9h1.25M340.8 129.5h1.25M339.2 118.4h1.25M336.4 122.4h1.25M339.7 123.1h1.25M340.0 127.0h1.25M345.5 122.8h1.25M336.6 123.6h1.25M334.7 120.9h1.25M341.0 126.9h1.25M341.0 121.0h1.25M338.7 122.5h1.25M336.7 116.5h1.25M341.0 119.7h1.25M340.6 118.9h1.25M343.3 120.3h1.25M338.7 121.1h1.25M342.7 117.2h1.25M336.4 110.3h1.25M339.9 125.7h1.25M341.6 122.8h1.25M342.0 126.0h1.25M343.0 120.2h1.25M340.7 118.0h1.25M342.9 118.2h1.25M339.3 123.0h1.25M344.5 118.9h1.25M340.4 122.1h1.25M338.6 122.9h1.25M337.6 118.6h1.25M338.5 119.9h1.25M342.9 118.0h1.25M336.5 118.9h1.25M337.5 122.3h1.25M338.8 127.5h1.25M343.0 119.9h1.25M341.3 113.4h1.25M343.2 122.0h1.25M340.8 120.6h1.25M337.8 123.2h1.25M338.2 116.0h1.25M338.8 121.1h1.25M341.7 120.4h1.25M340.6 122.7h1.25M341.6 123.5h1.25M343.3 123.7h1.25M342.7 118.7h1.25M342.2 121.2h1.25M340.3 123.6h1.25M342.1 119.7h1.25M335.9 123.6h1.25M343.5 119.2h1.25M339.3 123.0h1.25M344.1 123.1h1.25M344.5 119.7h1.25M340.2 124.0h1.25M339.1 128.7h1.25M338.9 124.1h1.25M339.7 121.8h1.25M339.1 123.1h1.25M337.3 123.8h1.25M341.0 121.5h1.25M343.4 122.4h1.25M343.3 117.4h1.25M339.0 122.2h1.25M339.2 123.7h1.25M341.2 114.2h1.25M344.2 117.8h1.25M344.7 123.0h1.25M338.3 118.6h1.25M343.1 120.9h1.25M338.0 121.1h1.25M344.4 122.9h1.25M341.8 121.4h1.25M338.6 125.7h1.25M344.6 124.4h1.25M339.0 119.3h1.25M341.5 127.0h1.25M338.2 119.4h1.25M343.2 119.1h1.25M345.5 120.2h1.25M340.2 119.7h1.25M340.1 123.1h1.25M341.1 118.3h1.25M342.6 121.4h1.25M339.1 120.8h1.25M338.5 118.2h1.25M337.3 121.0h1.25M340.2 122.8h1.25M339.5 121.0h1.25M339.4 124.2h1.25M341.6 122.2h1.25M341.6 118.2h1.25M337.3 130.4h1.25M343.4 123.7h1.25M341.8 124.1h1.25M342.9 123.0h1.25M337.7 123.5h1.25M342.0 127.3h1.25M340.1 127.4h1.25M341.6 127.5h1.25M342.1 126.0h1.25M338.1 122.9h1.25M343.8 124.6h1.25M339.4 120.3h1.25M341.3 124.4h1.25M338.8 124.4h1.25M344.9 123.8h1.25M340.9 118.4h1.25M336.7 126.7h1.25M335.6 121.8h1.25M338.0 127.2h1.25M340.2 124.7h1.25M339.9 128.2h1.25M337.9 119.5h1.25M336.9 118.9h1.25M340.1 122.4h1.25M342.5 121.4h1.25M342.7 122.0h1.25M343.3 127.0h1.25M341.7 120.5h1.25M340.1 122.6h1.25M338.5 122.5h1.25M342.0 125.5h1.25M339.4 114.0h1.25M342.3 119.3h1.25M342.3 124.9h1.25M339.9 127.9h1.25M341.3 123.0h1.25M340.5 123.9h1.25M340.4 114.1h1.25M337.2 116.5h1.25M341.1 120.5h1.25M346.6 127.5h1.25M344.7 116.6h1.25M341.0 117.7h1.25M340.3 120.1h1.25M340.5 116.7h1.25M341.7 123.9h1.25M342.3 122.2h1.25M340.2 120.4h1.25M340.8 114.4h1.25M339.8 120.1h1.25M340.2 117.3h1.25M337.1 119.1h1.25M340.4 119.4h1.25M339.5 125.1h1.25M340.8 121.5h1.25M339.9 123.8h1.25M339.9 127.1h1.25M337.9 121.3h1.25M339.7 116.3h1.25M339.5 115.3h1.25M339.9 126.8h1.25M339.8 125.7h1.25M343.8 126.5h1.25M338.4 116.4h1.25M337.3 119.2h1.25M338.6 117.6h1.25M342.5 128.9h1.25M336.1 124.0h1.25M344.3 122.8h1.25M344.7 116.6h1.25M339.8 121.6h1.25M340.1 123.9h1.25M341.1 121.8h1.25M338.6 120.1h1.25M340.1 118.7h1.25M337.9 125.8h1.25M337.2 119.4h1.25M339.7 123.8h1.25M341.3 120.6h1.25M338.0 124.0h1.25M340.5 126.8h1.25M341.3 120.8h1.25M332.5 129.9h1.25M327.7 127.4h1.25M333.0 122.7h1.25M333.9 127.6h1.25M329.9 125.5h1.25M330.7 129.8h1.25M334.5 129.5h1.25M327.2 129.6h1.25M330.5 132.9h1.25M335.3 122.3h1.25M333.0 126.9h1.25M331.1 123.4h1.25M336.1 132.0h1.25M338.2 123.5h1.25M335.1 128.2h1.25M328.7 131.5h1.25M330.7 126.8h1.25M325.7 132.2h1.25M331.3 128.6h1.25M333.0 124.5h1.25M325.9 133.3h1.25M333.5 134.6h1.25M334.3 136.1h1.25M328.4 125.8h1.25M334.3 120.6h1.25M336.6 125.8h1.25M325.5 125.7h1.25M332.0 126.5h1.25M331.0 128.9h1.25M334.8 129.4h1.25M331.6 131.0h1.25M335.2 131.5h1.25M333.2 123.7h1.25M327.1 129.5h1.25M329.6 125.2h1.25M332.6 127.8h1.25M336.3 131.0h1.25M331.6 129.1h1.25M331.5 121.5h1.25M332.6 125.9h1.25M323.5 122.7h1.25M335.7 127.4h1.25M330.8 131.6h1.25M330.4 130.0h1.25M330.9 128.3h1.25M330.3 123.5h1.25M335.4 127.2h1.25M328.3 127.1h1.25M327.9 133.5h1.25M330.8 129.8h1.25M336.3 118.3h1.25M326.7 132.2h1.25M332.5 132.9h1.25M330.3 126.8h1.25M331.6 132.8h1.25M332.4 131.9h1.25M331.4 127.1h1.25M330.6 132.7h1.25M339.6 123.4h1.25M334.0 136.0h1.25M327.7 130.0h1.25M336.3 129.0h1.25M330.2 130.4h1.25M335.5 119.2h1.25M331.8 121.0h1.25M326.8 113.9h1.25M338.0 119.3h1.25M331.7 128.4h1.25M326.6 134.7h1.25M335.2 137.8h1.25M327.0 129.5h1.25M339.4 129.5h1.25M332.7 131.9h1.25M329.2 120.9h1.25M334.0 134.3h1.25M335.9 133.7h1.25M329.0 129.6h1.25M332.4 131.7h1.25M328.2 132.1h1.25M328.5 127.4h1.25M329.2 128.4h1.25M330.7 128.9h1.25M331.4 129.0h1.25M334.4 132.4h1.25M333.2 122.2h1.25M335.5 128.6h1.25M331.0 130.1h1.25M335.8 121.9h1.25M329.9 128.4h1.25M328.0 128.1h1.25M328.2 135.7h1.25M333.3 129.7h1.25M331.1 124.5h1.25M337.9 130.0h1.25M333.3 122.8h1.25M331.0 134.7h1.25M334.0 126.7h1.25M327.5 127.4h1.25M329.3 123.9h1.25M335.4 131.1h1.25M335.8 133.5h1.25M332.8 132.5h1.25M327.4 135.6h1.25M329.7 129.7h1.25M331.7 123.8h1.25M332.7 130.5h1.25M336.3 135.7h1.25M330.6 128.7h1.25M328.4 122.9h1.25M326.9 138.6h1.25M330.6 135.5h1.25M326.5 130.9h1.25M336.3 131.1h1.25M335.0 129.6h1.25M331.9 128.6h1.25M330.6 122.6h1.25M323.4 116.3h1.25M334.1 128.6h1.25M335.9 129.6h1.25M332.0 126.9h1.25M325.7 129.9h1.25M329.5 126.6h1.25M334.0 125.0h1.25M333.2 133.6h1.25M325.7 133.6h1.25M330.3 125.1h1.25M331.0 130.0h1.25M330.0 122.1h1.25M328.1 127.4h1.25M334.4 125.6h1.25M325.8 128.3h1.25M333.2 136.1h1.25M330.3 130.1h1.25M329.2 133.5h1.25M333.8 134.0h1.25M333.7 124.9h1.25M332.2 128.8h1.25M333.0 130.8h1.25M325.8 131.7h1.25M334.9 125.2h1.25M334.6 131.1h1.25M331.4 128.5h1.25M333.1 131.9h1.25M336.1 134.4h1.25M334.6 132.0h1.25M328.4 135.6h1.25M332.2 133.6h1.25M333.2 131.3h1.25M331.6 127.8h1.25M331.9 132.6h1.25M331.4 130.1h1.25M328.5 123.4h1.25M329.2 129.9h1.25M328.8 128.8h1.25M331.4 130.1h1.25M325.6 128.7h1.25M331.9 128.6h1.25M331.6 128.9h1.25M329.9 130.0h1.25M322.6 129.0h1.25M335.5 127.7h1.25M331.8 129.9h1.25M326.9 133.7h1.25M332.7 124.4h1.25M333.7 130.1h1.25M330.8 127.8h1.25M331.4 126.6h1.25M330.9 129.5h1.25M333.3 132.5h1.25M328.9 131.2h1.25M334.8 127.1h1.25M327.3 135.5h1.25M322.6 132.7h1.25M330.8 126.6h1.25M321.5 125.7h1.25M331.0 123.5h1.25M329.2 126.6h1.25M331.6 137.7h1.25M325.2 123.4h1.25M333.0 130.4h1.25M330.0 127.0h1.25M335.3 125.4h1.25M333.4 130.7h1.25M331.4 122.1h1.25M332.4 123.0h1.25M328.1 134.5h1.25M333.3 126.5h1.25M332.6 131.3h1.25M335.8 133.8h1.25M329.7 122.7h1.25M336.3 131.9h1.25M330.8 133.4h1.25M333.1 129.2h1.25M333.5 128.1h1.25M327.3 122.4h1.25M331.9 131.0h1.25M332.3 118.5h1.25M332.3 124.9h1.25M330.6 132.1h1.25M337.5 123.9h1.25M333.7 132.8h1.25M335.5 121.4h1.25M330.5 127.1h1.25M335.1 128.3h1.25M332.5 135.6h1.25M330.7 126.5h1.25M329.0 131.6h1.25M331.6 124.2h1.25M336.9 128.4h1.25M332.2 131.0h1.25M333.8 128.1h1.25M332.3 130.3h1.25M332.6 128.3h1.25M333.0 127.8h1.25M331.5 134.6h1.25M331.6 133.5h1.25M330.7 127.2h1.25M330.6 128.5h1.25M331.9 133.0h1.25M328.8 126.6h1.25M330.6 137.1h1.25M332.6 125.6h1.25M331.6 127.2h1.25M326.3 128.1h1.25M329.6 137.2h1.25M331.0 118.9h1.25M331.7 129.8h1.25M333.6 129.1h1.25M333.4 131.2h1.25M334.2 128.8h1.25M332.2 126.5h1.25M331.7 120.2h1.25M337.0 127.6h1.25M333.6 135.4h1.25M331.8 130.4h1.25M334.4 129.1h1.25M333.2 124.4h1.25M334.2 124.9h1.25M329.2 137.7h1.25M335.4 133.5h1.25M331.6 129.3h1.25M330.7 130.7h1.25M334.2 127.0h1.25M330.6 128.8h1.25M328.1 130.6h1.25M327.9 122.1h1.25M326.0 132.8h1.25M329.2 129.8h1.25M336.2 134.0h1.25M336.6 132.9h1.25M331.4 136.9h1.25M329.9 127.5h1.25M338.6 122.6h1.25M333.4 135.4h1.25M333.0 128.4h1.25M337.9 130.1h1.25M338.1 129.1h1.25M334.3 125.8h1.25M332.6 131.8h1.25M330.8 119.4h1.25M331.2 124.6h1.25M334.1 130.7h1.25M331.4 132.9h1.25M328.9 127.4h1.25M336.5 129.4h1.25M330.7 130.9h1.25M329.8 133.8h1.25M332.7 133.4h1.25M332.6 132.7h1.25M329.2 131.9h1.25M333.1 137.1h1.25M336.2 130.7h1.25M326.2 119.8h1.25M340.1 130.3h1.25M333.6 129.2h1.25M328.3 134.3h1.25M332.5 131.4h1.25M325.6 129.2h1.25M336.1 126.2h1.25M337.3 130.9h1.25M332.2 129.5h1.25M333.2 128.9h1.25M329.3 132.3h1.25M333.4 130.8h1.25M329.4 133.3h1.25M339.5 128.2h1.25M333.3 131.1h1.25M331.8 122.2h1.25M332.4 133.3h1.25M327.6 133.6h1.25M334.6 131.8h1.25M333.0 134.1h1.25M334.7 134.9h1.25M330.1 132.9h1.25M338.0 126.6h1.25M325.1 134.9h1.25M321.2 135.3h1.25M325.0 127.9h1.25M346.4 123.4h1.25M348.2 129.4h1.25M347.6 127.7h1.25M354.2 124.8h1.25M350.7 124.3h1.25M345.5 131.2h1.25M349.5 123.7h1.25M349.0 128.1h1.25M349.0 127.3h1.25M350.3 135.0h1.25M347.3 135.0h1.25M352.5 120.1h1.25M348.2 128.6h1.25M347.1 119.8h1.25M349.5 129.4h1.25M352.6 130.3h1.25M349.9 130.5h1.25M353.2 124.9h1.25M348.4 131.9h1.25M347.6 127.6h1.25M353.3 127.2h1.25M349.6 127.6h1.25M345.7 129.1h1.25M348.8 130.4h1.25M348.8 131.6h1.25M344.8 129.9h1.25M346.8 125.7h1.25M353.9 134.6h1.25M347.3 126.4h1.25M346.5 123.2h1.25M345.0 128.9h1.25M349.5 132.6h1.25M348.1 127.2h1.25M350.2 131.3h1.25M348.4 130.4h1.25M351.0 127.2h1.25M349.1 129.4h1.25M351.2 132.8h1.25M345.8 129.2h1.25M350.8 134.5h1.25M351.1 127.3h1.25M346.4 137.8h1.25M352.8 125.1h1.25M348.6 126.9h1.25M350.4 134.5h1.25M347.7 140.5h1.25M342.3 127.8h1.25M342.2 130.6h1.25M350.8 125.2h1.25M347.9 133.7h1.25M350.4 134.5h1.25M345.4 132.1h1.25M345.4 123.9h1.25M350.3 124.9h1.25M350.0 126.4h1.25M346.9 129.3h1.25M345.6 126.1h1.25M349.7 134.3h1.25M347.6 132.3h1.25M341.3 135.1h1.25M349.5 128.8h1.25M346.8 130.4h1.25M350.5 134.9h1.25M349.7 126.1h1.25M341.8 128.6h1.25M352.2 125.7h1.25M346.2 141.2h1.25M350.9 126.2h1.25M352.0 134.9h1.25M344.5 131.9h1.25M350.4 123.3h1.25M345.1 130.8h1.25M347.9 130.2h1.25M354.6 127.7h1.25M347.6 135.0h1.25M350.1 135.4h1.25M350.2 129.0h1.25M350.6 124.8h1.25M347.0 129.9h1.25M349.8 128.1h1.25M352.3 134.6h1.25M346.8 129.2h1.25M353.1 122.3h1.25M349.6 134.1h1.25M351.7 131.6h1.25M352.3 128.2h1.25M347.8 139.9h1.25M351.1 132.1h1.25M343.1 138.3h1.25M343.0 127.4h1.25M345.5 130.3h1.25M351.6 127.1h1.25M347.6 131.2h1.25M351.0 136.2h1.25M346.4 134.4h1.25M352.2 124.1h1.25M352.5 128.7h1.25M350.6 130.8h1.25M343.5 131.5h1.25M351.3 131.3h1.25M349.6 137.0h1.25M345.2 128.8h1.25M347.7 137.9h1.25M349.9 129.3h1.25M354.2 119.7h1.25M340.1 134.3h1.25M348.5 128.7h1.25M343.1 126.8h1.25M344.8 127.4h1.25M349.6 124.6h1.25M352.2 127.5h1.25M347.5 126.8h1.25M349.8 129.9h1.25M349.9 129.5h1.25M348.4 130.6h1.25M350.7 127.3h1.25M349.3 131.1h1.25M342.9 129.1h1.25M346.9 130.0h1.25M349.7 120.2h1.25M352.6 130.2h1.25M351.4 123.2h1.25M346.9 123.4h1.25M348.2 116.5h1.25M352.5 128.1h1.25M349.8 131.7h1.25M344.3 133.8h1.25M349.4 127.9h1.25M346.4 131.5h1.25M351.3 133.1h1.25M348.3 128.8h1.25M350.6 129.9h1.25M351.1 122.6h1.25M353.2 134.8h1.25M352.0 127.1h1.25M348.1 130.0h1.25M346.7 125.9h1.25M350.7 128.5h1.25M349.8 125.8h1.25M344.5 136.2h1.25M340.8 130.0h1.25M347.7 134.0h1.25M354.1 126.2h1.25M349.6 128.5h1.25M346.9 125.7h1.25M349.2 131.0h1.25M348.2 126.5h1.25M351.1 128.2h1.25M348.5 136.8h1.25M346.0 122.8h1.25M347.5 130.4h1.25M348.4 123.8h1.25M348.2 124.6h1.25M349.7 127.4h1.25M343.4 125.4h1.25M351.3 130.4h1.25M344.9 134.6h1.25M350.7 123.7h1.25M351.9 132.1h1.25M349.3 128.6h1.25M348.1 128.6h1.25M346.5 125.1h1.25M348.3 130.3h1.25M343.4 137.1h1.25M347.0 127.6h1.25M341.6 125.5h1.25M347.7 128.1h1.25M349.1 129.5h1.25M348.7 130.6h1.25M350.3 124.4h1.25M345.5 130.5h1.25M351.3 121.0h1.25M349.0 128.1h1.25M351.4 135.8h1.25M346.0 129.7h1.25M350.1 130.5h1.25M351.5 135.5h1.25M348.0 125.6h1.25M347.4 133.5h1.25M353.6 127.6h1.25M347.4 129.6h1.25M351.3 129.8h1.25M346.5 128.0h1.25M352.6 135.5h1.25M353.2 126.6h1.25M345.4 123.0h1.25M351.9 134.9h1.25M349.3 126.1h1.25M347.6 132.3h1.25M344.9 121.1h1.25M350.6 135.6h1.25M347.5 128.7h1.25M348.1 124.5h1.25M348.1 132.1h1.25M353.4 129.7h1.25M345.5 138.9h1.25M355.0 137.0h1.25M348.3 133.6h1.25M348.8 124.1h1.25M343.6 130.4h1.25M350.3 133.7h1.25M351.5 127.8h1.25M350.9 131.9h1.25M347.4 127.4h1.25M350.5 127.2h1.25M349.9 132.1h1.25M344.1 137.8h1.25M345.5 122.3h1.25M353.6 124.5h1.25M349.6 128.3h1.25M349.3 125.7h1.25M347.7 133.5h1.25M343.7 134.0h1.25M343.1 127.8h1.25M349.4 126.7h1.25M346.5 125.3h1.25M347.4 126.6h1.25M356.1 135.8h1.25M350.5 133.6h1.25M340.9 127.7h1.25M345.3 128.9h1.25M346.4 129.7h1.25M349.5 125.6h1.25M349.4 123.2h1.25M344.8 130.4h1.25M344.4 131.4h1.25M353.3 128.7h1.25M346.9 128.5h1.25M353.8 121.5h1.25M348.6 133.5h1.25M346.0 135.2h1.25M352.7 124.5h1.25M344.7 129.1h1.25M344.8 116.8h1.25M344.3 133.6h1.25M346.3 130.1h1.25M347.3 132.9h1.25M344.0 133.7h1.25M350.7 128.6h1.25M349.9 132.3h1.25M349.7 132.8h1.25M354.2 134.8h1.25M352.5 131.2h1.25M348.7 134.7h1.25M346.6 132.0h1.25M344.8 126.6h1.25M345.1 121.2h1.25M345.8 127.9h1.25M349.9 132.7h1.25M349.2 133.3h1.25M341.7 123.6h1.25M346.7 130.0h1.25M349.0 129.3h1.25M349.8 125.8h1.25M346.8 133.0h1.25M344.8 126.1h1.25M348.2 127.3h1.25M347.8 122.8h1.25M343.9 134.8h1.25M342.9 130.2h1.25M350.7 133.3h1.25M355.7 131.8h1.25M350.0 131.6h1.25M348.5 127.2h1.25M349.7 136.7h1.25M353.2 138.0h1.25M345.8 130.6h1.25M350.8 130.5h1.25M345.3 140.5h1.25M351.4 131.7h1.25M349.1 133.2h1.25M348.5 128.3h1.25M348.6 135.0h1.25M345.9 138.5h1.25M350.6 135.5h1.25M351.0 124.7h1.25M348.0 126.6h1.25M344.8 125.0h1.25M341.2 127.2h1.25M334.4 102.5h1.25M333.9 106.0h1.25M334.5 104.2h1.25M333.3 102.5h1.25M333.7 103.9h1.25M328.6 102.9h1.25M335.8 101.4h1.25M335.9 104.1h1.25M332.7 99.8h1.25M340.4 105.2h1.25M334.9 101.5h1.25M334.1 102.9h1.25M347.3 102.6h1.25M344.4 101.7h1.25M347.9 102.7h1.25M347.2 99.8h1.25M345.5 101.1h1.25" stroke="#000" stroke-width="1.25" fill="none"/>
<ellipse cx="446.8" cy="104.6" rx="6.0" ry="4.6" fill="#000"/>
<ellipse cx="458.0" cy="104.1" rx="6.7" ry="4.8" fill="#000"/>
<ellipse cx="468.8" cy="103.7" rx="6.2" ry="4.6" fill="#000"/>
<path d="M451.1 102.3h1.25M442.0 106.9h1.25M445.5 99.5h1.25M453.6 103.4h1.25M449.3 101.1h1.25M447.0 98.2h1.25M439.3 106.1h1.25M449.3 100.3h1.25M445.8 99.7h1.25M439.8 106.4h1.25M444.0 99.3h1.25M430.1 108.3h1.25M450.4 100.7h1.25M440.2 106.8h1.25M441.3 107.5h1.25M451.6 106.2h1.25M439.1 111.2h1.25M443.4 108.3h1.25M438.1 107.7h1.25M436.3 103.3h1.25M451.5 105.5h1.25M443.7 100.6h1.25M438.3 102.9h1.25M453.9 102.6h1.25M441.5 106.7h1.25M440.4 100.9h1.25M446.2 97.5h1.25M451.7 108.2h1.25M440.9 104.2h1.25M452.9 102.7h1.25M450.4 97.3h1.25M442.2 108.0h1.25M440.4 108.1h1.25M453.9 107.5h1.25M448.8 110.9h1.25M453.3 108.0h1.25M441.0 101.5h1.25M446.4 100.1h1.25M446.4 108.7h1.25M449.8 107.9h1.25M441.5 103.4h1.25M453.2 96.6h1.25M444.6 99.2h1.25M456.3 110.0h1.25M450.5 102.0h1.25M450.9 110.1h1.25M442.8 100.1h1.25M454.9 104.7h1.25M447.4 110.4h1.25M450.5 98.9h1.25M441.2 99.5h1.25M450.5 108.7h1.25M449.0 109.4h1.25M449.1 109.4h1.25M449.7 99.0h1.25M436.4 107.8h1.25M455.0 103.3h1.25M447.8 101.0h1.25M437.5 105.8h1.25M445.4 109.9h1.25M449.2 107.7h1.25M453.3 104.2h1.25M445.4 99.1h1.25M449.7 108.4h1.25M442.9 95.4h1.25M451.8 99.8h1.25M441.0 104.3h1.25M450.2 101.4h1.25M442.0 100.5h1.25M442.6 107.6h1.25M452.8 103.1h1.25M437.4 105.3h1.25M435.5 102.5h1.25M450.7 101.5h1.25M445.4 100.5h1.25M442.5 101.2h1.25M444.5 108.5h1.25M437.6 102.6h1.25M448.0 98.6h1.25M447.3 99.7h1.25M455.9 104.4h1.25M453.7 103.8h1.25M453.4 110.1h1.25M444.3 100.1h1.25M455.4 107.1h1.25M437.5 108.0h1.25M452.6 109.5h1.25M450.8 102.6h1.25M440.9 110.0h1.25M454.2 104.1h1.25M440.7 104.7h1.25M449.8 100.7h1.25M454.3 105.8h1.25M439.3 103.5h1.25M455.4 101.8h1.25M440.1 102.5h1.25M451.0 107.3h1.25M451.4 105.9h1.25M454.4 103.3h1.25M437.1 98.1h1.25M453.8 101.4h1.25M447.7 109.2h1.25M447.0 98.7h1.25M448.9 108.6h1.25M450.7 107.5h1.25M459.8 101.3h1.25M453.1 109.7h1.25M446.5 108.9h1.25M445.1 108.3h1.25M440.2 99.2h1.25M441.6 111.4h1.25M440.5 101.3h1.25M451.7 111.1h1.25M445.2 93.7h1.25M441.6 106.4h1.25M447.2 98.3h1.25M439.7 110.1h1.25M443.6 101.0h1.25M442.1 102.2h1.25M449.0 111.9h1.25M438.2 107.1h1.25M452.3 109.4h1.25M450.3 100.7h1.25M441.4 105.8h1.25M453.0 98.5h1.25M448.8 109.9h1.25M454.4 107.0h1.25M448.3 108.3h1.25M448.5 109.1h1.25M439.8 103.0h1.25M438.4 97.2h1.25M443.8 101.1h1.25M440.0 106.2h1.25M439.6 98.2h1.25M446.5 99.5h1.25M439.5 103.6h1.25M446.2 108.9h1.25M449.7 107.6h1.25M451.9 104.3h1.25M444.5 109.5h1.25M442.4 109.4h1.25M451.1 102.1h1.25M454.2 110.2h1.25M449.3 110.0h1.25M446.0 98.7h1.25M446.2 111.8h1.25M443.8 100.4h1.25M442.3 110.0h1.25M451.3 109.0h1.25M449.7 99.7h1.25M454.9 103.1h1.25M443.9 109.9h1.25M452.7 101.0h1.25M435.9 105.8h1.25M458.9 106.6h1.25M453.6 110.3h1.25M435.7 104.1h1.25M444.9 108.6h1.25M450.2 109.3h1.25M451.3 105.1h1.25M451.2 108.5h1.25M448.9 108.4h1.25M444.7 110.7h1.25M442.9 114.8h1.25M447.1 109.1h1.25M442.7 111.0h1.25M451.7 97.2h1.25M453.1 102.8h1.25M444.9 108.2h1.25M452.8 106.2h1.25M455.5 97.5h1.25M458.8 108.9h1.25M443.1 110.7h1.25M439.9 105.9h1.25M451.0 108.8h1.25M451.2 103.4h1.25M442.2 108.0h1.25M451.8 103.5h1.25M441.3 104.4h1.25M439.3 106.3h1.25M447.8 99.2h1.25M451.8 101.2h1.25M443.7 101.1h1.25M439.4 101.3h1.25M438.5 100.6h1.25M441.4 107.1h1.25M443.5 97.9h1.25M448.4 108.2h1.25M445.3 100.3h1.25M442.6 97.6h1.25M453.2 108.5h1.25M448.6 100.8h1.25M450.0 107.5h1.25M456.8 109.1h1.25M448.3 101.0h1.25M442.2 110.8h1.25M447.3 109.8h1.25M453.1 108.5h1.25M449.8 101.2h1.25M444.0 109.9h1.25M441.1 107.3h1.25M452.8 105.7h1.25M442.2 100.0h1.25M449.2 110.0h1.25M437.8 104.2h1.25M446.1 100.3h1.25M441.2 105.7h1.25M441.0 107.1h1.25M451.8 109.9h1.25M447.2 100.4h1.25M447.7 110.9h1.25M435.7 104.3h1.25M453.5 106.8h1.25M445.9 109.5h1.25M447.9 98.5h1.25M448.5 99.5h1.25M440.8 104.1h1.25M442.3 102.1h1.25M440.2 106.2h1.25M447.7 112.6h1.25M440.9 104.9h1.25M439.3 105.4h1.25M450.2 102.1h1.25M444.1 109.3h1.25M454.6 106.3h1.25M455.8 102.7h1.25M452.3 105.2h1.25M442.2 100.7h1.25M448.4 99.4h1.25M444.2 113.8h1.25M438.7 107.5h1.25M442.7 108.7h1.25M449.8 107.5h1.25M441.3 107.3h1.25M437.7 106.3h1.25M450.2 98.6h1.25M446.0 97.2h1.25M457.0 106.0h1.25M441.1 101.8h1.25M448.4 108.9h1.25M441.3 102.5h1.25M438.7 111.5h1.25M448.6 101.3h1.25M448.6 100.7h1.25M444.7 97.8h1.25M454.3 103.0h1.25M452.2 102.8h1.25M451.6 109.8h1.25M443.4 96.8h1.25M451.2 106.2h1.25M452.5 101.4h1.25M445.2 99.0h1.25M443.5 101.4h1.25M445.7 109.7h1.25M440.2 106.6h1.25M452.6 104.1h1.25M435.1 104.4h1.25M449.8 108.1h1.25M441.6 112.3h1.25M433.9 104.0h1.25M444.7 108.5h1.25M441.0 100.9h1.25M435.1 106.7h1.25M453.6 99.7h1.25M442.4 100.6h1.25M453.4 103.1h1.25M449.7 107.7h1.25M440.8 106.9h1.25M450.9 108.5h1.25M445.4 98.0h1.25M447.0 100.5h1.25M441.9 101.3h1.25M451.1 103.5h1.25M451.4 107.1h1.25M445.1 100.8h1.25M455.3 105.4h1.25M440.3 104.1h1.25M452.2 103.3h1.25M448.3 108.9h1.25M446.2 110.5h1.25M451.6 100.6h1.25M444.4 98.9h1.25M452.9 108.0h1.25M446.0 108.5h1.25M445.2 99.3h1.25M449.9 109.7h1.25M451.2 102.4h1.25M451.7 101.4h1.25M436.4 103.1h1.25M450.0 99.7h1.25M440.8 101.9h1.25M454.2 101.7h1.25M439.8 100.4h1.25M452.3 109.6h1.25M441.7 107.2h1.25M435.8 103.7h1.25M440.9 105.7h1.25M437.0 103.6h1.25M447.0 111.0h1.25M445.0 98.6h1.25M454.7 110.2h1.25M453.5 103.9h1.25M455.0 107.5h1.25M443.6 100.5h1.25M448.5 100.3h1.25M442.9 99.3h1.25M450.5 107.4h1.25M439.0 103.5h1.25M441.0 103.1h1.25M453.0 100.0h1.25M451.7 104.1h1.25M440.8 100.4h1.25M447.1 99.0h1.25M452.8 106.8h1.25M440.7 107.8h1.25M446.1 99.9h1.25M447.2 109.8h1.25M438.1 101.2h1.25M441.8 102.9h1.25M444.4 100.9h1.25M454.6 99.7h1.25M441.4 98.8h1.25M439.0 103.1h1.25M438.0 106.6h1.25M445.8 109.7h1.25M440.1 106.4h1.25M451.1 101.5h1.25M444.7 110.4h1.25M447.6 110.3h1.25M443.8 107.9h1.25M438.4 106.9h1.25M449.3 100.7h1.25M444.3 108.6h1.25M449.1 111.0h1.25M439.2 101.8h1.25M441.5 99.6h1.25M442.3 101.7h1.25M440.7 98.2h1.25M440.7 101.4h1.25M442.4 102.3h1.25M438.1 102.3h1.25M438.2 103.2h1.25M450.8 101.7h1.25M441.6 106.0h1.25M443.1 107.8h1.25M441.2 108.5h1.25M440.6 107.4h1.25M443.3 108.8h1.25M440.9 110.7h1.25M439.6 105.5h1.25M440.1 109.3h1.25M442.9 109.4h1.25M441.3 108.0h1.25M438.4 109.6h1.25M446.3 110.7h1.25M440.6 103.8h1.25M450.6 102.7h1.25M438.7 105.2h1.25M447.2 111.1h1.25M440.1 112.0h1.25M453.3 108.1h1.25M450.2 107.8h1.25M450.7 107.6h1.25M441.3 106.1h1.25M450.1 100.6h1.25M445.7 108.6h1.25M451.2 105.8h1.25M442.7 107.2h1.25M439.3 105.9h1.25M446.3 111.1h1.25M441.1 108.9h1.25M442.7 99.8h1.25M450.7 100.3h1.25M451.8 107.3h1.25M438.3 102.1h1.25M446.6 108.9h1.25M443.6 109.1h1.25M441.9 109.0h1.25M453.1 105.3h1.25M448.5 98.5h1.25M438.0 103.5h1.25M438.6 98.5h1.25M453.1 105.7h1.25M448.2 110.2h1.25M448.9 100.8h1.25M439.4 106.5h1.25M449.9 108.3h1.25M436.6 102.8h1.25M448.7 108.9h1.25M443.2 98.8h1.25M447.2 98.6h1.25M445.1 96.2h1.25M451.4 105.2h1.25M440.0 103.1h1.25M448.0 100.9h1.25M448.9 108.7h1.25M450.8 99.7h1.25M438.4 101.4h1.25M443.2 108.0h1.25M453.5 106.3h1.25M436.2 107.2h1.25M440.6 110.6h1.25M439.7 107.9h1.25M441.7 96.4h1.25M445.6 97.8h1.25M449.9 100.9h1.25M449.5 108.4h1.25M450.9 107.5h1.25M440.1 102.8h1.25M441.7 106.1h1.25M441.5 105.9h1.25M458.7 109.7h1.25M452.8 100.6h1.25M452.3 101.8h1.25M437.0 105.5h1.25M441.3 104.5h1.25M452.9 107.1h1.25M441.7 99.3h1.25M449.7 99.0h1.25M455.5 107.4h1.25M451.7 110.7h1.25M452.3 108.3h1.25M441.9 98.9h1.25M445.1 100.3h1.25M451.5 107.3h1.25M454.5 102.2h1.25M448.1 109.5h1.25M438.6 105.9h1.25M445.6 108.7h1.25M437.9 109.6h1.25M448.8 100.8h1.25M440.1 103.9h1.25M445.3 111.7h1.25M453.1 105.7h1.25M448.9 95.8h1.25M453.0 106.3h1.25M454.5 102.9h1.25M451.0 108.0h1.25M452.6 101.9h1.25M450.5 107.2h1.25M442.7 101.8h1.25M458.3 104.0h1.25M452.7 107.7h1.25M453.4 102.6h1.25M448.6 109.1h1.25M451.2 108.1h1.25M444.4 113.2h1.25M451.1 108.4h1.25M450.2 107.6h1.25M444.6 108.9h1.25M448.3 99.2h1.25M443.4 101.5h1.25M453.4 106.6h1.25M437.5 105.3h1.25M445.3 100.6h1.25M441.9 110.2h1.25M440.4 99.9h1.25M439.9 107.4h1.25M442.7 101.9h1.25M452.0 100.0h1.25M444.9 99.0h1.25M443.8 110.0h1.25M451.4 106.3h1.25M441.0 103.3h1.25M438.5 100.7h1.25M437.0 102.9h1.25M440.6 107.5h1.25M441.1 101.1h1.25M441.3 103.5h1.25M443.4 101.4h1.25M456.3 105.0h1.25M450.6 111.2h1.25M450.5 100.4h1.25M435.8 103.2h1.25M448.9 108.6h1.25M441.7 101.7h1.25M438.9 103.2h1.25M438.6 112.2h1.25M440.9 103.4h1.25M440.4 102.7h1.25M447.6 98.1h1.25M452.4 107.7h1.25M440.1 101.6h1.25M441.9 106.3h1.25M438.9 108.2h1.25M441.0 104.1h1.25M439.1 98.9h1.25M439.9 108.3h1.25M451.4 103.9h1.25M448.5 108.0h1.25M439.8 110.9h1.25M447.9 98.3h1.25M440.7 103.5h1.25M440.4 104.5h1.25M450.1 101.4h1.25M452.6 109.6h1.25M443.8 108.8h1.25M444.8 99.4h1.25M445.2 95.1h1.25M442.9 109.0h1.25M444.4 100.8h1.25M453.5 105.5h1.25M435.1 104.7h1.25M444.1 109.1h1.25M439.8 99.5h1.25M440.2 106.1h1.25M448.8 101.1h1.25M441.2 104.6h1.25M443.6 100.5h1.25M450.4 108.7h1.25M446.6 109.3h1.25M438.6 106.4h1.25M443.2 109.5h1.25M440.1 106.5h1.25M450.0 98.8h1.25M447.9 100.4h1.25M442.4 109.7h1.25M437.4 103.2h1.25M439.0 104.9h1.25M451.4 103.9h1.25M441.1 104.1h1.25M453.5 109.1h1.25M444.8 100.9h1.25M441.7 106.0h1.25M449.9 107.3h1.25M440.3 100.4h1.25M435.5 103.0h1.25M441.4 106.8h1.25M447.0 100.2h1.25M453.4 99.2h1.25M443.8 110.7h1.25M452.3 101.2h1.25M440.9 100.9h1.25M438.0 108.6h1.25M452.2 98.4h1.25M445.9 99.9h1.25M454.9 100.2h1.25M451.6 106.1h1.25M461.8 105.8h1.25M437.5 103.7h1.25M453.5 99.2h1.25M451.8 105.6h1.25M443.8 108.3h1.25M454.6 100.8h1.25M442.5 108.3h1.25M445.7 109.2h1.25M446.9 98.9h1.25M439.9 101.4h1.25M452.2 104.5h1.25M445.7 98.9h1.25M437.8 108.7h1.25M444.6 109.7h1.25M440.2 101.9h1.25M442.4 108.7h1.25M444.5 109.3h1.25M452.0 108.2h1.25M451.0 102.8h1.25M446.9 100.6h1.25M438.8 111.9h1.25M443.3 100.4h1.25M447.5 110.0h1.25M448.7 101.3h1.25M445.0 100.4h1.25M452.6 105.8h1.25M437.2 108.4h1.25M448.9 100.4h1.25M450.8 100.9h1.25M440.2 107.3h1.25M441.2 106.2h1.25M450.7 109.6h1.25M442.9 101.5h1.25M441.6 111.1h1.25M441.8 106.6h1.25M448.8 100.7h1.25M441.5 101.5h1.25M453.7 101.0h1.25M447.0 109.3h1.25M448.3 101.0h1.25M442.5 109.8h1.25M447.7 99.7h1.25M440.6 101.9h1.25M447.8 111.9h1.25M438.9 100.4h1.25M454.7 98.4h1.25M439.9 106.8h1.25M444.9 108.8h1.25M438.5 110.9h1.25M449.8 101.2h1.25M453.4 101.4h1.25M449.9 101.4h1.25M436.5 101.4h1.25M448.7 109.6h1.25M451.6 102.4h1.25M458.8 101.4h1.25M442.8 98.6h1.25M447.1 108.8h1.25M441.8 109.0h1.25M450.5 101.0h1.25M440.1 109.3h1.25M440.6 103.5h1.25M451.4 99.8h1.25M439.9 103.0h1.25M454.1 105.3h1.25M452.3 102.8h1.25M455.2 104.4h1.25M437.9 106.5h1.25M451.9 100.8h1.25M446.0 116.5h1.25M444.6 99.4h1.25M444.6 109.5h1.25M455.7 102.0h1.25M440.9 105.6h1.25M442.0 107.6h1.25M446.8 110.3h1.25M452.2 108.5h1.25M452.1 101.4h1.25M439.2 100.5h1.25M441.8 100.6h1.25M441.1 106.4h1.25M441.0 105.8h1.25M446.5 100.6h1.25M446.3 111.4h1.25M441.3 105.7h1.25M455.4 110.9h1.25M453.6 105.6h1.25M451.2 102.1h1.25M441.4 103.3h1.25M444.4 100.8h1.25M452.9 104.9h1.25M437.4 109.7h1.25M450.7 108.1h1.25M452.8 105.9h1.25M453.4 104.7h1.25M452.1 104.7h1.25M454.9 107.9h1.25M454.1 107.1h1.25M447.1 108.8h1.25M446.0 97.6h1.25M441.5 100.2h1.25M440.5 104.4h1.25M439.4 97.3h1.25M441.3 106.3h1.25M435.0 107.6h1.25M441.5 101.9h1.25M447.4 110.0h1.25M437.7 106.1h1.25M447.3 108.5h1.25M445.0 97.9h1.25M448.9 101.1h1.25M442.0 98.5h1.25M445.1 99.7h1.25M449.0 97.9h1.25M454.6 106.0h1.25M451.9 102.1h1.25M457.3 105.1h1.25M452.8 107.3h1.25M451.0 102.0h1.25M452.1 98.3h1.25M452.5 101.6h1.25M453.1 105.1h1.25M450.4 110.8h1.25M454.2 97.6h1.25M450.7 108.8h1.25M437.7 103.1h1.25M436.3 104.0h1.25M442.5 101.6h1.25M442.3 100.4h1.25M444.7 97.3h1.25M442.8 100.5h1.25M441.6 107.2h1.25M442.1 107.3h1.25M450.9 108.6h1.25M447.7 109.3h1.25M442.0 108.6h1.25M447.7 109.1h1.25M450.5 101.3h1.25M445.8 100.0h1.25M447.1 98.1h1.25M443.2 99.1h1.25M440.8 106.9h1.25M441.3 103.0h1.25M442.4 108.2h1.25M450.0 100.0h1.25M453.4 106.6h1.25M453.3 103.8h1.25M442.7 108.8h1.25M444.8 100.9h1.25M449.4 97.1h1.25M442.9 108.2h1.25M444.3 95.0h1.25M443.7 109.1h1.25M444.9 108.3h1.25M455.9 107.4h1.25M443.9 99.8h1.25M437.5 112.9h1.25M452.8 95.9h1.25M450.0 112.4h1.25M444.5 111.7h1.25M440.2 107.3h1.25M444.8 100.9h1.25M441.1 104.6h1.25M448.8 100.5h1.25M448.1 108.2h1.25M449.0 108.5h1.25M439.4 98.3h1.25M453.0 100.8h1.25M446.6 100.0h1.25M437.2 103.5h1.25M446.4 110.7h1.25M438.5 104.3h1.25M449.8 97.7h1.25M445.9 109.6h1.25M441.2 101.1h1.25M442.6 107.5h1.25M435.9 102.5h1.25M447.4 109.5h1.25M452.4 104.3h1.25M450.2 110.3h1.25M445.7 100.0h1.25M443.1 100.3h1.25M454.4 107.5h1.25M441.5 103.2h1.25M451.6 100.4h1.25M439.4 105.0h1.25M439.1 107.7h1.25M447.8 108.5h1.25M436.5 102.3h1.25M448.1 108.9h1.25M435.6 101.6h1.25M437.7 103.5h1.25M447.4 108.5h1.25M453.2 105.6h1.25M451.2 107.0h1.25M451.4 103.0h1.25M434.7 108.5h1.25M438.5 104.4h1.25M438.7 113.5h1.25M443.8 109.0h1.25M451.9 106.1h1.25M451.8 107.4h1.25M453.9 106.0h1.25M444.9 109.0h1.25M446.2 99.2h1.25M449.9 107.2h1.25M439.6 108.9h1.25M452.3 107.6h1.25M439.2 107.9h1.25M445.8 99.8h1.25M456.8 102.3h1.25M455.4 102.6h1.25M454.2 106.3h1.25M451.3 97.7h1.25M446.6 95.8h1.25M435.0 97.6h1.25M439.8 109.1h1.25M454.7 104.6h1.25M453.0 108.5h1.25M456.4 108.2h1.25M442.1 110.4h1.25M439.1 107.5h1.25M435.5 100.9h1.25M451.4 102.9h1.25M449.2 109.9h1.25M454.1 109.7h1.25M448.1 100.2h1.25M454.1 107.0h1.25M441.1 110.8h1.25M461.3 95.8h1.25M450.9 107.0h1.25M440.4 101.9h1.25M440.8 106.6h1.25M449.1 109.1h1.25M451.4 106.1h1.25M446.2 111.7h1.25M441.0 102.6h1.25M443.3 107.8h1.25M450.9 106.7h1.25M445.9 95.3h1.25M450.2 108.3h1.25M439.1 111.2h1.25M441.0 109.6h1.25M445.8 109.3h1.25M452.8 103.9h1.25M448.9 96.1h1.25M454.5 104.8h1.25M439.1 101.1h1.25M463.3 103.3h1.25M468.2 101.4h1.25M460.9 99.5h1.25M451.3 100.4h1.25M456.9 97.6h1.25M462.9 100.8h1.25M452.4 101.0h1.25M459.3 99.1h1.25M453.7 99.2h1.25M453.3 107.3h1.25M448.0 103.4h1.25M455.6 95.8h1.25M452.6 98.9h1.25M448.0 100.9h1.25M468.4 105.2h1.25M465.2 103.9h1.25M454.6 109.7h1.25M455.7 109.4h1.25M466.6 104.1h1.25M461.5 111.3h1.25M456.1 98.1h1.25M448.6 103.0h1.25M460.5 108.8h1.25M468.0 113.4h1.25M459.5 98.5h1.25M455.5 98.2h1.25M459.2 99.5h1.25M451.0 110.1h1.25M461.6 108.2h1.25M454.1 100.4h1.25M463.7 104.1h1.25M451.3 113.3h1.25M455.8 109.5h1.25M454.0 108.2h1.25M459.2 100.1h1.25M455.2 98.7h1.25M452.8 97.6h1.25M457.4 97.4h1.25M466.5 104.7h1.25M464.5 104.9h1.25M465.4 109.4h1.25M465.6 99.4h1.25M463.1 100.3h1.25M465.6 106.1h1.25M465.3 104.0h1.25M451.6 107.5h1.25M460.7 108.4h1.25M460.7 107.5h1.25M454.3 111.0h1.25M455.7 109.6h1.25M453.5 107.6h1.25M458.8 99.9h1.25M448.9 99.3h1.25M466.7 101.6h1.25M454.9 97.9h1.25M450.6 99.7h1.25M455.4 98.2h1.25M464.2 105.8h1.25M465.0 102.5h1.25M464.0 103.9h1.25M464.3 101.8h1.25M463.1 111.5h1.25M445.9 104.4h1.25M464.0 103.8h1.25M463.7 103.7h1.25M464.2 104.6h1.25M451.1 107.6h1.25M457.8 108.5h1.25M452.0 103.1h1.25M455.4 100.1h1.25M447.1 103.8h1.25M450.5 108.7h1.25M449.0 102.0h1.25M461.5 106.9h1.25M464.7 110.1h1.25M467.9 108.6h1.25M450.1 105.5h1.25M449.0 100.8h1.25M456.2 96.9h1.25M449.8 105.8h1.25M462.6 110.4h1.25M453.7 109.0h1.25M451.7 102.1h1.25M449.3 107.5h1.25M456.2 108.6h1.25M444.9 96.8h1.25M450.6 99.5h1.25M446.6 108.1h1.25M459.1 108.4h1.25M463.1 103.0h1.25M450.3 98.3h1.25M462.7 108.1h1.25M463.7 108.4h1.25M447.3 100.3h1.25M453.4 107.4h1.25M457.5 108.9h1.25M463.1 100.9h1.25M459.8 111.2h1.25M463.2 105.1h1.25M464.0 101.5h1.25M462.7 106.5h1.25M454.0 109.0h1.25M451.4 101.6h1.25M452.3 107.2h1.25M452.9 106.4h1.25M466.4 110.1h1.25M448.0 103.2h1.25M455.3 108.7h1.25M461.0 109.1h1.25M453.8 99.7h1.25M457.0 95.3h1.25M451.2 106.0h1.25M460.5 100.7h1.25M451.0 108.1h1.25M451.6 101.4h1.25M452.2 99.5h1.25M463.6 99.3h1.25M451.6 103.1h1.25M463.8 99.2h1.25M453.2 107.8h1.25M471.0 103.7h1.25M462.9 105.3h1.25M449.3 104.8h1.25M450.8 103.5h1.25M453.6 98.1h1.25M463.8 107.5h1.25M464.6 106.8h1.25M463.3 101.0h1.25M452.1 109.0h1.25M451.4 105.9h1.25M461.8 98.4h1.25M444.6 97.0h1.25M452.6 101.8h1.25M455.3 108.5h1.25M463.9 103.8h1.25M457.8 98.4h1.25M463.2 108.2h1.25M456.0 109.4h1.25M464.6 102.1h1.25M449.0 102.0h1.25M455.6 108.6h1.25M463.4 102.8h1.25M449.3 109.9h1.25M454.8 100.5h1.25M454.4 109.1h1.25M465.4 102.9h1.25M459.6 100.4h1.25M449.7 99.2h1.25M453.2 107.9h1.25M462.1 106.4h1.25M458.2 109.0h1.25M459.6 108.5h1.25M463.2 103.7h1.25M464.0 105.1h1.25M456.2 111.7h1.25M465.3 102.6h1.25M464.6 105.2h1.25M462.1 100.1h1.25M452.5 106.0h1.25M453.9 111.2h1.25M458.4 99.5h1.25M446.8 101.0h1.25M443.9 111.6h1.25M449.8 103.7h1.25M451.7 104.8h1.25M467.6 101.9h1.25M461.1 100.8h1.25M448.6 102.1h1.25M448.7 103.8h1.25M461.4 101.2h1.25M468.6 108.2h1.25M449.3 108.5h1.25M456.0 108.1h1.25M462.6 101.8h1.25M465.0 99.8h1.25M445.1 104.8h1.25M445.1 108.5h1.25M449.6 102.3h1.25M452.9 106.7h1.25M457.3 96.5h1.25M451.9 102.2h1.25M468.5 107.9h1.25M459.9 98.4h1.25M455.9 108.8h1.25M454.8 98.1h1.25M455.1 108.9h1.25M452.3 98.6h1.25M459.7 98.0h1.25M457.4 97.2h1.25M454.1 107.7h1.25M454.4 99.9h1.25M454.9 100.6h1.25M462.0 107.3h1.25M455.9 111.2h1.25M472.7 106.3h1.25M452.0 103.9h1.25M463.8 109.1h1.25M464.9 105.0h1.25M466.6 107.3h1.25M463.3 109.5h1.25M463.1 106.6h1.25M453.2 107.7h1.25M465.5 104.1h1.25M454.3 107.8h1.25M463.5 112.1h1.25M463.5 102.9h1.25M459.2 107.8h1.25M459.3 98.9h1.25M450.0 104.9h1.25M454.4 100.3h1.25M461.0 96.9h1.25M451.2 104.6h1.25M453.6 107.5h1.25M463.5 100.5h1.25M463.9 106.7h1.25M455.2 110.4h1.25M462.8 101.1h1.25M446.7 103.4h1.25M453.1 99.6h1.25M449.4 99.7h1.25M463.7 105.5h1.25M454.4 107.7h1.25M457.8 108.0h1.25M469.6 102.9h1.25M458.1 99.3h1.25M453.2 100.4h1.25M462.6 102.4h1.25M454.2 100.6h1.25M467.6 105.2h1.25M453.2 107.7h1.25M458.2 97.3h1.25M447.7 103.5h1.25M463.2 101.0h1.25M456.0 100.0h1.25M450.7 109.5h1.25M452.3 101.1h1.25M445.9 106.0h1.25M452.0 97.8h1.25M466.4 101.9h1.25M451.7 103.7h1.25M456.8 99.7h1.25M464.7 103.6h1.25M460.0 109.0h1.25M450.7 106.3h1.25M456.7 96.1h1.25M459.7 108.0h1.25M448.6 109.6h1.25M459.4 100.3h1.25M463.1 105.1h1.25M463.4 107.0h1.25M451.7 101.2h1.25M449.0 99.0h1.25M451.3 111.2h1.25M464.0 104.1h1.25M456.8 111.0h1.25M452.9 101.1h1.25M467.8 100.8h1.25M466.1 108.6h1.25M449.7 104.2h1.25M457.3 108.0h1.25M459.0 108.5h1.25M464.1 99.4h1.25M449.6 103.3h1.25M463.5 104.7h1.25M464.3 111.1h1.25M451.7 102.2h1.25M449.4 102.5h1.25M468.8 105.8h1.25M452.8 107.8h1.25M464.8 101.9h1.25M451.0 108.5h1.25M463.8 101.4h1.25M448.8 102.2h1.25M458.5 97.4h1.25M448.5 109.2h1.25M448.8 102.2h1.25M466.0 105.6h1.25M458.4 108.1h1.25M465.1 109.2h1.25M452.1 106.7h1.25M457.7 109.0h1.25M460.6 109.0h1.25M451.3 98.4h1.25M447.7 109.2h1.25M459.1 109.9h1.25M451.2 104.8h1.25M465.1 101.4h1.25M453.3 108.4h1.25M455.1 109.0h1.25M460.2 108.0h1.25M452.2 105.5h1.25M461.3 100.8h1.25M451.5 101.5h1.25M448.2 103.2h1.25M447.9 106.2h1.25M455.0 108.5h1.25M464.4 104.7h1.25M453.0 101.3h1.25M453.1 112.9h1.25M455.6 110.1h1.25M453.0 109.9h1.25M457.2 98.0h1.25M453.8 110.2h1.25M449.6 107.9h1.25M454.4 110.6h1.25M449.3 102.4h1.25M450.9 99.0h1.25M466.4 99.3h1.25M449.9 103.9h1.25M448.1 106.6h1.25M460.1 100.6h1.25M468.5 103.8h1.25M451.9 101.8h1.25M450.6 97.6h1.25M469.7 102.6h1.25M453.9 108.2h1.25M455.0 107.9h1.25M458.6 111.2h1.25M449.1 101.0h1.25M455.7 107.8h1.25M463.4 98.9h1.25M454.6 97.9h1.25M460.1 111.7h1.25M469.0 106.4h1.25M462.6 102.0h1.25M457.4 97.0h1.25M457.9 99.0h1.25M457.6 108.5h1.25M454.4 107.5h1.25M453.3 99.7h1.25M453.7 108.7h1.25M452.9 108.3h1.25M465.3 96.6h1.25M456.3 108.2h1.25M455.7 109.9h1.25M451.9 107.2h1.25M452.8 106.4h1.25M458.0 100.0h1.25M449.0 102.2h1.25M455.0 110.4h1.25M462.6 108.2h1.25M452.8 111.0h1.25M460.3 99.0h1.25M459.1 97.7h1.25M450.4 103.0h1.25M458.3 99.3h1.25M451.9 99.6h1.25M468.0 105.2h1.25M455.8 108.9h1.25M452.7 98.1h1.25M450.6 100.2h1.25M459.1 98.1h1.25M460.3 98.9h1.25M463.2 99.2h1.25M464.3 109.4h1.25M451.2 105.5h1.25M453.6 111.8h1.25M462.1 106.7h1.25M458.6 108.1h1.25M454.4 98.5h1.25M461.7 100.7h1.25M450.2 102.9h1.25M455.1 107.8h1.25M463.2 104.4h1.25M450.1 103.7h1.25M463.4 107.2h1.25M457.4 98.9h1.25M449.3 102.3h1.25M449.7 108.9h1.25M459.3 108.0h1.25M463.6 97.6h1.25M461.4 100.7h1.25M463.3 98.5h1.25M464.8 102.9h1.25M453.3 106.7h1.25M448.8 106.8h1.25M446.5 100.6h1.25M455.2 110.4h1.25M464.2 103.5h1.25M449.9 108.1h1.25M450.4 105.7h1.25M451.7 99.7h1.25M452.5 102.2h1.25M452.6 108.1h1.25M456.7 108.9h1.25M449.1 101.7h1.25M459.4 98.1h1.25M461.7 100.8h1.25M452.8 97.5h1.25M461.9 97.8h1.25M450.0 110.6h1.25M469.8 105.6h1.25M466.6 103.8h1.25M451.0 100.1h1.25M451.5 109.4h1.25M451.8 104.7h1.25M449.2 106.6h1.25M463.8 104.6h1.25M462.3 95.2h1.25M452.2 108.6h1.25M461.0 100.2h1.25M454.4 98.3h1.25M452.0 102.1h1.25M461.6 107.3h1.25M452.3 109.9h1.25M456.6 110.0h1.25M458.8 99.1h1.25M463.1 100.7h1.25M460.6 107.9h1.25M451.3 105.3h1.25M453.7 99.2h1.25M454.0 108.5h1.25M456.2 99.3h1.25M462.8 107.6h1.25M463.8 104.1h1.25M454.0 100.0h1.25M467.2 103.5h1.25M457.5 111.1h1.25M455.6 110.1h1.25M464.3 106.6h1.25M463.3 108.2h1.25M472.7 110.1h1.25M454.6 108.8h1.25M461.4 97.0h1.25M452.1 105.2h1.25M469.3 96.0h1.25M450.2 107.4h1.25M454.0 107.5h1.25M464.6 104.8h1.25M452.7 107.8h1.25M448.9 105.5h1.25M455.6 108.2h1.25M460.5 96.0h1.25M460.5 98.0h1.25M458.5 109.0h1.25M468.5 105.2h1.25M465.2 99.3h1.25M463.6 107.0h1.25M459.2 108.1h1.25M453.9 109.3h1.25M447.8 104.9h1.25M447.4 97.1h1.25M468.2 103.8h1.25M447.7 101.9h1.25M458.8 99.3h1.25M457.7 99.9h1.25M459.2 110.8h1.25M467.7 103.6h1.25M465.5 101.8h1.25M449.3 106.5h1.25M463.7 106.3h1.25M460.6 99.7h1.25M463.1 108.9h1.25M464.2 108.3h1.25M450.4 96.5h1.25M460.5 110.1h1.25M459.9 99.3h1.25M465.5 100.1h1.25M451.1 101.5h1.25M459.5 99.3h1.25M448.4 103.7h1.25M463.7 101.5h1.25M464.0 105.8h1.25M449.4 98.3h1.25M447.1 106.2h1.25M455.0 100.6h1.25M447.3 105.5h1.25M462.3 110.2h1.25M464.0 101.4h1.25M454.6 99.6h1.25M466.9 104.5h1.25M463.4 103.3h1.25M465.8 103.4h1.25M461.9 100.7h1.25M447.9 104.2h1.25M452.5 108.2h1.25M456.8 96.2h1.25M450.9 105.5h1.25M467.7 104.8h1.25M465.2 106.9h1.25M461.1 100.1h1.25M471.0 106.2h1.25M459.1 109.4h1.25M453.8 100.8h1.25M448.2 101.1h1.25M447.7 102.2h1.25M456.7 100.2h1.25M466.9 100.2h1.25M452.0 112.3h1.25M449.2 108.0h1.25M454.1 100.3h1.25M451.0 107.0h1.25M452.2 101.0h1.25M462.7 107.7h1.25M453.9 109.3h1.25M458.5 108.3h1.25M448.2 106.9h1.25M448.6 104.0h1.25M462.2 107.4h1.25M458.9 99.7h1.25M464.2 106.9h1.25M450.9 107.1h1.25M457.6 112.1h1.25M464.4 104.3h1.25M451.8 108.2h1.25M456.2 99.1h1.25M449.7 99.8h1.25M451.2 107.0h1.25M463.6 101.1h1.25M447.1 103.9h1.25M451.7 105.0h1.25M451.7 105.0h1.25M464.3 102.5h1.25M454.9 109.8h1.25M457.2 109.8h1.25M465.6 106.4h1.25M451.7 104.9h1.25M455.2 108.0h1.25M463.2 105.3h1.25M451.4 105.8h1.25M448.0 108.7h1.25M462.9 108.4h1.25M467.6 96.2h1.25M457.4 108.7h1.25M451.6 104.2h1.25M459.5 112.9h1.25M462.7 100.5h1.25M450.1 98.0h1.25M446.7 104.2h1.25M452.7 107.1h1.25M461.2 108.9h1.25M450.6 109.1h1.25M452.9 108.5h1.25M462.2 112.3h1.25M456.2 112.6h1.25M460.1 96.7h1.25M465.1 103.6h1.25M462.5 101.9h1.25M451.8 100.4h1.25M457.2 111.0h1.25M467.6 107.7h1.25M451.1 98.5h1.25M453.6 98.7h1.25M462.0 107.7h1.25M441.5 102.4h1.25M470.4 99.1h1.25M461.6 107.9h1.25M465.4 103.2h1.25M451.9 101.1h1.25M465.0 98.1h1.25M453.4 98.8h1.25M459.3 108.6h1.25M455.5 112.8h1.25M462.1 113.7h1.25M446.2 97.5h1.25M462.5 105.7h1.25M467.3 102.5h1.25M464.1 98.2h1.25M454.4 110.1h1.25M446.8 101.3h1.25M460.5 99.8h1.25M460.5 97.0h1.25M461.2 100.0h1.25M454.4 111.5h1.25M449.8 98.5h1.25M460.2 111.1h1.25M466.0 99.2h1.25M450.8 104.6h1.25M462.7 107.1h1.25M451.6 104.5h1.25M458.7 99.1h1.25M456.2 99.2h1.25M447.8 98.9h1.25M449.7 111.5h1.25M461.2 108.8h1.25M457.6 99.3h1.25M464.9 100.6h1.25M452.7 97.6h1.25M446.4 107.0h1.25M452.7 106.4h1.25M449.8 99.7h1.25M460.2 107.7h1.25M465.2 98.8h1.25M472.5 106.7h1.25M464.4 102.7h1.25M458.2 99.1h1.25M451.7 110.9h1.25M452.4 111.3h1.25M451.7 103.3h1.25M452.5 100.3h1.25M458.8 111.1h1.25M451.1 103.8h1.25M463.0 99.5h1.25M456.5 111.9h1.25M453.6 100.0h1.25M453.4 108.0h1.25M467.8 99.0h1.25M451.8 107.3h1.25M452.4 101.1h1.25M465.6 110.0h1.25M448.3 105.7h1.25M460.6 99.4h1.25M449.5 107.7h1.25M460.9 100.7h1.25M453.2 107.1h1.25M448.8 104.1h1.25M459.4 96.7h1.25M460.2 99.2h1.25M451.9 106.7h1.25M463.9 102.9h1.25M463.5 111.8h1.25M455.3 99.4h1.25M446.9 107.0h1.25M464.6 105.0h1.25M463.8 103.6h1.25M457.5 108.1h1.25M461.3 107.5h1.25M454.5 99.4h1.25M456.6 109.2h1.25M453.7 99.0h1.25M458.4 98.5h1.25M463.8 107.9h1.25M464.2 105.9h1.25M461.1 100.2h1.25M468.8 103.5h1.25M463.1 100.9h1.25M457.4 110.2h1.25M446.6 105.1h1.25M453.7 107.0h1.25M469.5 97.0h1.25M452.0 106.7h1.25M458.3 99.8h1.25M468.5 99.8h1.25M467.1 109.7h1.25M463.9 99.4h1.25M452.2 106.3h1.25M450.4 105.5h1.25M463.5 102.5h1.25M448.9 104.0h1.25M459.1 99.1h1.25M465.8 101.1h1.25M452.0 107.5h1.25M452.5 102.1h1.25M450.3 105.4h1.25M459.6 108.5h1.25M462.5 97.8h1.25M451.3 104.5h1.25M442.9 104.5h1.25M454.2 108.0h1.25M462.8 105.8h1.25M462.6 100.7h1.25M454.4 98.1h1.25M460.1 108.8h1.25M452.4 107.6h1.25M452.6 97.6h1.25M445.9 103.3h1.25M449.1 102.0h1.25M461.2 109.5h1.25M457.0 98.5h1.25M465.3 103.9h1.25M448.8 109.4h1.25M451.6 110.0h1.25M446.5 107.6h1.25M462.3 111.0h1.25M466.4 106.4h1.25M464.2 100.4h1.25M451.1 98.3h1.25M451.0 101.2h1.25M450.7 98.2h1.25M457.3 108.7h1.25M456.9 114.1h1.25M452.4 108.3h1.25M457.6 95.6h1.25M465.3 102.3h1.25M459.2 99.2h1.25M459.7 99.4h1.25M455.5 100.1h1.25M458.7 100.1h1.25M446.9 106.6h1.25M453.0 101.0h1.25M465.1 108.1h1.25M457.3 109.1h1.25M470.5 104.1h1.25M444.0 100.9h1.25M468.4 107.4h1.25M456.1 109.2h1.25M456.6 99.6h1.25M461.3 107.0h1.25M457.6 108.1h1.25M454.1 98.0h1.25M453.7 98.1h1.25M464.1 103.0h1.25M459.0 110.0h1.25M453.7 108.9h1.25M463.5 103.6h1.25M451.6 105.4h1.25M451.4 100.5h1.25M461.3 109.0h1.25M458.5 112.3h1.25M455.4 108.6h1.25M451.8 99.9h1.25M449.5 108.9h1.25M443.4 100.9h1.25M457.7 110.1h1.25M443.0 101.8h1.25M449.8 109.2h1.25M462.1 101.7h1.25M461.5 111.0h1.25M454.3 100.4h1.25M471.4 108.2h1.25M453.5 101.3h1.25M461.9 107.6h1.25M463.9 106.8h1.25M450.0 106.5h1.25M460.3 96.9h1.25M460.0 108.6h1.25M464.2 105.1h1.25M449.9 105.4h1.25M465.6 100.1h1.25M455.7 98.5h1.25M448.1 106.4h1.25M452.6 109.1h1.25M462.8 102.5h1.25M446.5 103.6h1.25M465.5 103.9h1.25M449.8 111.3h1.25M463.8 98.5h1.25M450.7 101.8h1.25M450.9 103.6h1.25M467.4 104.2h1.25M458.4 99.7h1.25M462.4 99.9h1.25M464.3 101.7h1.25M449.8 113.2h1.25M469.2 102.3h1.25M454.0 109.4h1.25M450.7 98.3h1.25M465.4 106.5h1.25M466.3 105.1h1.25M454.2 97.6h1.25M464.8 102.5h1.25M466.7 104.8h1.25M462.1 110.7h1.25M453.8 100.4h1.25M459.8 99.3h1.25M454.4 97.0h1.25M462.6 102.2h1.25M461.9 99.7h1.25M463.6 107.5h1.25M462.4 107.0h1.25M467.0 105.2h1.25M448.6 97.6h1.25M461.0 109.1h1.25M452.0 109.2h1.25M456.1 108.3h1.25M463.9 105.2h1.25M464.8 97.3h1.25M468.4 103.5h1.25M450.8 103.3h1.25M452.3 100.6h1.25M441.5 102.9h1.25M461.6 100.7h1.25M463.6 102.0h1.25M453.2 97.8h1.25M464.1 107.8h1.25M455.7 100.4h1.25M458.1 98.8h1.25M460.6 98.2h1.25M468.2 103.8h1.25M456.5 109.0h1.25M452.6 97.2h1.25M455.0 98.3h1.25M457.5 108.4h1.25M461.0 96.0h1.25M468.6 96.9h1.25M471.0 99.4h1.25M473.0 99.3h1.25M475.7 104.0h1.25M476.4 105.7h1.25M474.2 106.5h1.25M464.4 109.0h1.25M460.0 104.0h1.25M479.0 103.4h1.25M467.7 99.4h1.25M462.9 108.3h1.25M465.0 107.6h1.25M473.5 106.6h1.25M460.6 103.2h1.25M469.5 98.0h1.25M466.4 109.1h1.25M474.8 103.3h1.25M463.8 106.1h1.25M462.6 105.1h1.25M472.2 106.9h1.25M461.7 100.2h1.25M480.0 111.5h1.25M464.3 107.7h1.25M474.7 100.5h1.25M469.2 110.0h1.25M470.5 107.6h1.25M461.1 99.8h1.25M474.2 106.1h1.25M471.8 100.0h1.25M472.2 96.3h1.25M464.9 95.6h1.25M473.3 102.2h1.25M469.1 98.2h1.25M462.6 104.7h1.25M472.7 108.7h1.25M464.4 98.4h1.25M462.9 102.8h1.25M471.2 99.0h1.25M470.8 109.0h1.25M472.4 108.4h1.25M478.0 101.0h1.25M469.5 96.1h1.25M468.1 110.1h1.25M471.0 99.9h1.25M476.8 104.5h1.25M477.8 104.6h1.25M478.4 98.2h1.25M467.3 108.9h1.25M473.8 104.8h1.25M469.1 107.5h1.25M475.9 104.0h1.25M476.4 102.6h1.25M473.2 108.5h1.25M479.6 102.5h1.25M476.9 109.3h1.25M459.6 101.3h1.25M465.4 107.5h1.25M474.5 104.2h1.25M479.6 106.0h1.25M465.5 108.8h1.25M458.1 105.5h1.25M471.6 100.5h1.25M475.6 104.9h1.25M474.4 103.9h1.25M460.2 108.3h1.25M459.6 112.2h1.25M465.7 96.8h1.25M474.5 100.2h1.25M458.6 105.9h1.25M475.3 100.9h1.25M471.5 99.7h1.25M464.1 106.3h1.25M461.9 98.1h1.25M471.2 107.6h1.25M472.4 110.4h1.25M464.2 100.5h1.25M476.3 107.3h1.25M462.7 99.5h1.25M469.2 108.9h1.25M471.2 100.2h1.25M466.2 100.1h1.25M462.1 101.8h1.25M473.5 111.8h1.25M461.6 104.9h1.25M472.2 99.2h1.25M471.5 109.2h1.25M473.1 106.8h1.25M469.6 108.3h1.25M476.1 105.3h1.25M460.9 103.7h1.25M474.4 104.6h1.25M463.7 102.1h1.25M464.2 100.0h1.25M466.6 110.1h1.25M469.2 108.5h1.25M459.3 105.1h1.25M461.7 102.6h1.25M460.8 97.9h1.25M466.3 108.5h1.25M461.5 104.3h1.25M473.2 105.8h1.25M469.9 98.5h1.25M463.8 101.0h1.25M468.3 107.8h1.25M463.3 102.3h1.25M472.8 105.6h1.25M475.0 107.2h1.25M461.0 106.5h1.25M477.8 107.6h1.25M477.2 108.2h1.25M467.1 107.5h1.25M460.3 99.6h1.25M457.2 107.6h1.25M458.7 104.2h1.25M463.6 106.7h1.25M463.0 100.6h1.25M456.6 98.7h1.25M476.9 98.3h1.25M470.1 99.3h1.25M465.5 99.8h1.25M465.8 108.5h1.25M474.3 101.1h1.25M472.1 98.0h1.25M476.5 102.1h1.25M459.6 106.0h1.25M475.7 102.3h1.25M470.5 97.2h1.25M459.4 105.0h1.25M477.8 96.6h1.25M473.1 102.1h1.25M460.6 105.8h1.25M476.7 100.3h1.25M468.7 95.2h1.25M471.2 97.9h1.25M464.0 96.3h1.25M466.1 108.9h1.25M469.9 110.4h1.25M481.2 104.6h1.25M467.7 109.1h1.25M475.4 104.6h1.25M469.3 98.6h1.25M461.8 104.2h1.25M467.8 108.8h1.25M471.4 98.4h1.25M476.4 104.7h1.25M476.9 103.5h1.25M463.2 111.2h1.25M476.5 99.6h1.25M471.4 97.9h1.25M474.2 103.4h1.25M473.3 102.2h1.25M469.5 97.8h1.25M461.5 106.7h1.25M475.5 107.4h1.25M475.3 104.5h1.25M466.5 99.4h1.25M468.1 99.4h1.25M473.3 101.3h1.25M474.1 103.4h1.25M466.6 110.6h1.25M469.8 108.3h1.25M474.5 104.1h1.25M467.8 108.0h1.25M461.2 100.1h1.25M461.4 110.4h1.25M460.5 103.0h1.25M458.2 100.9h1.25M474.5 97.3h1.25M464.4 107.3h1.25M477.5 100.5h1.25M474.6 107.0h1.25M469.1 107.7h1.25M469.5 108.4h1.25M471.4 109.7h1.25M464.5 108.3h1.25M471.4 98.6h1.25M474.0 99.3h1.25M475.8 100.5h1.25M479.2 103.1h1.25M470.1 108.2h1.25M471.1 99.4h1.25M457.0 108.1h1.25M467.1 99.3h1.25M468.9 95.8h1.25M465.4 98.7h1.25M465.9 100.2h1.25M466.9 110.1h1.25M466.0 110.0h1.25M476.2 109.0h1.25M462.5 95.5h1.25M466.9 110.0h1.25M465.2 108.2h1.25M463.3 97.7h1.25M468.2 107.7h1.25M469.5 99.4h1.25M456.4 106.0h1.25M474.5 102.8h1.25M473.0 107.3h1.25M460.4 106.4h1.25M466.1 98.5h1.25M475.4 103.2h1.25M477.3 98.0h1.25M469.1 108.1h1.25M458.3 106.8h1.25M465.0 100.2h1.25M461.2 103.4h1.25M463.2 100.6h1.25M469.3 99.8h1.25M463.7 109.4h1.25M474.3 99.0h1.25M463.5 101.3h1.25M471.7 98.7h1.25M459.0 102.8h1.25M469.1 108.0h1.25M473.4 100.2h1.25M477.1 102.3h1.25M476.0 110.0h1.25M463.3 99.1h1.25M470.8 108.5h1.25M477.7 103.5h1.25M464.4 106.2h1.25M462.7 106.0h1.25M462.6 97.7h1.25M459.3 103.2h1.25M471.0 97.7h1.25M467.3 99.5h1.25M464.1 101.3h1.25M468.9 99.8h1.25M478.0 99.1h1.25M471.4 106.8h1.25M463.2 100.0h1.25M467.9 98.9h1.25M467.7 111.5h1.25M474.3 103.1h1.25M478.8 108.8h1.25M460.9 102.4h1.25M463.6 101.4h1.25M463.1 97.8h1.25M476.4 105.3h1.25M470.3 99.9h1.25M467.4 110.1h1.25M469.3 112.2h1.25M472.5 108.0h1.25M463.0 99.9h1.25M463.0 104.4h1.25M477.8 104.0h1.25M472.6 107.3h1.25M470.0 97.6h1.25M476.1 103.8h1.25M466.4 107.9h1.25M479.1 105.8h1.25M463.2 108.9h1.25M476.8 105.8h1.25M467.6 115.7h1.25M465.6 98.7h1.25M463.4 100.7h1.25M458.9 98.0h1.25M460.6 103.1h1.25M463.7 112.1h1.25M458.0 98.5h1.25M465.8 96.0h1.25M466.0 99.3h1.25M471.3 100.5h1.25M462.8 104.6h1.25M463.7 98.1h1.25M467.1 96.2h1.25M462.5 107.6h1.25M472.1 100.8h1.25M463.8 105.6h1.25M466.8 99.1h1.25M463.9 101.2h1.25M464.1 106.3h1.25M472.1 98.2h1.25M462.8 105.7h1.25M470.2 108.2h1.25M475.6 100.7h1.25M473.4 100.8h1.25M474.8 105.6h1.25M473.9 98.9h1.25M456.6 104.5h1.25M476.2 106.7h1.25M461.5 102.0h1.25M466.7 98.9h1.25M473.9 96.1h1.25M464.2 97.7h1.25M469.2 107.5h1.25M473.0 99.5h1.25M465.4 108.8h1.25M463.2 110.3h1.25M458.8 103.4h1.25M471.2 109.6h1.25M460.6 99.4h1.25M463.5 105.8h1.25M463.6 106.0h1.25M461.9 99.9h1.25M463.0 105.9h1.25M463.3 101.6h1.25M467.5 111.0h1.25M471.7 108.6h1.25M462.9 107.6h1.25M461.1 106.3h1.25M457.6 101.2h1.25M462.8 105.4h1.25M475.9 103.3h1.25M462.9 110.6h1.25M479.2 104.3h1.25M462.3 105.4h1.25M464.5 98.4h1.25M469.9 110.4h1.25M472.8 109.3h1.25M465.8 111.4h1.25M460.0 96.6h1.25M474.4 109.7h1.25M462.2 102.9h1.25M476.0 105.8h1.25M471.6 108.6h1.25M475.6 102.6h1.25M453.2 99.0h1.25M465.3 100.3h1.25M475.1 110.5h1.25M463.4 97.7h1.25M472.5 101.3h1.25M473.8 95.8h1.25M460.8 98.9h1.25M476.6 96.3h1.25M471.3 99.4h1.25M465.3 110.2h1.25M461.0 102.1h1.25M476.0 104.0h1.25M472.3 101.2h1.25M462.2 98.8h1.25M466.5 99.6h1.25M469.2 109.7h1.25M462.4 103.3h1.25M461.6 100.0h1.25M471.2 107.0h1.25M472.7 100.5h1.25M463.7 100.9h1.25M460.8 110.4h1.25M462.3 106.7h1.25M474.0 103.1h1.25M468.2 109.8h1.25M459.6 107.9h1.25M466.2 108.9h1.25M466.3 98.5h1.25M471.1 109.0h1.25M474.0 105.8h1.25M457.9 100.7h1.25M467.0 107.6h1.25M469.0 99.6h1.25M461.0 103.5h1.25M463.3 107.3h1.25M466.7 109.6h1.25M463.5 109.9h1.25M459.5 103.4h1.25M470.0 115.1h1.25M463.1 101.1h1.25M475.3 104.8h1.25M467.4 108.1h1.25M461.7 105.5h1.25M475.1 102.2h1.25M467.5 99.0h1.25M472.1 106.4h1.25M459.4 107.5h1.25M469.2 99.3h1.25M462.6 103.6h1.25M471.5 109.3h1.25M472.7 108.4h1.25M482.0 103.9h1.25M460.5 106.1h1.25M455.1 100.4h1.25M469.4 108.3h1.25M473.5 105.7h1.25M466.7 98.3h1.25M463.1 106.5h1.25M462.1 104.3h1.25M481.1 104.8h1.25M472.5 108.0h1.25M473.1 105.1h1.25M460.2 103.9h1.25M462.8 98.6h1.25M467.5 107.7h1.25M470.5 99.0h1.25M465.6 110.6h1.25M470.0 108.6h1.25M461.0 99.9h1.25M467.8 107.6h1.25M464.5 111.6h1.25M461.9 99.2h1.25M475.3 106.5h1.25M479.1 109.4h1.25M474.6 104.8h1.25M469.1 108.3h1.25M473.3 101.6h1.25M469.6 108.9h1.25M475.5 94.8h1.25M474.9 104.3h1.25M469.5 98.4h1.25M462.4 104.9h1.25M462.6 103.0h1.25M462.9 100.2h1.25M474.4 109.5h1.25M474.5 105.9h1.25M473.7 101.5h1.25M472.2 108.2h1.25M472.6 105.8h1.25M474.7 107.6h1.25M476.1 102.5h1.25M471.1 109.5h1.25M477.4 101.7h1.25M460.4 101.1h1.25M463.2 99.7h1.25M468.3 111.2h1.25M457.3 109.6h1.25M465.3 108.1h1.25M475.8 107.9h1.25M470.5 108.0h1.25M473.8 105.0h1.25M462.7 104.4h1.25M475.7 102.1h1.25M464.0 98.8h1.25M481.2 104.5h1.25M463.8 101.2h1.25M474.4 98.9h1.25M476.5 104.0h1.25M470.8 107.6h1.25M474.7 102.4h1.25M464.3 96.9h1.25M468.9 110.0h1.25M474.1 108.3h1.25M463.3 107.6h1.25M459.7 105.6h1.25M475.4 104.0h1.25M474.2 110.2h1.25M467.0 108.8h1.25M460.7 107.0h1.25M464.2 98.5h1.25M470.6 99.3h1.25M461.3 100.6h1.25M462.1 107.5h1.25M475.1 106.0h1.25M466.3 96.1h1.25M470.3 99.7h1.25M470.1 98.6h1.25M472.3 109.2h1.25M471.1 98.3h1.25M470.9 99.1h1.25M476.7 106.0h1.25M470.3 108.0h1.25M475.3 107.2h1.25M474.5 100.5h1.25M460.9 106.3h1.25M472.1 97.9h1.25M473.7 102.7h1.25M461.7 99.9h1.25M460.7 108.0h1.25M470.7 100.1h1.25M466.2 98.4h1.25M460.0 105.8h1.25M476.9 101.6h1.25M470.9 108.8h1.25M465.8 107.1h1.25M464.5 100.7h1.25M463.1 96.6h1.25M467.1 98.9h1.25M468.0 98.0h1.25M460.4 100.1h1.25M470.3 99.9h1.25M468.1 107.5h1.25M461.9 102.0h1.25M466.7 99.7h1.25M478.1 99.8h1.25M478.7 103.5h1.25M474.0 105.4h1.25M461.5 104.7h1.25M470.4 109.0h1.25M467.7 97.7h1.25M471.1 108.7h1.25M474.7 105.7h1.25M473.4 106.1h1.25M467.7 108.4h1.25M477.4 104.1h1.25M465.2 99.5h1.25M474.0 104.1h1.25M461.4 99.3h1.25M472.9 101.9h1.25M466.3 99.0h1.25M476.0 108.8h1.25M471.3 106.9h1.25M465.5 108.3h1.25M469.1 109.0h1.25M472.3 100.5h1.25M470.3 107.9h1.25M464.2 110.6h1.25M469.7 110.6h1.25M464.9 111.5h1.25M476.6 104.4h1.25M462.1 101.7h1.25M476.1 104.0h1.25M474.9 108.1h1.25M469.0 98.5h1.25M475.8 100.8h1.25M477.0 102.1h1.25M466.5 98.8h1.25M474.3 107.1h1.25M460.0 108.7h1.25M478.9 99.6h1.25M462.9 106.9h1.25M468.3 98.6h1.25M466.8 107.5h1.25M467.4 111.8h1.25M473.0 100.4h1.25M451.7 101.6h1.25M479.3 103.7h1.25M463.0 99.1h1.25M464.1 100.6h1.25M462.2 108.5h1.25M466.9 109.0h1.25M475.0 104.7h1.25M467.2 108.8h1.25M461.8 103.2h1.25M466.9 107.4h1.25M473.2 106.1h1.25M481.3 99.8h1.25M471.1 100.5h1.25M470.4 108.9h1.25M468.8 107.7h1.25M472.8 99.8h1.25M468.7 107.8h1.25M462.6 101.4h1.25M480.4 100.7h1.25M475.4 112.4h1.25M461.8 97.6h1.25M460.1 102.7h1.25M473.8 108.1h1.25M472.2 100.2h1.25M457.2 102.1h1.25M459.5 108.8h1.25M464.7 106.7h1.25M474.8 99.5h1.25M462.6 103.0h1.25M476.0 100.8h1.25M476.6 103.5h1.25M475.5 100.8h1.25M458.9 101.8h1.25M465.6 97.8h1.25M465.9 98.8h1.25M467.2 108.1h1.25M473.7 102.9h1.25M472.7 100.1h1.25M474.5 104.1h1.25M477.8 102.6h1.25M473.2 105.5h1.25M461.6 103.4h1.25M461.7 101.3h1.25M469.5 98.5h1.25M473.3 99.9h1.25M468.1 107.9h1.25M463.4 105.3h1.25M473.2 98.9h1.25M461.8 102.8h1.25M461.9 104.6h1.25M469.4 108.8h1.25M474.7 101.6h1.25M464.5 101.1h1.25M467.8 96.8h1.25M474.1 96.0h1.25M473.5 107.9h1.25M460.8 107.5h1.25M464.9 100.5h1.25M460.8 99.9h1.25M470.6 109.0h1.25M474.9 103.8h1.25M461.4 106.4h1.25M469.1 98.5h1.25M471.7 99.5h1.25M468.4 98.1h1.25M462.8 106.0h1.25M463.1 105.6h1.25M460.0 100.0h1.25M467.8 109.3h1.25M454.9 103.5h1.25M466.2 108.0h1.25M474.1 102.2h1.25M463.4 100.0h1.25M461.1 104.3h1.25M465.4 100.5h1.25M458.5 107.8h1.25M470.4 108.3h1.25M463.1 107.1h1.25M467.7 108.4h1.25M468.8 108.9h1.25M474.9 106.3h1.25M467.1 98.6h1.25M475.5 102.8h1.25M465.0 109.3h1.25M466.4 98.7h1.25M468.8 109.7h1.25M472.8 109.0h1.25M465.6 110.4h1.25M474.0 104.4h1.25M469.4 96.7h1.25M475.6 99.8h1.25M471.5 99.8h1.25M468.6 108.5h1.25M461.2 103.7h1.25M460.7 104.3h1.25M477.4 103.5h1.25M469.9 107.4h1.25M460.4 103.3h1.25M463.1 103.0h1.25M469.9 108.0h1.25M471.5 109.3h1.25M466.8 108.6h1.25M472.7 100.4h1.25M471.7 98.4h1.25M474.8 105.3h1.25M460.1 108.8h1.25M470.2 97.7h1.25M473.2 101.9h1.25M470.4 107.3h1.25M478.6 107.2h1.25M459.9 104.3h1.25M470.3 96.8h1.25M476.2 101.0h1.25M470.7 99.0h1.25M473.6 106.8h1.25M466.0 108.6h1.25M470.8 109.4h1.25M475.1 98.9h1.25M473.5 95.8h1.25M473.2 100.2h1.25M457.3 102.5h1.25M474.8 104.6h1.25M470.2 109.2h1.25M472.7 106.5h1.25M476.2 100.4h1.25M477.8 96.8h1.25M466.6 109.4h1.25M462.2 101.4h1.25M459.3 106.4h1.25M469.4 99.2h1.25M463.2 100.6h1.25M461.9 102.1h1.25M476.1 106.6h1.25M467.2 99.7h1.25M464.7 110.7h1.25M463.1 108.1h1.25M469.3 99.6h1.25M473.3 99.6h1.25M461.9 107.7h1.25M475.1 103.2h1.25M457.2 105.6h1.25M465.8 97.2h1.25M469.8 97.4h1.25M459.9 103.0h1.25M473.2 108.9h1.25M477.1 110.1h1.25M472.5 110.7h1.25M464.7 112.2h1.25M458.1 106.6h1.25M461.9 104.8h1.25M463.3 108.4h1.25M465.7 98.4h1.25M474.9 103.6h1.25M469.5 99.1h1.25M469.1 98.0h1.25M475.0 99.5h1.25M476.0 104.0h1.25M470.2 109.4h1.25M463.9 99.9h1.25M461.5 103.7h1.25M472.3 108.1h1.25M476.9 107.9h1.25M466.2 109.3h1.25M473.5 106.2h1.25M459.9 104.9h1.25M460.9 107.3h1.25M461.7 102.0h1.25M469.9 95.7h1.25M468.2 107.9h1.25M456.2 105.8h1.25M474.1 102.8h1.25M474.9 103.5h1.25M473.3 97.9h1.25M472.2 96.7h1.25M464.1 113.8h1.25M461.7 102.5h1.25M470.8 108.4h1.25M464.2 108.4h1.25M471.3 97.2h1.25M469.4 108.1h1.25M473.8 102.6h1.25M463.8 105.4h1.25M473.7 103.1h1.25M463.8 100.5h1.25M475.0 108.5h1.25M467.6 109.1h1.25M469.7 107.5h1.25M471.6 107.5h1.25M461.7 101.7h1.25M458.6 97.8h1.25M473.7 102.4h1.25M473.4 104.6h1.25M456.4 104.4h1.25M467.9 97.8h1.25M462.8 103.6h1.25M468.0 111.7h1.25M468.0 108.7h1.25M467.3 99.7h1.25M471.6 106.9h1.25M465.6 97.1h1.25M465.7 97.2h1.25M468.8 107.5h1.25M457.3 101.6h1.25M475.2 105.8h1.25M466.5 108.9h1.25M458.6 105.7h1.25M472.6 107.6h1.25M471.9 107.1h1.25M474.7 104.6h1.25M477.9 99.1h1.25M467.1 109.1h1.25M460.6 101.7h1.25M470.4 110.1h1.25M475.2 104.1h1.25M476.9 99.8h1.25M465.8 98.9h1.25M473.6 105.5h1.25M473.2 101.0h1.25M462.2 96.4h1.25M459.8 109.2h1.25M465.4 108.5h1.25M477.2 111.6h1.25M468.9 99.0h1.25M462.8 107.6h1.25M476.7 104.0h1.25M475.5 107.6h1.25M466.8 109.5h1.25M475.6 102.8h1.25M473.5 106.0h1.25M467.6 98.8h1.25M463.4 98.1h1.25M476.0 100.2h1.25M460.4 100.6h1.25M478.0 107.8h1.25M473.6 104.1h1.25M475.3 104.5h1.25M472.3 98.7h1.25M469.5 108.5h1.25M468.0 107.8h1.25M465.4 107.4h1.25M474.0 104.9h1.25M462.9 104.1h1.25M463.8 105.6h1.25M461.2 105.2h1.25M463.3 111.9h1.25M465.5 110.0h1.25M470.2 107.3h1.25M462.5 109.8h1.25M474.5 104.0h1.25M481.1 101.0h1.25M464.0 100.8h1.25M474.0 105.8h1.25M478.5 103.0h1.25M465.4 100.4h1.25M472.5 109.0h1.25M463.4 102.7h1.25M460.8 100.3h1.25M464.7 97.0h1.25M461.3 100.5h1.25M465.6 99.9h1.25M464.6 107.2h1.25M471.0 100.0h1.25M475.6 105.5h1.25M462.1 99.0h1.25M474.7 104.6h1.25M465.1 106.9h1.25M469.4 99.7h1.25M477.2 101.1h1.25M472.6 106.7h1.25M458.4 95.8h1.25M479.5 106.3h1.25M477.3 113.2h1.25M476.5 104.9h1.25M470.1 99.9h1.25M464.8 109.0h1.25M469.0 99.6h1.25M469.8 98.8h1.25M470.4 100.0h1.25M477.0 107.7h1.25M459.3 104.1h1.25M465.4 109.2h1.25M473.2 100.7h1.25M475.0 105.4h1.25M473.8 105.1h1.25M475.9 105.3h1.25M475.1 107.8h1.25M466.2 109.8h1.25M476.2 100.8h1.25M470.8 107.3h1.25M474.0 110.4h1.25M476.4 107.0h1.25M471.1 109.3h1.25M459.5 99.1h1.25M469.3 99.5h1.25M468.4 111.6h1.25M458.5 117.7h1.25M469.9 110.1h1.25M445.2 106.6h1.25M456.7 118.1h1.25M445.4 109.4h1.25M462.4 101.4h1.25M466.8 111.6h1.25M468.3 114.2h1.25M449.5 107.4h1.25M476.2 107.2h1.25M450.4 105.8h1.25M462.7 112.4h1.25M469.2 111.9h1.25M457.9 109.5h1.25M462.5 112.6h1.25M461.1 110.5h1.25M464.0 114.9h1.25M450.4 110.2h1.25M461.4 105.0h1.25M457.8 104.9h1.25M447.0 106.2h1.25M479.5 110.8h1.25M464.2 112.9h1.25M455.0 119.1h1.25M459.9 114.0h1.25M458.5 121.4h1.25M453.8 115.7h1.25M459.9 103.0h1.25M447.1 118.9h1.25M429.1 104.8h1.25M459.4 116.1h1.25M430.3 114.0h1.25M459.9 116.4h1.25M449.1 112.9h1.25M462.6 102.2h1.25M454.8 116.6h1.25M446.1 115.5h1.25M448.3 117.8h1.25M463.9 107.3h1.25M455.9 115.5h1.25M475.9 111.5h1.25M463.0 116.0h1.25M462.5 106.3h1.25M455.2 113.0h1.25M453.2 116.9h1.25M444.6 114.4h1.25M458.0 113.6h1.25M458.6 111.0h1.25M457.2 114.3h1.25M449.4 119.8h1.25M458.5 111.6h1.25M454.5 105.3h1.25M460.9 107.0h1.25M481.2 110.2h1.25M468.8 107.9h1.25M460.4 106.6h1.25M464.2 107.0h1.25M467.3 121.4h1.25M468.3 106.1h1.25M459.7 117.3h1.25M457.7 114.2h1.25M455.9 124.2h1.25M447.6 111.4h1.25M464.4 114.0h1.25M452.0 103.4h1.25M454.2 119.0h1.25M445.0 113.5h1.25M458.4 111.6h1.25M464.0 109.6h1.25M456.9 103.4h1.25M440.8 107.9h1.25M447.0 113.0h1.25M465.6 109.5h1.25M451.5 113.1h1.25M437.5 109.9h1.25M453.1 110.6h1.25M466.6 103.4h1.25M443.1 114.6h1.25M453.2 109.7h1.25M447.7 109.9h1.25M464.8 115.5h1.25M467.4 108.3h1.25M455.1 116.7h1.25M461.4 112.0h1.25M470.1 108.2h1.25M451.6 126.8h1.25M465.2 114.5h1.25M437.0 108.4h1.25M443.8 113.9h1.25M453.7 115.7h1.25M457.4 114.1h1.25M441.2 126.3h1.25M457.1 108.8h1.25M478.1 103.3h1.25M451.3 114.9h1.25M460.8 121.9h1.25M461.1 122.2h1.25M449.1 116.7h1.25M468.5 116.9h1.25M455.4 107.3h1.25M461.9 105.2h1.25M447.6 107.4h1.25M454.9 116.9h1.25M456.3 109.6h1.25M428.1 103.6h1.25M464.5 110.9h1.25M458.7 123.3h1.25M463.3 116.8h1.25M464.6 119.2h1.25M456.2 114.6h1.25M456.5 133.5h1.25M468.1 127.2h1.25M459.3 126.0h1.25M477.6 109.9h1.25M470.3 112.0h1.25M451.2 115.8h1.25M455.5 121.8h1.25M437.3 109.5h1.25M438.7 127.3h1.25M447.2 115.3h1.25M476.6 133.2h1.25M479.4 112.0h1.25M435.5 125.0h1.25M460.1 120.9h1.25M431.2 130.9h1.25M453.7 133.6h1.25M471.6 122.5h1.25M457.1 124.4h1.25M452.7 133.3h1.25M428.6 121.8h1.25M467.4 124.5h1.25M432.4 124.1h1.25" stroke="#000" stroke-width="1.25" fill="none"/>
<text x="24.3" y="199.7" font-size="24.6" class="b">B</text>
<path d="M62.7 202L210.8 202.6L209.7 360.1L61.9 359.5Z" fill="none" stroke="#000" stroke-width="1.5"/>
<path d="M60.599999999999994 360.0H62.3M61.9 359.5V361.7M60.599999999999994 328.4H62.3M92.5 359.5V361.7M60.599999999999994 296.8H62.3M122.2 359.5V361.7M60.599999999999994 265.2H62.3M151.7 359.5V361.7M60.599999999999994 233.6H62.3M180.7 359.5V361.7M60.599999999999994 202.0H62.3M211.4 359.5V361.7" stroke="#000" stroke-width="1.1" fill="none"/>
<text x="54.6" y="360.0" font-size="7.4" class="b" text-anchor="middle">0</text>
<text x="62.15" y="369.5" font-size="7.4" class="b" text-anchor="middle">0</text>
<text x="53.8" y="331.7" font-size="7.4" class="b" text-anchor="middle">20</text>
<text x="92.8" y="369.6" font-size="7.4" class="b" text-anchor="middle">20</text>
<text x="53.8" y="300.1" font-size="7.4" class="b" text-anchor="middle">40</text>
<text x="122.5" y="369.7" font-size="7.4" class="b" text-anchor="middle">40</text>
<text x="53.8" y="268.5" font-size="7.4" class="b" text-anchor="middle">60</text>
<text x="152.0" y="369.7" font-size="7.4" class="b" text-anchor="middle">60</text>
<text x="53.8" y="236.9" font-size="7.4" class="b" text-anchor="middle">80</text>
<text x="181.0" y="369.8" font-size="7.4" class="b" text-anchor="middle">80</text>
<text x="53.3" y="205.9" font-size="7.4" class="b" text-anchor="middle">100</text>
<text x="211.7" y="369.9" font-size="7.4" class="b" text-anchor="middle">100</text>
<path d="M61.9 347.6L80.9 329.8L111.5 299.5L136.2 274.7L210.6 202.2" stroke-linejoin="round" stroke="#000" stroke-width="1.5" fill="none"/>
<text x="70.8" y="385.6" font-size="13" class="b" textLength="132" lengthAdjust="spacingAndGlyphs" transform="rotate(0.4 70.8 385.6)">Bak positive cells (%)</text>
<text x="35.2" y="333.6" font-size="13.5" class="b" textLength="115.4" lengthAdjust="spacingAndGlyphs" transform="rotate(-90 35.2 333.6)">Apoptotic cells (%)</text>
<text x="161.9" y="336.6" font-size="9.5" textLength="32.7" lengthAdjust="spacingAndGlyphs">r=0.948</text>
<text x="161.9" y="348.3" font-size="9.5" textLength="33.6" lengthAdjust="spacingAndGlyphs">p&lt;0.001</text>
<rect x="143.20" y="270.40" width="4.20" height="4.20" rx="1" fill="#d9d9d9"/><path d="M143.00 272.5H147.60M145.3 270.20V274.80M143.46 270.66L147.14 274.34M143.46 274.34L147.14 270.66" stroke="#b4b4b4" stroke-width="0.8" fill="none"/>
<rect x="114.90" y="302.00" width="4.20" height="4.20" rx="1" fill="#d9d9d9"/><path d="M114.70 304.1H119.30M117.0 301.80V306.40M115.16 302.26L118.84 305.94M115.16 305.94L118.84 302.26" stroke="#b4b4b4" stroke-width="0.8" fill="none"/>
<rect x="118.70" y="306.60" width="4.20" height="4.20" rx="1" fill="#d9d9d9"/><path d="M118.50 308.7H123.10M120.8 306.40V311.00M118.96 306.86L122.64 310.54M118.96 310.54L122.64 306.86" stroke="#b4b4b4" stroke-width="0.8" fill="none"/>
<rect x="110.40" y="322.30" width="4.20" height="4.20" rx="1" fill="#d9d9d9"/><path d="M110.20 324.4H114.80M112.5 322.10V326.70M110.66 322.56L114.34 326.24M110.66 326.24L114.34 322.56" stroke="#b4b4b4" stroke-width="0.8" fill="none"/>
<rect x="91.50" y="330.20" width="4.20" height="4.20" rx="1" fill="#d9d9d9"/><path d="M91.30 332.3H95.90M93.6 330.00V334.60M91.76 330.46L95.44 334.14M91.76 334.14L95.44 330.46" stroke="#b4b4b4" stroke-width="0.8" fill="none"/>
<rect x="69.00" y="342.70" width="4.20" height="4.20" rx="1" fill="#d9d9d9"/><path d="M68.80 344.8H73.40M71.1 342.50V347.10M69.26 342.96L72.94 346.64M69.26 346.64L72.94 342.96" stroke="#b4b4b4" stroke-width="0.8" fill="none"/>
<rect x="77.20" y="325.90" width="4.20" height="4.20" rx="1" fill="#d9d9d9"/><path d="M77.00 328H81.60M79.3 325.70V330.30M77.46 326.16L81.14 329.84M77.46 329.84L81.14 326.16" stroke="#b4b4b4" stroke-width="0.8" fill="none"/>
<ellipse cx="203.5" cy="210.1" rx="2.45" ry="2.35" stroke="#000" stroke-width="1.4" fill="#fff"/>
<ellipse cx="172.1" cy="221" rx="2.45" ry="2.35" stroke="#000" stroke-width="1.4" fill="#fff"/>
<ellipse cx="175.2" cy="232.6" rx="2.45" ry="2.35" stroke="#000" stroke-width="1.4" fill="#fff"/>
<ellipse cx="170.6" cy="244.7" rx="2.45" ry="2.35" stroke="#000" stroke-width="1.4" fill="#fff"/>
<ellipse cx="132" cy="257" rx="2.45" ry="2.35" stroke="#000" stroke-width="1.4" fill="#fff"/>
<ellipse cx="139.6" cy="260.6" rx="2.45" ry="2.35" stroke="#000" stroke-width="1.4" fill="#fff"/>
<ellipse cx="152.6" cy="269.6" rx="2.45" ry="2.35" stroke="#000" stroke-width="1.4" fill="#fff"/>
<ellipse cx="130.4" cy="274.5" rx="2.45" ry="2.35" stroke="#000" stroke-width="1.4" fill="#fff"/>
<ellipse cx="137" cy="276.2" rx="2.45" ry="2.35" stroke="#000" stroke-width="1.4" fill="#fff"/>
<ellipse cx="111" cy="289.8" rx="2.45" ry="2.35" stroke="#000" stroke-width="1.4" fill="#fff"/>
<ellipse cx="85.5" cy="321.8" rx="2.45" ry="2.35" stroke="#000" stroke-width="1.4" fill="#fff"/>
<path d="M74.2 328.00L76.85 333.10H71.55Z" fill="#000"/><path d="M74.2 330.40L75.00 331.95H73.40Z" fill="#fff"/>
<path d="M77 319.60L79.65 324.70H74.35Z" fill="#000"/><path d="M77 322.00L77.80 323.55H76.20Z" fill="#fff"/>
<path d="M80 315.10L82.65 320.20H77.35Z" fill="#000"/><path d="M80 317.50L80.80 319.05H79.20Z" fill="#fff"/>
<path d="M87.6 312.30L90.25 317.40H84.95Z" fill="#000"/><path d="M87.6 314.70L88.40 316.25H86.80Z" fill="#fff"/>
<path d="M108.2 308.80L110.85 313.90H105.55Z" fill="#000"/><path d="M108.2 311.20L109.00 312.75H107.40Z" fill="#fff"/>
<path d="M120.1 312.30L122.75 317.40H117.45Z" fill="#000"/><path d="M120.1 314.70L120.90 316.25H119.30Z" fill="#fff"/>
<rect x="152.30" y="242.60" width="4.2" height="4.2" stroke="#000" stroke-width="1.3" fill="#fff"/>
<rect x="158.30" y="260.20" width="4.2" height="4.2" stroke="#000" stroke-width="1.3" fill="#fff"/>
<rect x="100.10" y="286.40" width="4.2" height="4.2" stroke="#000" stroke-width="1.3" fill="#fff"/>
<rect x="85.90" y="322.70" width="4.2" height="4.2" stroke="#000" stroke-width="1.3" fill="#fff"/>
<rect x="83.70" y="330.40" width="4.2" height="4.2" stroke="#000" stroke-width="1.3" fill="#fff"/>
<text x="217.9" y="257.3" font-size="9.5" class="b" textLength="21.6" lengthAdjust="spacingAndGlyphs">Drug</text>
<text x="229.1" y="276.2" font-size="8" textLength="26" lengthAdjust="spacingAndGlyphs" style="stroke-width:.55px">Control</text>
<text x="229.1" y="293.6" font-size="8" textLength="42" lengthAdjust="spacingAndGlyphs" style="stroke-width:.55px">Fludarabine</text>
<text x="229.1" y="311.1" font-size="8" textLength="58.1" lengthAdjust="spacingAndGlyphs" style="stroke-width:.55px">Dexamethasone</text>
<text x="229.8" y="328.5" font-size="8" textLength="16.6" lengthAdjust="spacingAndGlyphs" style="stroke-width:.55px">FCM</text>
<rect x="219.20" y="270.80" width="4.60" height="4.60" rx="1" fill="#d9d9d9"/><path d="M219.00 273.1H224.00M221.5 270.60V275.60M219.50 271.10L223.50 275.10M219.50 275.10L223.50 271.10" stroke="#b4b4b4" stroke-width="0.8" fill="none"/>
<path d="M221.7 288.20L224.45 293.20H218.95Z" fill="#000"/><path d="M221.7 290.45L222.60 292.10H220.80Z" fill="#fff"/>
<rect x="219.60" y="306.00" width="4.6" height="4.6" stroke="#000" stroke-width="1.2" fill="#fff"/>
<ellipse cx="222.3" cy="326" rx="2.75" ry="2.65" stroke="#000" stroke-width="1.3" fill="#fff"/>
<text x="308.1" y="200.1" font-size="24.6" class="b">C</text>
<path d="M343.15 204.3L490.65 205.05L489.7 360.85L342.7 360.55Z" fill="none" stroke="#000" stroke-width="1.3"/>
<path d="M341.1 361.0H342.8M342.3 360.4V362.79999999999995M341.1 329.6H342.8M372.9 360.4V362.79999999999995M341.1 298.3H342.8M402.8 360.4V362.79999999999995M341.1 266.9H342.8M431.7 360.4V362.79999999999995M341.1 235.6H342.8M460.6 360.4V362.79999999999995M341.1 204.2H342.8M491.1 360.4V362.79999999999995" stroke="#000" stroke-width="1.1" fill="none"/>
<text x="336.6" y="361.2" font-size="7.4" class="b" text-anchor="middle">0</text>
<text x="342.65" y="370.1" font-size="7.4" class="b" text-anchor="middle">0</text>
<text x="335.9" y="332.7" font-size="7.4" class="b" text-anchor="middle">20</text>
<text x="373.2" y="370.2" font-size="7.4" class="b" text-anchor="middle">20</text>
<text x="335.9" y="301.4" font-size="7.4" class="b" text-anchor="middle">40</text>
<text x="403.1" y="370.4" font-size="7.4" class="b" text-anchor="middle">40</text>
<text x="335.9" y="270.0" font-size="7.4" class="b" text-anchor="middle">60</text>
<text x="432.0" y="370.5" font-size="7.4" class="b" text-anchor="middle">60</text>
<text x="335.9" y="238.7" font-size="7.4" class="b" text-anchor="middle">80</text>
<text x="460.9" y="370.7" font-size="7.4" class="b" text-anchor="middle">80</text>
<text x="334.9" y="208.5" font-size="7.4" class="b" text-anchor="middle">100</text>
<text x="491.4" y="370.8" font-size="7.4" class="b" text-anchor="middle">100</text>
<path d="M342.8 360.4L490.4 217.3" stroke="#000" stroke-width="1.15" fill="none"/>
<text x="352.0" y="387.6" font-size="13" class="b" textLength="131.8" lengthAdjust="spacingAndGlyphs" transform="rotate(0.2 352.0 387.6)">Bak positive cells (%)</text>
<text x="320.1" y="350.8" font-size="13.3" class="b" textLength="130.2" lengthAdjust="spacingAndGlyphs" transform="rotate(-90 320.1 350.8)">Bax positive cells (%)</text>
<text x="443.5" y="339.3" font-size="9.5" textLength="32.8" lengthAdjust="spacingAndGlyphs">r=0.905</text>
<text x="443.5" y="350.3" font-size="9.5" textLength="33.9" lengthAdjust="spacingAndGlyphs">p&lt;0.001</text>
<ellipse cx="352" cy="351" rx="3.15" ry="2.65" fill="#000"/>
<ellipse cx="354.5" cy="346.5" rx="3.15" ry="2.65" fill="#000"/>
<ellipse cx="357.5" cy="343.3" rx="3.15" ry="2.65" fill="#000"/>
<ellipse cx="361.3" cy="341.5" rx="3.15" ry="2.65" fill="#000"/>
<ellipse cx="366.3" cy="339" rx="3.15" ry="2.65" fill="#000"/>
<ellipse cx="367.5" cy="335.3" rx="3.15" ry="2.65" fill="#000"/>
<ellipse cx="365.8" cy="331" rx="3.15" ry="2.65" fill="#000"/>
<ellipse cx="368.8" cy="329" rx="3.15" ry="2.65" fill="#000"/>
<ellipse cx="360.5" cy="322.8" rx="3.15" ry="2.65" fill="#000"/>
<ellipse cx="373.8" cy="310.8" rx="3.15" ry="2.65" fill="#000"/>
<ellipse cx="382.5" cy="318.3" rx="3.15" ry="2.65" fill="#000"/>
<ellipse cx="388.3" cy="338.5" rx="3.15" ry="2.65" fill="#000"/>
<ellipse cx="397.3" cy="327.9" rx="3.15" ry="2.65" fill="#000"/>
<ellipse cx="391.3" cy="297.8" rx="3.15" ry="2.65" fill="#000"/>
<ellipse cx="400.5" cy="303" rx="3.15" ry="2.65" fill="#000"/>
<ellipse cx="400.8" cy="293.8" rx="3.15" ry="2.65" fill="#000"/>
<ellipse cx="483.3" cy="222" rx="3.15" ry="2.65" fill="#000"/>
<ellipse cx="451.3" cy="251.3" rx="3.15" ry="2.65" fill="#000"/>
<ellipse cx="440.5" cy="253" rx="3.15" ry="2.65" fill="#000"/>
<ellipse cx="432.5" cy="260.5" rx="3.15" ry="2.65" fill="#000"/>
<ellipse cx="434.5" cy="263" rx="3.15" ry="2.65" fill="#000"/>
<ellipse cx="452" cy="260.8" rx="3.15" ry="2.65" fill="#000"/>
<ellipse cx="455" cy="264.3" rx="3.15" ry="2.65" fill="#000"/>
<ellipse cx="411" cy="280.6" rx="3.15" ry="2.65" fill="#000"/>
<ellipse cx="412.5" cy="286.6" rx="3.15" ry="2.65" fill="#000"/>
<ellipse cx="419.8" cy="285.6" rx="3.15" ry="2.65" fill="#000"/>
<ellipse cx="416.6" cy="287" rx="3.15" ry="2.65" fill="#000"/>
<ellipse cx="425.6" cy="286.9" rx="3.15" ry="2.65" fill="#000"/>
</svg>
</body></html>
